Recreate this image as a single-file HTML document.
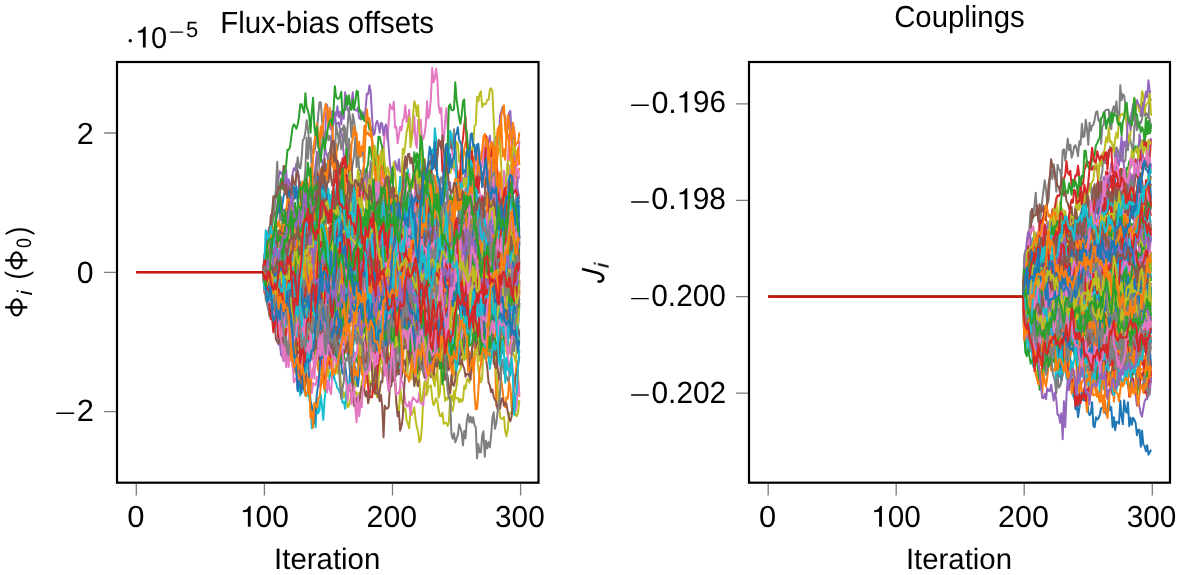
<!DOCTYPE html>
<html><head><meta charset="utf-8"><style>
html,body{margin:0;padding:0;background:#fff;}
svg{display:block;font-family:"Liberation Sans",sans-serif;}
.ln path{vector-effect:non-scaling-stroke;}
</style></head><body>
<svg width="1181" height="575" viewBox="0 0 1181 575">
<defs><clipPath id="c1"><rect x="117" y="62" width="421.5" height="420.7"/></clipPath><clipPath id="c2"><rect x="749" y="62" width="421" height="420.7"/></clipPath></defs>
<rect width="1181" height="575" fill="#fff"/>
<g class="ln" clip-path="url(#c1)"><g transform="translate(136.30 272.30) scale(1.2810 0.5000)" fill="none" stroke-width="2.00" stroke-linejoin="round" stroke-linecap="butt"><path stroke="#1f77b4" d="M99 0l1 -12 1 7 1 1 1 -1 1 -10 1 -12 1 -8 1 -1 1 -1 1 18 1 18 1 -4 1 -5 1 -29 1 31 1 -15 1 16 1 -16 1 12 1 -1 1 -37 1 -17 1 -8 1 -11 1 -26 1 17 1 32 1 37 1 6 1 -42 1 11 1 34 1 37 1 0 1 -4 1 12 1 6 1 30 1 30 1 14 1 17 1 -14 1 -12 1 42 1 2 1 -8 1 -14 1 -1 1 16 1 1 1 9 1 -19 1 -24 1 55 1 14 1 0 1 -22 1 19 1 9 1 -7 1 13 1 18 1 -9 1 -11 1 25 1 29 1 1 1 -49 1 -15 1 -28 1 23 1 6 1 -2 1 12 1 -46 1 -41 1 -12 1 -3 1 -51 1 25 1 1 1 24 1 -26 1 -12 1 17 1 2 1 -2 1 -7 1 -39 1 -17 1 10 1 -1 1 10 1 -8 1 -7 1 -3 1 53 1 -21 1 11 1 -2 1 10 1 -7 1 20 1 9 1 -16 1 -6 1 -6 1 -14 1 -4 1 -14 1 -2 1 -27 1 29 1 -1 1 -10 1 -10 1 22 1 6 1 12 1 3 1 26 1 -2 1 -17 1 -12 1 -16 1 -13 1 -11 1 -9 1 -20 1 16 1 15 1 -10 1 -23 1 -13 1 -29 1 31 1 -26 1 14 1 53 1 -26 1 -20 1 37 1 -3 1 6 1 8 1 -21 1 24 1 -27 1 10 1 -4 1 7 1 17 1 8 1 -23 1 -17 1 1 1 -11 1 -30 1 8 1 6 1 5 1 12 1 -3 1 23 1 4 1 -52 1 4 1 34 1 -36 1 -4 1 -15 1 -7 1 30 1 -23 1 -15 1 -32 1 -26 1 22 1 13 1 17 1 32 1 -8 1 15 1 31 1 -13 1 17 1 5 1 22 1 -15 1 3 1 21 1 -1 1 5 1 -41 1 14 1 21 1 -37 1 7 1 18 1 0"/>
<path stroke="#ff7f0e" d="M99 0l1 -25 1 -1 1 13 1 -13 1 27 1 -58 1 0 1 18 1 17 1 38 1 2 1 -16 1 -6 1 -30 1 -12 1 70 1 36 1 13 1 38 1 -14 1 27 1 38 1 12 1 -11 1 38 1 -14 1 23 1 -21 1 20 1 13 1 -21 1 -47 1 -15 1 -5 1 4 1 54 1 -21 1 -23 1 -8 1 24 1 -31 1 -12 1 -48 1 9 1 -19 1 22 1 -20 1 30 1 -16 1 10 1 -15 1 -5 1 -19 1 12 1 -45 1 -64 1 14 1 -71 1 -2 1 26 1 33 1 -6 1 -18 1 15 1 71 1 40 1 -7 1 -28 1 -42 1 -15 1 -22 1 -15 1 22 1 34 1 20 1 -14 1 19 1 1 1 13 1 -20 1 -23 1 -31 1 22 1 -33 1 8 1 59 1 11 1 10 1 47 1 48 1 -30 1 -40 1 -33 1 -33 1 -10 1 41 1 33 1 -9 1 -20 1 9 1 -8 1 7 1 -46 1 4 1 -4 1 126 1 -27 1 -14 1 -3 1 31 1 21 1 16 1 -28 1 17 1 42 1 -56 1 46 1 -32 1 -9 1 6 1 -60 1 49 1 -34 1 3 1 -11 1 31 1 -27 1 35 1 72 1 10 1 -16 1 8 1 -2 1 45 1 -6 1 -19 1 -30 1 -7 1 24 1 12 1 -78 1 -9 1 -8 1 13 1 14 1 -13 1 50 1 19 1 -37 1 25 1 -57 1 -4 1 -23 1 34 1 -23 1 11 1 2 1 -16 1 15 1 76 1 -26 1 6 1 16 1 19 1 -18 1 -65 1 -2 1 27 1 -11 1 -108 1 32 1 110 1 -22 1 20 1 8 1 -16 1 14 1 4 1 -29 1 -8 1 25 1 107 1 -42 1 -14 1 -8 1 16 1 18 1 24 1 9 1 -20 1 2 1 -33 1 9 1 43 1 -31 1 -10 1 -24 1 -28 1 29 1 42"/>
<path stroke="#2ca02c" d="M99 0l1 7 1 -26 1 -2 1 -5 1 -19 1 -10 1 -28 1 -3 1 11 1 10 1 14 1 -2 1 4 1 -12 1 -2 1 -9 1 -11 1 -18 1 24 1 5 1 13 1 28 1 -24 1 8 1 16 1 7 1 -2 1 19 1 -4 1 16 1 9 1 44 1 8 1 7 1 -25 1 35 1 -8 1 -6 1 -7 1 39 1 6 1 3 1 -1 1 5 1 26 1 -6 1 -9 1 -19 1 0 1 -8 1 -2 1 -13 1 13 1 16 1 26 1 18 1 -3 1 24 1 4 1 -16 1 1 1 16 1 -8 1 -36 1 -8 1 -13 1 34 1 16 1 12 1 15 1 -11 1 -7 1 1 1 -11 1 25 1 -26 1 0 1 13 1 0 1 -5 1 -20 1 11 1 7 1 -15 1 -19 1 19 1 -18 1 -40 1 -14 1 -35 1 -14 1 -14 1 12 1 -18 1 -5 1 -7 1 9 1 19 1 7 1 -40 1 6 1 -14 1 -6 1 -11 1 37 1 -1 1 -7 1 15 1 -10 1 -4 1 9 1 -1 1 8 1 -3 1 -10 1 39 1 -23 1 11 1 -20 1 17 1 -18 1 -27 1 8 1 31 1 13 1 9 1 -21 1 26 1 -29 1 16 1 2 1 16 1 -26 1 -8 1 24 1 -35 1 20 1 12 1 40 1 -20 1 -26 1 8 1 40 1 -2 1 19 1 -36 1 3 1 -5 1 -19 1 -16 1 7 1 -18 1 4 1 18 1 21 1 -22 1 -20 1 -40 1 -14 1 8 1 -1 1 12 1 0 1 -5 1 5 1 6 1 12 1 18 1 26 1 18 1 -25 1 -10 1 -10 1 21 1 1 1 -23 1 35 1 -11 1 -5 1 -8 1 4 1 30 1 40 1 25 1 -48 1 5 1 6 1 7 1 -6 1 -24 1 -6 1 -27 1 -2 1 14 1 14 1 -8 1 13 1 -12 1 8 1 11"/>
<path stroke="#d62728" d="M99 0l1 -2 1 5 1 -13 1 -5 1 -13 1 8 1 3 1 7 1 -4 1 -9 1 6 1 6 1 0 1 1 1 -3 1 -6 1 -5 1 10 1 12 1 9 1 11 1 21 1 -6 1 -3 1 -3 1 -11 1 17 1 11 1 -13 1 -3 1 -13 1 5 1 6 1 -15 1 -7 1 -10 1 -11 1 -6 1 16 1 3 1 -6 1 -11 1 -3 1 -29 1 4 1 28 1 9 1 -5 1 -18 1 -1 1 -3 1 11 1 -9 1 -10 1 -10 1 19 1 22 1 -7 1 -8 1 6 1 16 1 11 1 -11 1 6 1 -14 1 -1 1 -11 1 -11 1 1 1 -21 1 -22 1 10 1 23 1 11 1 8 1 11 1 13 1 15 1 -10 1 26 1 8 1 -2 1 -3 1 4 1 -20 1 2 1 -4 1 9 1 32 1 -9 1 5 1 -20 1 0 1 -11 1 -15 1 -26 1 12 1 18 1 -9 1 2 1 -24 1 25 1 -14 1 -13 1 15 1 -1 1 -8 1 -16 1 8 1 -5 1 3 1 -12 1 -7 1 -4 1 -4 1 -2 1 10 1 4 1 -12 1 10 1 2 1 9 1 -5 1 -5 1 -15 1 -3 1 -23 1 -9 1 3 1 -1 1 -8 1 -6 1 -8 1 4 1 1 1 -14 1 36 1 19 1 3 1 -17 1 -26 1 15 1 12 1 -9 1 -6 1 -4 1 4 1 5 1 10 1 -19 1 1 1 -3 1 20 1 4 1 0 1 14 1 15 1 4 1 -8 1 -4 1 7 1 8 1 13 1 10 1 13 1 16 1 -13 1 20 1 6 1 7 1 -11 1 -5 1 8 1 -7 1 16 1 -14 1 2 1 1 1 -33 1 -4 1 -9 1 -6 1 4 1 15 1 -2 1 7 1 -3 1 8 1 0 1 -7 1 -15 1 -6 1 15 1 0 1 20 1 -2 1 6 1 -13 1 -2 1 7"/>
<path stroke="#9467bd" d="M99 0l1 2 1 8 1 -21 1 -31 1 20 1 17 1 -10 1 -39 1 -6 1 -53 1 -9 1 -41 1 14 1 -2 1 22 1 9 1 -5 1 -2 1 27 1 44 1 -17 1 -15 1 11 1 30 1 -17 1 11 1 -44 1 21 1 -25 1 -5 1 34 1 -23 1 -17 1 10 1 2 1 -9 1 -30 1 28 1 -57 1 -23 1 -26 1 -24 1 14 1 -17 1 14 1 7 1 17 1 -31 1 -75 1 -23 1 32 1 10 1 8 1 -38 1 15 1 -9 1 22 1 -3 1 -2 1 13 1 6 1 13 1 36 1 17 1 33 1 -12 1 22 1 -7 1 43 1 -23 1 26 1 13 1 2 1 -32 1 -33 1 0 1 25 1 -42 1 43 1 14 1 14 1 -29 1 47 1 -61 1 4 1 17 1 23 1 -12 1 -32 1 27 1 -17 1 -6 1 54 1 0 1 -50 1 35 1 -3 1 7 1 -13 1 21 1 -5 1 -11 1 10 1 18 1 -7 1 54 1 -65 1 56 1 82 1 -42 1 47 1 14 1 -26 1 -6 1 -41 1 -6 1 -16 1 -4 1 27 1 -19 1 16 1 -22 1 -9 1 0 1 12 1 -65 1 19 1 4 1 -44 1 20 1 -9 1 4 1 12 1 -27 1 0 1 -24 1 -4 1 46 1 -17 1 -11 1 -3 1 -45 1 34 1 4 1 1 1 -15 1 69 1 -11 1 -8 1 -8 1 -24 1 15 1 -37 1 81 1 -13 1 3 1 40 1 31 1 -6 1 29 1 -6 1 37 1 19 1 -66 1 5 1 14 1 -2 1 20 1 -48 1 40 1 -26 1 50 1 29 1 -8 1 -17 1 13 1 1 1 -11 1 39 1 -18 1 -21 1 -10 1 -23 1 -29 1 -19 1 28 1 -12 1 -4 1 -18 1 32 1 19 1 -14 1 -9 1 -10 1 23 1 -3 1 -5 1 20 1 -19 1 15"/>
<path stroke="#8c564b" d="M99 0l1 -27 1 1 1 -16 1 -24 1 -10 1 -37 1 -6 1 -16 1 13 1 19 1 -25 1 -19 1 -12 1 -16 1 -8 1 -30 1 3 1 50 1 11 1 -24 1 11 1 32 1 27 1 22 1 9 1 39 1 46 1 18 1 -14 1 10 1 20 1 -24 1 -21 1 -30 1 14 1 -28 1 -5 1 -35 1 -35 1 -8 1 6 1 7 1 -15 1 6 1 31 1 21 1 -9 1 -11 1 -15 1 -8 1 14 1 -1 1 -11 1 8 1 -24 1 24 1 -38 1 13 1 31 1 36 1 -7 1 14 1 -23 1 14 1 -10 1 13 1 22 1 7 1 -4 1 -4 1 9 1 3 1 8 1 3 1 -8 1 -12 1 -1 1 0 1 -36 1 -6 1 -14 1 -43 1 22 1 0 1 -21 1 -5 1 -48 1 30 1 4 1 8 1 12 1 18 1 -27 1 1 1 -2 1 8 1 11 1 -14 1 44 1 36 1 3 1 26 1 -9 1 -20 1 -4 1 14 1 35 1 36 1 -13 1 -26 1 19 1 29 1 -17 1 -21 1 -51 1 46 1 -36 1 -5 1 5 1 55 1 46 1 -9 1 8 1 22 1 38 1 16 1 19 1 16 1 35 1 -8 1 19 1 -27 1 24 1 -22 1 -25 1 6 1 -11 1 1 1 -5 1 -12 1 -38 1 25 1 6 1 -23 1 -18 1 -20 1 16 1 7 1 29 1 -24 1 -1 1 24 1 -18 1 7 1 -19 1 5 1 8 1 11 1 -14 1 -32 1 41 1 15 1 -3 1 -27 1 2 1 -9 1 15 1 47 1 -45 1 11 1 -26 1 47 1 -29 1 -15 1 4 1 6 1 22 1 20 1 -21 1 58 1 -33 1 13 1 28 1 21 1 3 1 -64 1 11 1 -21 1 -30 1 16 1 20 1 8 1 -5 1 -26 1 5 1 -41 1 35 1 7 1 25 1 1"/>
<path stroke="#e377c2" d="M99 0l1 25 1 -39 1 29 1 41 1 -20 1 0 1 -3 1 39 1 5 1 -4 1 -16 1 11 1 29 1 45 1 -22 1 13 1 25 1 32 1 -31 1 30 1 -55 1 -17 1 -30 1 -23 1 23 1 -3 1 41 1 4 1 8 1 -43 1 -3 1 -50 1 -58 1 94 1 -56 1 15 1 -23 1 8 1 -47 1 -33 1 26 1 2 1 4 1 24 1 -12 1 -23 1 -33 1 46 1 -12 1 -9 1 13 1 -37 1 -6 1 0 1 -12 1 28 1 6 1 16 1 44 1 7 1 40 1 -2 1 25 1 -10 1 -29 1 -13 1 -41 1 15 1 28 1 -10 1 -3 1 -17 1 1 1 -33 1 -26 1 -10 1 -87 1 62 1 7 1 -28 1 36 1 -32 1 -10 1 13 1 1 1 -11 1 15 1 -54 1 11 1 1 1 -25 1 -10 1 -64 1 6 1 -44 1 -3 1 23 1 -34 1 -37 1 7 1 3 1 -15 1 52 1 -2 1 33 1 -16 1 -17 1 7 1 -20 1 -5 1 -25 1 33 1 -1 1 -23 1 46 1 13 1 -15 1 -31 1 52 1 11 1 -55 1 7 1 -8 1 41 1 -3 1 -9 1 -20 1 -46 1 34 1 -10 1 -31 1 -60 1 29 1 -7 1 -20 1 20 1 53 1 15 1 -10 1 55 1 12 1 -37 1 -29 1 40 1 15 1 11 1 9 1 20 1 28 1 2 1 17 1 26 1 30 1 29 1 4 1 -20 1 21 1 12 1 -16 1 3 1 -6 1 -26 1 3 1 5 1 1 1 -19 1 -19 1 -10 1 6 1 32 1 -24 1 26 1 69 1 -32 1 -13 1 7 1 -17 1 7 1 -21 1 -22 1 -14 1 -11 1 33 1 19 1 -66 1 0 1 45 1 -59 1 27 1 -12 1 -32 1 -49 1 -9 1 21 1 12 1 -45 1 94 1 -20 1 1 1 -48"/>
<path stroke="#7f7f7f" d="M99 0l1 21 1 -2 1 0 1 -1 1 1 1 6 1 -31 1 1 1 -15 1 -35 1 -12 1 21 1 -2 1 -37 1 -22 1 -7 1 13 1 -18 1 -8 1 19 1 -3 1 26 1 13 1 -44 1 -17 1 20 1 4 1 24 1 10 1 -6 1 14 1 72 1 20 1 -2 1 31 1 41 1 -35 1 -54 1 3 1 26 1 20 1 21 1 -10 1 -5 1 -11 1 -8 1 -5 1 16 1 59 1 3 1 -21 1 -5 1 -11 1 22 1 -8 1 -43 1 37 1 77 1 -2 1 -24 1 -8 1 -14 1 4 1 -11 1 -51 1 87 1 0 1 -15 1 11 1 -35 1 5 1 11 1 -2 1 -8 1 4 1 0 1 22 1 -32 1 13 1 -18 1 60 1 2 1 -10 1 -26 1 18 1 -9 1 6 1 -1 1 13 1 14 1 -68 1 -28 1 -17 1 -52 1 -17 1 4 1 15 1 -16 1 50 1 -7 1 14 1 -8 1 -6 1 -14 1 11 1 -57 1 -18 1 24 1 3 1 30 1 -3 1 48 1 9 1 8 1 -12 1 -1 1 -25 1 -36 1 53 1 -35 1 8 1 45 1 62 1 64 1 -36 1 -9 1 -9 1 -32 1 -5 1 -22 1 -8 1 25 1 5 1 26 1 -18 1 -2 1 31 1 -1 1 -17 1 -49 1 26 1 0 1 -14 1 7 1 -81 1 10 1 -29 1 3 1 21 1 -9 1 -14 1 28 1 8 1 10 1 -26 1 23 1 8 1 -9 1 -33 1 -15 1 2 1 -27 1 -6 1 57 1 -29 1 20 1 -18 1 -11 1 2 1 56 1 -43 1 22 1 -20 1 1 1 33 1 5 1 24 1 -33 1 -5 1 -36 1 28 1 -46 1 -35 1 -8 1 21 1 2 1 21 1 13 1 16 1 33 1 -23 1 -21 1 24 1 7 1 -2 1 -45 1 10 1 3 1 -4 1 -12"/>
<path stroke="#bcbd22" d="M99 0l1 19 1 -8 1 3 1 8 1 6 1 7 1 27 1 -3 1 15 1 -20 1 22 1 -6 1 8 1 7 1 16 1 -2 1 18 1 -18 1 -14 1 -32 1 -26 1 -30 1 40 1 -3 1 44 1 -3 1 30 1 -4 1 0 1 -20 1 -5 1 33 1 24 1 -25 1 15 1 13 1 6 1 -8 1 5 1 19 1 -4 1 -3 1 18 1 27 1 0 1 3 1 21 1 17 1 -32 1 -12 1 17 1 -34 1 -7 1 -17 1 52 1 1 1 -24 1 22 1 -15 1 11 1 31 1 7 1 14 1 -9 1 -5 1 33 1 -3 1 -12 1 -20 1 -1 1 0 1 9 1 -3 1 23 1 -22 1 10 1 -34 1 -3 1 2 1 5 1 -1 1 -25 1 31 1 -8 1 1 1 -37 1 3 1 19 1 44 1 -64 1 6 1 1 1 13 1 -4 1 -38 1 -20 1 32 1 -13 1 9 1 2 1 4 1 38 1 9 1 41 1 6 1 15 1 -56 1 25 1 11 1 12 1 -5 1 24 1 6 1 10 1 -33 1 6 1 -7 1 -8 1 25 1 15 1 9 1 21 1 -5 1 -28 1 -53 1 -16 1 9 1 -6 1 -32 1 -13 1 2 1 9 1 10 1 11 1 -25 1 -7 1 55 1 -10 1 -45 1 24 1 7 1 30 1 -6 1 4 1 -9 1 -6 1 -14 1 -15 1 -8 1 -11 1 -33 1 22 1 -27 1 10 1 2 1 6 1 -67 1 -6 1 -35 1 -23 1 6 1 32 1 -34 1 -11 1 -24 1 11 1 -16 1 9 1 -29 1 22 1 -29 1 -9 1 39 1 -3 1 32 1 -25 1 53 1 -14 1 25 1 1 1 -3 1 -6 1 6 1 -2 1 -9 1 25 1 -8 1 33 1 15 1 32 1 7 1 -8 1 -21 1 1 1 24 1 4 1 12 1 -25 1 -6 1 -18"/>
<path stroke="#17becf" d="M99 0l1 -12 1 -27 1 -37 1 21 1 -2 1 19 1 17 1 2 1 -8 1 14 1 -6 1 -13 1 37 1 -5 1 -53 1 22 1 -25 1 -10 1 -8 1 0 1 5 1 64 1 -24 1 -16 1 -12 1 43 1 13 1 72 1 23 1 36 1 -33 1 -12 1 -10 1 -66 1 -38 1 -34 1 -25 1 21 1 -20 1 -8 1 -10 1 16 1 -7 1 9 1 -65 1 -12 1 9 1 -10 1 -52 1 50 1 28 1 13 1 27 1 -3 1 -8 1 -12 1 -44 1 -29 1 -10 1 35 1 21 1 -40 1 38 1 31 1 37 1 20 1 -66 1 10 1 3 1 5 1 5 1 -7 1 49 1 33 1 -25 1 -46 1 65 1 -12 1 0 1 30 1 28 1 -35 1 11 1 -17 1 -57 1 -10 1 -43 1 26 1 -41 1 -53 1 -22 1 10 1 9 1 1 1 97 1 6 1 14 1 -71 1 31 1 22 1 -9 1 -36 1 54 1 -3 1 41 1 -47 1 -17 1 -19 1 26 1 -7 1 -55 1 -3 1 -17 1 24 1 24 1 14 1 27 1 50 1 -46 1 35 1 -55 1 -51 1 -31 1 -38 1 33 1 70 1 26 1 -26 1 -15 1 -12 1 -19 1 -51 1 38 1 -80 1 21 1 79 1 12 1 32 1 45 1 -7 1 -6 1 24 1 35 1 20 1 -5 1 54 1 -7 1 -14 1 4 1 -28 1 -37 1 -22 1 -1 1 10 1 69 1 -18 1 -11 1 -28 1 8 1 21 1 17 1 -31 1 -43 1 -13 1 -28 1 25 1 -24 1 -15 1 31 1 23 1 -39 1 -15 1 38 1 24 1 25 1 -9 1 11 1 60 1 -48 1 11 1 25 1 -31 1 28 1 -65 1 50 1 -7 1 2 1 3 1 -55 1 20 1 28 1 45 1 -16 1 5 1 29 1 -2 1 50 1 -8 1 -28 1 -17"/>
<path stroke="#1f77b4" d="M99 0l1 1 1 7 1 15 1 2 1 -16 1 32 1 -14 1 -14 1 -1 1 -40 1 -18 1 21 1 -1 1 24 1 -6 1 -5 1 13 1 5 1 -7 1 -10 1 -17 1 0 1 0 1 1 1 -8 1 9 1 -1 1 -7 1 -19 1 -30 1 24 1 -35 1 15 1 29 1 8 1 10 1 22 1 17 1 12 1 -2 1 -3 1 32 1 24 1 0 1 3 1 27 1 -42 1 -18 1 -15 1 32 1 7 1 -23 1 16 1 0 1 18 1 -10 1 -2 1 22 1 -27 1 26 1 -31 1 -13 1 -17 1 2 1 3 1 -23 1 47 1 20 1 -3 1 -15 1 -16 1 10 1 2 1 -8 1 15 1 -10 1 3 1 -19 1 -8 1 31 1 -13 1 -16 1 -10 1 21 1 -25 1 -25 1 14 1 12 1 11 1 -31 1 -8 1 -11 1 -14 1 -16 1 30 1 10 1 3 1 23 1 25 1 14 1 -33 1 0 1 5 1 14 1 -14 1 -22 1 22 1 23 1 13 1 -6 1 59 1 -23 1 42 1 -17 1 -23 1 -23 1 -5 1 -8 1 -1 1 -13 1 -19 1 -15 1 9 1 13 1 -2 1 -15 1 -1 1 22 1 -22 1 7 1 -8 1 -36 1 -31 1 35 1 -11 1 18 1 10 1 36 1 -1 1 -9 1 -4 1 2 1 17 1 7 1 -13 1 3 1 13 1 -32 1 -24 1 0 1 -2 1 12 1 -1 1 20 1 2 1 34 1 17 1 -15 1 -6 1 -23 1 -14 1 -11 1 -13 1 -5 1 -15 1 8 1 10 1 -13 1 2 1 26 1 26 1 -21 1 -21 1 -3 1 -2 1 30 1 21 1 -32 1 2 1 -3 1 27 1 8 1 14 1 -20 1 -11 1 -27 1 18 1 6 1 5 1 -1 1 23 1 -6 1 -3 1 14 1 -22 1 9 1 -12 1 5 1 -23 1 -1"/>
<path stroke="#ff7f0e" d="M99 0l1 -4 1 2 1 21 1 2 1 8 1 10 1 -10 1 2 1 -5 1 4 1 -13 1 12 1 11 1 4 1 -23 1 13 1 -26 1 -14 1 -11 1 -2 1 -28 1 -16 1 23 1 -10 1 2 1 -19 1 -2 1 6 1 31 1 1 1 8 1 9 1 9 1 -3 1 10 1 1 1 20 1 21 1 4 1 -7 1 -29 1 -18 1 -3 1 3 1 6 1 35 1 6 1 20 1 -12 1 -9 1 13 1 3 1 -10 1 30 1 16 1 -6 1 16 1 10 1 7 1 3 1 -17 1 0 1 0 1 -8 1 -7 1 -13 1 -3 1 -18 1 -16 1 12 1 -10 1 6 1 -7 1 1 1 -1 1 4 1 -9 1 -20 1 -9 1 5 1 25 1 28 1 -21 1 -1 1 -3 1 -15 1 8 1 10 1 -9 1 -17 1 -17 1 0 1 3 1 -10 1 -13 1 -3 1 -3 1 1 1 20 1 21 1 -15 1 -11 1 -1 1 1 1 -28 1 14 1 26 1 5 1 15 1 6 1 -10 1 16 1 -12 1 12 1 17 1 -6 1 -19 1 8 1 -16 1 -17 1 -10 1 -20 1 14 1 3 1 -8 1 8 1 -1 1 -26 1 -1 1 -4 1 -18 1 -9 1 -25 1 5 1 10 1 8 1 -18 1 8 1 12 1 9 1 4 1 -9 1 8 1 6 1 12 1 13 1 -7 1 7 1 5 1 51 1 -21 1 23 1 -10 1 14 1 -9 1 17 1 -25 1 10 1 7 1 -14 1 11 1 -1 1 -22 1 25 1 7 1 -2 1 0 1 0 1 -32 1 4 1 -3 1 19 1 -8 1 28 1 -6 1 4 1 -2 1 9 1 9 1 -9 1 26 1 20 1 -30 1 3 1 -9 1 -5 1 -29 1 1 1 4 1 4 1 -2 1 18 1 -18 1 25 1 9 1 -4 1 -2 1 -2 1 -3 1 -26"/>
<path stroke="#2ca02c" d="M99 0l1 19 1 -1 1 13 1 18 1 -9 1 -23 1 1 1 9 1 0 1 -1 1 -2 1 -13 1 5 1 6 1 -2 1 -17 1 -13 1 -13 1 1 1 8 1 9 1 18 1 17 1 36 1 1 1 6 1 -9 1 -9 1 -26 1 29 1 8 1 -9 1 18 1 -28 1 20 1 -7 1 3 1 9 1 -13 1 21 1 19 1 0 1 11 1 13 1 -10 1 57 1 -31 1 5 1 0 1 2 1 1 1 -48 1 -12 1 14 1 36 1 -29 1 8 1 4 1 -10 1 6 1 -39 1 -6 1 2 1 -5 1 -6 1 -10 1 -23 1 17 1 8 1 14 1 -8 1 -2 1 -41 1 4 1 16 1 23 1 -15 1 -20 1 -4 1 33 1 -19 1 42 1 7 1 11 1 11 1 1 1 35 1 11 1 -26 1 -54 1 12 1 29 1 1 1 11 1 -6 1 4 1 -34 1 -33 1 1 1 14 1 -1 1 17 1 25 1 16 1 -6 1 11 1 13 1 -2 1 -28 1 6 1 -15 1 1 1 -32 1 20 1 28 1 -6 1 -10 1 11 1 -15 1 -35 1 4 1 27 1 29 1 -44 1 -10 1 17 1 -7 1 -14 1 2 1 -15 1 17 1 7 1 -13 1 -48 1 7 1 -20 1 -24 1 -18 1 51 1 16 1 13 1 -2 1 13 1 -25 1 -11 1 -10 1 1 1 -1 1 -17 1 7 1 32 1 13 1 13 1 25 1 0 1 -33 1 -14 1 -2 1 21 1 -8 1 -8 1 2 1 -10 1 0 1 45 1 -3 1 3 1 -18 1 10 1 13 1 -25 1 36 1 19 1 6 1 4 1 2 1 27 1 -12 1 27 1 -15 1 -21 1 13 1 20 1 12 1 -19 1 -25 1 15 1 -25 1 4 1 -19 1 12 1 -24 1 -28 1 -13 1 -38 1 -16 1 5 1 2 1 -33 1 -36"/>
<path stroke="#d62728" d="M99 0l1 -1 1 7 1 15 1 6 1 23 1 1 1 -9 1 -20 1 -7 1 -2 1 2 1 13 1 -5 1 -1 1 -2 1 17 1 -15 1 -2 1 3 1 -2 1 4 1 2 1 6 1 -18 1 30 1 -7 1 -6 1 -25 1 -3 1 9 1 -13 1 -22 1 -6 1 2 1 -14 1 8 1 -6 1 5 1 -15 1 11 1 5 1 -10 1 2 1 7 1 -3 1 7 1 -11 1 10 1 12 1 8 1 23 1 -18 1 -12 1 -15 1 -11 1 10 1 -19 1 -35 1 15 1 -10 1 28 1 2 1 -19 1 7 1 8 1 -5 1 -3 1 -9 1 0 1 -14 1 10 1 -34 1 -4 1 -17 1 23 1 8 1 -1 1 9 1 13 1 17 1 -28 1 0 1 16 1 6 1 1 1 -20 1 -1 1 1 1 5 1 -3 1 -24 1 -38 1 -14 1 -7 1 13 1 26 1 -17 1 13 1 -19 1 13 1 -3 1 -26 1 7 1 25 1 25 1 13 1 -5 1 -3 1 23 1 -14 1 14 1 28 1 24 1 2 1 -12 1 19 1 16 1 -11 1 17 1 11 1 17 1 -22 1 23 1 -12 1 2 1 13 1 -5 1 -11 1 -5 1 -18 1 -8 1 1 1 -12 1 -7 1 1 1 -4 1 5 1 7 1 -28 1 -2 1 -7 1 -7 1 -14 1 -11 1 8 1 -8 1 -7 1 2 1 29 1 -8 1 23 1 23 1 6 1 6 1 -32 1 -15 1 -4 1 22 1 -9 1 2 1 19 1 -9 1 -23 1 6 1 -2 1 -3 1 10 1 20 1 10 1 7 1 9 1 -5 1 -24 1 -26 1 -19 1 20 1 -7 1 -5 1 7 1 -3 1 22 1 5 1 -4 1 -13 1 11 1 -1 1 -11 1 -47 1 2 1 14 1 -8 1 29 1 -6 1 -7 1 1 1 2 1 -15 1 -3 1 2 1 13"/>
<path stroke="#9467bd" d="M99 0l1 2 1 -10 1 -8 1 -9 1 -38 1 10 1 6 1 0 1 -13 1 22 1 18 1 6 1 27 1 2 1 22 1 29 1 7 1 8 1 25 1 0 1 -18 1 -20 1 25 1 34 1 -26 1 -6 1 -23 1 -1 1 4 1 4 1 0 1 -21 1 3 1 -14 1 -9 1 24 1 1 1 -2 1 -16 1 -20 1 13 1 -13 1 19 1 -15 1 7 1 5 1 -5 1 12 1 7 1 10 1 -39 1 39 1 -15 1 35 1 -33 1 -9 1 0 1 -44 1 -59 1 -15 1 4 1 -14 1 -22 1 33 1 15 1 -14 1 -21 1 -4 1 -8 1 -45 1 -13 1 9 1 -7 1 -19 1 -3 1 29 1 14 1 -6 1 -16 1 9 1 20 1 34 1 -11 1 16 1 -32 1 19 1 -2 1 2 1 -46 1 23 1 16 1 27 1 6 1 14 1 -17 1 18 1 -2 1 17 1 0 1 -7 1 -42 1 -9 1 -6 1 16 1 0 1 16 1 17 1 25 1 -12 1 19 1 -8 1 17 1 56 1 -35 1 -18 1 -13 1 -20 1 -40 1 39 1 4 1 6 1 22 1 -23 1 -24 1 -17 1 26 1 -21 1 -13 1 7 1 30 1 -15 1 -25 1 -3 1 12 1 14 1 -4 1 10 1 8 1 7 1 -37 1 10 1 -29 1 21 1 -11 1 3 1 -2 1 -5 1 4 1 -6 1 39 1 -1 1 18 1 -12 1 -27 1 -5 1 -13 1 -9 1 12 1 -22 1 -25 1 -23 1 -1 1 -17 1 30 1 -50 1 6 1 -5 1 36 1 -18 1 -3 1 28 1 -15 1 16 1 -47 1 -37 1 -9 1 -11 1 28 1 -1 1 -9 1 -16 1 11 1 -5 1 9 1 -59 1 -7 1 -9 1 12 1 11 1 30 1 -9 1 -31 1 -5 1 56 1 -2 1 65 1 25 1 1 1 17 1 10"/>
<path stroke="#8c564b" d="M99 0l1 4 1 -5 1 13 1 6 1 14 1 -1 1 -2 1 -3 1 -28 1 25 1 15 1 -12 1 0 1 5 1 9 1 -13 1 -19 1 20 1 -6 1 2 1 31 1 13 1 15 1 -16 1 22 1 4 1 -10 1 -24 1 3 1 22 1 -12 1 -46 1 -22 1 -21 1 38 1 0 1 16 1 -29 1 3 1 -8 1 30 1 -4 1 -7 1 -8 1 6 1 23 1 40 1 -33 1 -6 1 -29 1 0 1 6 1 12 1 31 1 -21 1 -9 1 2 1 20 1 -28 1 0 1 9 1 5 1 -8 1 -41 1 -5 1 16 1 -16 1 -28 1 32 1 26 1 -42 1 -3 1 -17 1 8 1 -3 1 8 1 8 1 -6 1 -10 1 -23 1 -25 1 0 1 -7 1 2 1 6 1 7 1 0 1 9 1 2 1 -19 1 14 1 2 1 -31 1 14 1 -8 1 -4 1 6 1 -21 1 39 1 12 1 -7 1 -6 1 9 1 5 1 32 1 -7 1 -10 1 1 1 7 1 22 1 19 1 -15 1 14 1 12 1 -9 1 -23 1 -10 1 -13 1 -3 1 -18 1 8 1 13 1 -7 1 5 1 5 1 17 1 2 1 4 1 2 1 3 1 -20 1 -3 1 -27 1 -30 1 18 1 -22 1 18 1 20 1 -4 1 20 1 2 1 21 1 -23 1 28 1 0 1 2 1 8 1 -16 1 8 1 -24 1 -34 1 3 1 35 1 15 1 -12 1 38 1 6 1 20 1 -26 1 26 1 4 1 -15 1 11 1 -11 1 16 1 -31 1 4 1 6 1 23 1 -9 1 13 1 2 1 16 1 20 1 -7 1 49 1 -34 1 -13 1 17 1 -27 1 -18 1 -13 1 0 1 -19 1 9 1 -27 1 45 1 27 1 23 1 9 1 1 1 -31 1 -11 1 -13 1 17 1 -14 1 -22 1 3 1 11 1 18"/>
<path stroke="#e377c2" d="M99 0l1 -28 1 -4 1 -5 1 -9 1 2 1 -7 1 -6 1 -13 1 4 1 -7 1 2 1 3 1 28 1 -6 1 11 1 28 1 18 1 27 1 -12 1 -13 1 -13 1 -36 1 21 1 7 1 0 1 3 1 -2 1 19 1 -14 1 2 1 29 1 5 1 12 1 -17 1 -24 1 46 1 30 1 -23 1 0 1 28 1 -33 1 12 1 36 1 5 1 4 1 30 1 -14 1 1 1 -29 1 7 1 -5 1 8 1 -8 1 28 1 -15 1 11 1 11 1 -16 1 -38 1 -3 1 -14 1 -28 1 1 1 -4 1 -1 1 14 1 -21 1 22 1 -4 1 23 1 9 1 -32 1 18 1 13 1 6 1 -8 1 28 1 4 1 -38 1 0 1 7 1 27 1 -11 1 -24 1 54 1 -14 1 29 1 28 1 14 1 33 1 -19 1 -52 1 -1 1 -26 1 -17 1 -3 1 21 1 10 1 11 1 30 1 7 1 16 1 10 1 -9 1 -16 1 22 1 -7 1 33 1 2 1 17 1 22 1 8 1 0 1 -9 1 26 1 -26 1 -9 1 4 1 1 1 5 1 -1 1 -19 1 22 1 1 1 4 1 -36 1 -17 1 -8 1 -8 1 -38 1 8 1 -7 1 7 1 -7 1 1 1 -32 1 -18 1 -4 1 -19 1 2 1 -31 1 -20 1 -35 1 22 1 -32 1 -1 1 14 1 18 1 -16 1 -25 1 -2 1 -26 1 39 1 0 1 -24 1 14 1 11 1 -31 1 -20 1 8 1 -15 1 6 1 0 1 -6 1 -20 1 1 1 -27 1 22 1 -5 1 -24 1 2 1 7 1 35 1 1 1 13 1 -28 1 25 1 -14 1 7 1 19 1 -2 1 19 1 5 1 16 1 -14 1 34 1 1 1 -6 1 -3 1 -12 1 -55 1 30 1 15 1 8 1 17 1 -26 1 -1 1 0 1 -35 1 -9"/>
<path stroke="#7f7f7f" d="M99 0l1 7 1 -3 1 -6 1 -5 1 15 1 25 1 0 1 9 1 10 1 5 1 -9 1 -14 1 -10 1 3 1 -39 1 32 1 -15 1 -13 1 4 1 -12 1 9 1 0 1 27 1 -32 1 -16 1 -21 1 25 1 -32 1 -59 1 -31 1 28 1 -57 1 -31 1 -63 1 42 1 -38 1 -4 1 23 1 8 1 -3 1 -13 1 -29 1 -31 1 -26 1 0 1 35 1 29 1 20 1 -26 1 2 1 16 1 -9 1 12 1 22 1 23 1 5 1 -31 1 -3 1 -17 1 -11 1 27 1 -12 1 -17 1 -14 1 30 1 36 1 -44 1 22 1 44 1 -17 1 -16 1 -34 1 -2 1 37 1 3 1 -6 1 2 1 -10 1 45 1 -7 1 0 1 33 1 17 1 -16 1 35 1 4 1 5 1 -2 1 -2 1 10 1 -12 1 24 1 -15 1 8 1 3 1 9 1 -27 1 2 1 43 1 -37 1 14 1 28 1 1 1 8 1 -12 1 -28 1 27 1 13 1 25 1 6 1 -14 1 -15 1 4 1 1 1 -37 1 -5 1 21 1 25 1 -8 1 -16 1 1 1 -21 1 -54 1 22 1 -4 1 -27 1 -8 1 0 1 12 1 -12 1 19 1 -40 1 8 1 2 1 8 1 14 1 0 1 -16 1 -8 1 15 1 -34 1 -32 1 -15 1 5 1 -22 1 25 1 -12 1 14 1 -40 1 31 1 38 1 41 1 1 1 -20 1 17 1 6 1 -6 1 -11 1 -31 1 31 1 -31 1 58 1 -5 1 -21 1 28 1 -7 1 7 1 55 1 28 1 -8 1 -43 1 -3 1 30 1 -14 1 30 1 -26 1 2 1 22 1 16 1 31 1 13 1 -24 1 21 1 -27 1 9 1 14 1 -10 1 1 1 -14 1 10 1 39 1 -15 1 -12 1 -22 1 -7 1 -57 1 10 1 25 1 -25 1 -21"/>
<path stroke="#bcbd22" d="M99 0l1 -9 1 2 1 -18 1 10 1 -18 1 11 1 -27 1 2 1 19 1 4 1 -19 1 -26 1 -18 1 -10 1 25 1 20 1 13 1 0 1 -24 1 15 1 48 1 35 1 7 1 7 1 -26 1 12 1 -34 1 20 1 59 1 14 1 3 1 -43 1 -4 1 -47 1 4 1 -17 1 -8 1 -9 1 13 1 26 1 -28 1 -17 1 -22 1 2 1 -24 1 2 1 -33 1 2 1 14 1 19 1 -7 1 -3 1 14 1 0 1 53 1 0 1 49 1 9 1 29 1 14 1 15 1 -21 1 -14 1 10 1 -17 1 12 1 39 1 14 1 55 1 18 1 14 1 19 1 -3 1 -30 1 0 1 -18 1 2 1 36 1 -19 1 -7 1 -7 1 -8 1 2 1 -3 1 22 1 29 1 19 1 -28 1 34 1 -30 1 -33 1 -31 1 26 1 -15 1 7 1 -69 1 -16 1 -42 1 -18 1 -40 1 21 1 33 1 2 1 -13 1 24 1 13 1 -1 1 13 1 -7 1 12 1 -9 1 34 1 10 1 12 1 -12 1 54 1 25 1 10 1 4 1 12 1 -28 1 17 1 42 1 1 1 -19 1 -20 1 1 1 23 1 -11 1 -4 1 -2 1 26 1 14 1 -5 1 -9 1 6 1 18 1 11 1 1 1 -7 1 22 1 -2 1 0 1 6 1 -7 1 -46 1 -7 1 11 1 -21 1 13 1 2 1 -1 1 9 1 -7 1 6 1 -4 1 -28 1 6 1 -18 1 -2 1 8 1 -26 1 -12 1 -24 1 3 1 -5 1 7 1 29 1 15 1 12 1 -8 1 -60 1 13 1 -55 1 43 1 7 1 -2 1 4 1 -10 1 14 1 5 1 33 1 24 1 35 1 27 1 3 1 0 1 -4 1 29 1 10 1 -15 1 -30 1 -2 1 3 1 -35 1 -14 1 50 1 3 1 -7 1 -26"/>
<path stroke="#17becf" d="M99 0l1 12 1 -32 1 -9 1 -1 1 11 1 -9 1 -7 1 9 1 -7 1 41 1 -10 1 6 1 -7 1 -16 1 -3 1 22 1 -1 1 -19 1 -13 1 -25 1 -15 1 -12 1 5 1 4 1 -13 1 11 1 26 1 -39 1 -22 1 11 1 12 1 19 1 16 1 -6 1 8 1 -8 1 -4 1 31 1 42 1 -14 1 7 1 -27 1 -26 1 4 1 11 1 -32 1 -35 1 26 1 28 1 3 1 -2 1 -5 1 -8 1 -16 1 13 1 -15 1 50 1 -8 1 20 1 -20 1 15 1 -12 1 -10 1 -11 1 -19 1 38 1 18 1 10 1 -7 1 42 1 -19 1 -16 1 -16 1 14 1 -28 1 12 1 -17 1 -8 1 24 1 6 1 -21 1 -25 1 -28 1 -10 1 8 1 19 1 4 1 -16 1 2 1 36 1 44 1 10 1 -37 1 4 1 11 1 22 1 -29 1 -23 1 5 1 7 1 32 1 -9 1 -60 1 -10 1 25 1 20 1 -8 1 -12 1 4 1 -33 1 2 1 15 1 -50 1 -1 1 -1 1 12 1 15 1 -29 1 31 1 -2 1 37 1 30 1 6 1 8 1 -3 1 35 1 -38 1 31 1 -11 1 -24 1 34 1 14 1 -18 1 22 1 -12 1 -4 1 0 1 -24 1 29 1 -5 1 14 1 11 1 9 1 13 1 -8 1 -3 1 -6 1 -16 1 -37 1 -7 1 28 1 11 1 -3 1 -22 1 -12 1 2 1 22 1 -33 1 -11 1 11 1 -5 1 -8 1 -2 1 9 1 -16 1 -1 1 15 1 5 1 6 1 8 1 -11 1 1 1 15 1 3 1 -28 1 -14 1 6 1 15 1 1 1 7 1 15 1 0 1 19 1 -22 1 -22 1 -8 1 -7 1 -14 1 9 1 3 1 4 1 -1 1 1 1 -6 1 4 1 28 1 2 1 47 1 -11 1 -18"/>
<path stroke="#1f77b4" d="M99 0l1 1 1 7 1 3 1 -4 1 6 1 -1 1 2 1 -2 1 13 1 7 1 2 1 -11 1 -9 1 18 1 -14 1 7 1 8 1 4 1 -5 1 0 1 1 1 -4 1 -11 1 -3 1 -10 1 -4 1 7 1 -1 1 8 1 0 1 -13 1 6 1 -4 1 24 1 -24 1 -5 1 -4 1 -8 1 -4 1 7 1 4 1 -23 1 -11 1 -1 1 34 1 6 1 15 1 17 1 -7 1 -9 1 15 1 7 1 -11 1 -16 1 -20 1 -4 1 1 1 -21 1 1 1 -23 1 1 1 -16 1 2 1 -4 1 5 1 15 1 13 1 8 1 -14 1 -7 1 -12 1 -3 1 3 1 -12 1 -32 1 23 1 28 1 -2 1 0 1 9 1 -13 1 17 1 -9 1 -2 1 12 1 -1 1 -17 1 -12 1 -22 1 -11 1 9 1 0 1 -10 1 -25 1 1 1 17 1 4 1 13 1 0 1 -2 1 19 1 22 1 2 1 17 1 5 1 12 1 -16 1 -10 1 -14 1 11 1 -9 1 -7 1 3 1 -4 1 1 1 1 1 -5 1 13 1 -12 1 8 1 12 1 -14 1 17 1 0 1 -13 1 16 1 -2 1 -4 1 30 1 20 1 -10 1 -6 1 8 1 9 1 -5 1 12 1 -13 1 4 1 13 1 -7 1 -5 1 9 1 17 1 5 1 -21 1 -6 1 -4 1 20 1 -12 1 -12 1 -13 1 5 1 9 1 -18 1 -25 1 10 1 1 1 -1 1 13 1 -3 1 0 1 -4 1 1 1 15 1 6 1 -2 1 5 1 7 1 -4 1 2 1 -27 1 10 1 -8 1 35 1 0 1 -13 1 6 1 2 1 11 1 8 1 -7 1 4 1 1 1 9 1 -17 1 14 1 -2 1 -17 1 20 1 -6 1 1 1 -19 1 28 1 5 1 -12 1 12 1 -1 1 27 1 3 1 -1"/>
<path stroke="#ff7f0e" d="M99 0l1 -23 1 9 1 6 1 7 1 -2 1 -12 1 -9 1 -1 1 0 1 8 1 29 1 11 1 0 1 4 1 -21 1 -14 1 -3 1 -1 1 13 1 -10 1 -30 1 8 1 4 1 -12 1 2 1 -18 1 22 1 -16 1 15 1 -7 1 -17 1 17 1 -1 1 -3 1 5 1 16 1 -3 1 34 1 12 1 13 1 -9 1 12 1 -8 1 21 1 -3 1 5 1 -19 1 -23 1 5 1 -7 1 16 1 -5 1 2 1 -17 1 -4 1 8 1 10 1 -11 1 -17 1 -1 1 15 1 -4 1 0 1 9 1 -10 1 -3 1 17 1 13 1 11 1 -19 1 11 1 -6 1 -4 1 37 1 5 1 12 1 -16 1 14 1 0 1 -4 1 4 1 -32 1 -6 1 10 1 -13 1 13 1 28 1 -7 1 -16 1 8 1 12 1 10 1 12 1 0 1 -11 1 -1 1 -8 1 29 1 -8 1 5 1 -10 1 -15 1 -17 1 -20 1 -3 1 0 1 -2 1 -5 1 -21 1 18 1 9 1 19 1 7 1 -10 1 -5 1 -12 1 -37 1 7 1 5 1 7 1 13 1 -32 1 35 1 5 1 3 1 17 1 -23 1 -3 1 7 1 0 1 20 1 10 1 7 1 14 1 6 1 9 1 -9 1 -25 1 -17 1 -6 1 1 1 17 1 -29 1 8 1 19 1 -6 1 6 1 -4 1 9 1 -7 1 1 1 -15 1 4 1 6 1 8 1 27 1 -8 1 -6 1 21 1 5 1 -21 1 -5 1 -17 1 -10 1 7 1 -12 1 -14 1 -2 1 -7 1 -13 1 21 1 15 1 -14 1 35 1 -3 1 14 1 17 1 18 1 20 1 -1 1 3 1 -18 1 18 1 10 1 -24 1 15 1 -18 1 -22 1 -5 1 -7 1 7 1 0 1 2 1 10 1 23 1 0 1 -6 1 2 1 7 1 -6"/>
<path stroke="#2ca02c" d="M99 0l1 16 1 16 1 -16 1 -9 1 15 1 13 1 -29 1 15 1 22 1 4 1 -16 1 -30 1 -46 1 -14 1 35 1 34 1 -17 1 -35 1 6 1 11 1 -6 1 8 1 -23 1 -13 1 16 1 -15 1 32 1 -5 1 4 1 27 1 0 1 10 1 21 1 -39 1 52 1 8 1 5 1 2 1 -32 1 12 1 -41 1 -10 1 -36 1 1 1 -4 1 9 1 -24 1 -27 1 -12 1 -54 1 -2 1 29 1 11 1 -41 1 1 1 16 1 21 1 23 1 21 1 -11 1 -22 1 -23 1 -42 1 -27 1 -43 1 44 1 0 1 42 1 28 1 -14 1 11 1 16 1 -55 1 0 1 -21 1 40 1 -1 1 -13 1 2 1 -31 1 -7 1 -11 1 -33 1 4 1 21 1 -4 1 18 1 13 1 18 1 -12 1 -20 1 7 1 -7 1 8 1 17 1 27 1 15 1 -13 1 32 1 41 1 -23 1 -27 1 21 1 22 1 31 1 14 1 1 1 -5 1 21 1 26 1 12 1 -9 1 14 1 25 1 -57 1 13 1 -6 1 -14 1 6 1 -12 1 5 1 37 1 11 1 24 1 17 1 -21 1 -11 1 3 1 -23 1 21 1 15 1 2 1 -12 1 -5 1 -34 1 2 1 -56 1 45 1 5 1 -5 1 5 1 8 1 -16 1 29 1 -49 1 -9 1 -32 1 6 1 7 1 40 1 -15 1 15 1 -6 1 -9 1 42 1 -9 1 -6 1 17 1 26 1 13 1 -54 1 16 1 8 1 -50 1 -16 1 28 1 -16 1 8 1 3 1 2 1 4 1 -6 1 18 1 1 1 18 1 -33 1 -25 1 -4 1 21 1 -21 1 39 1 -5 1 -33 1 4 1 -28 1 61 1 39 1 -2 1 12 1 -14 1 50 1 20 1 -17 1 -20 1 -14 1 -5 1 8 1 0 1 -12 1 11"/>
<path stroke="#d62728" d="M99 0l1 8 1 7 1 0 1 15 1 11 1 -26 1 -15 1 -12 1 14 1 -10 1 16 1 0 1 -14 1 -9 1 3 1 3 1 3 1 5 1 -7 1 -20 1 36 1 1 1 -21 1 -17 1 8 1 -2 1 4 1 4 1 25 1 -11 1 2 1 14 1 -6 1 -1 1 2 1 -21 1 2 1 -15 1 9 1 -33 1 3 1 -8 1 -33 1 10 1 22 1 -1 1 -13 1 9 1 -24 1 9 1 0 1 4 1 12 1 -14 1 7 1 -5 1 5 1 -21 1 -1 1 5 1 28 1 -6 1 5 1 31 1 14 1 -23 1 -22 1 -14 1 -27 1 24 1 -45 1 20 1 -16 1 14 1 -3 1 11 1 -25 1 14 1 -18 1 1 1 -16 1 -12 1 19 1 4 1 37 1 -26 1 5 1 6 1 13 1 2 1 21 1 6 1 -10 1 -22 1 9 1 19 1 -32 1 36 1 3 1 -10 1 7 1 -35 1 -2 1 -8 1 -23 1 -23 1 -14 1 37 1 7 1 7 1 7 1 -14 1 13 1 10 1 -11 1 29 1 8 1 10 1 33 1 14 1 -22 1 10 1 -10 1 20 1 -23 1 3 1 1 1 3 1 24 1 2 1 -21 1 -9 1 -27 1 -28 1 6 1 10 1 -2 1 -20 1 24 1 5 1 17 1 -24 1 3 1 13 1 14 1 1 1 18 1 4 1 1 1 9 1 -8 1 22 1 13 1 -10 1 -14 1 -7 1 13 1 -27 1 13 1 17 1 26 1 -22 1 11 1 -38 1 21 1 6 1 25 1 9 1 8 1 -9 1 -7 1 -8 1 -6 1 5 1 18 1 -16 1 -21 1 20 1 11 1 15 1 13 1 8 1 -9 1 17 1 -1 1 -1 1 -15 1 -18 1 -21 1 10 1 4 1 4 1 37 1 2 1 6 1 -16 1 -9 1 -20 1 3 1 1"/>
<path stroke="#9467bd" d="M99 0l1 -12 1 23 1 3 1 5 1 -25 1 -14 1 -27 1 -14 1 -5 1 -45 1 -14 1 -62 1 -15 1 5 1 -3 1 27 1 -5 1 -27 1 39 1 -20 1 10 1 4 1 -25 1 -11 1 4 1 -14 1 14 1 14 1 32 1 14 1 15 1 -12 1 -29 1 22 1 26 1 5 1 13 1 -28 1 7 1 -25 1 -18 1 -64 1 9 1 -5 1 -43 1 -6 1 1 1 15 1 23 1 4 1 17 1 7 1 -18 1 -53 1 -16 1 -23 1 7 1 -19 1 22 1 -11 1 25 1 -30 1 19 1 -53 1 21 1 15 1 2 1 -5 1 -14 1 -19 1 35 1 0 1 2 1 -7 1 22 1 2 1 -13 1 -1 1 17 1 -25 1 -29 1 1 1 -18 1 14 1 47 1 39 1 -3 1 -19 1 -7 1 8 1 16 1 -20 1 2 1 23 1 -16 1 -6 1 16 1 29 1 34 1 18 1 23 1 -19 1 -27 1 9 1 9 1 -22 1 25 1 -2 1 -4 1 33 1 18 1 -3 1 20 1 -17 1 3 1 14 1 -7 1 47 1 -9 1 -39 1 -11 1 -41 1 11 1 -24 1 44 1 12 1 -4 1 24 1 9 1 -32 1 -16 1 0 1 9 1 34 1 48 1 13 1 12 1 15 1 -11 1 -3 1 -32 1 4 1 -5 1 3 1 5 1 5 1 -31 1 -14 1 -5 1 0 1 0 1 -38 1 12 1 -13 1 -23 1 13 1 -9 1 -14 1 52 1 -23 1 -16 1 59 1 -3 1 -22 1 -19 1 7 1 -3 1 -20 1 -26 1 8 1 12 1 0 1 -9 1 1 1 32 1 -35 1 43 1 -44 1 -23 1 20 1 48 1 15 1 -10 1 16 1 -49 1 14 1 7 1 11 1 13 1 7 1 21 1 27 1 11 1 -27 1 -51 1 20 1 9 1 29 1 17 1 14"/>
<path stroke="#8c564b" d="M99 0l1 -4 1 9 1 -1 1 -24 1 -8 1 25 1 -6 1 9 1 -19 1 -23 1 6 1 -4 1 0 1 -11 1 14 1 -21 1 10 1 -3 1 -1 1 -3 1 25 1 -14 1 -25 1 13 1 -26 1 -17 1 8 1 -3 1 22 1 -3 1 32 1 -18 1 -23 1 -16 1 3 1 7 1 -44 1 -19 1 -28 1 -10 1 -6 1 -7 1 20 1 20 1 5 1 -31 1 -6 1 24 1 13 1 -25 1 -14 1 -8 1 -13 1 0 1 -21 1 -9 1 26 1 1 1 6 1 19 1 -23 1 11 1 15 1 -31 1 10 1 10 1 5 1 -37 1 23 1 47 1 2 1 15 1 13 1 11 1 6 1 20 1 -2 1 -27 1 9 1 12 1 8 1 -16 1 32 1 13 1 44 1 -17 1 15 1 26 1 -5 1 23 1 -49 1 -38 1 16 1 40 1 -1 1 -18 1 0 1 7 1 -8 1 -15 1 -39 1 11 1 8 1 4 1 -8 1 29 1 -3 1 9 1 19 1 4 1 1 1 -28 1 -5 1 15 1 -22 1 13 1 -7 1 4 1 20 1 8 1 21 1 21 1 0 1 -10 1 -42 1 9 1 -11 1 60 1 8 1 -2 1 -16 1 17 1 -7 1 -15 1 -8 1 -5 1 -17 1 23 1 18 1 -29 1 12 1 22 1 22 1 -2 1 -11 1 2 1 24 1 -4 1 35 1 -23 1 -22 1 -2 1 -19 1 -45 1 10 1 21 1 -11 1 -9 1 26 1 15 1 12 1 -11 1 5 1 -30 1 28 1 -23 1 -11 1 1 1 29 1 -26 1 37 1 -47 1 -10 1 20 1 -6 1 -27 1 7 1 9 1 15 1 -12 1 3 1 -23 1 16 1 16 1 -30 1 -4 1 21 1 28 1 4 1 16 1 -36 1 20 1 -7 1 6 1 16 1 12 1 -13 1 1 1 -8 1 4"/>
<path stroke="#e377c2" d="M99 0l1 10 1 -2 1 -3 1 -24 1 -9 1 38 1 12 1 11 1 21 1 -36 1 -16 1 -11 1 7 1 -23 1 -25 1 -2 1 7 1 0 1 -36 1 10 1 -19 1 23 1 21 1 19 1 -29 1 0 1 -6 1 -6 1 -11 1 20 1 31 1 -3 1 -44 1 28 1 16 1 -28 1 -19 1 7 1 -13 1 18 1 -10 1 -14 1 8 1 -29 1 19 1 -4 1 -11 1 -10 1 -21 1 -7 1 -7 1 20 1 -10 1 27 1 -24 1 3 1 -3 1 -6 1 -18 1 6 1 8 1 20 1 -6 1 -1 1 -20 1 41 1 -10 1 6 1 11 1 -17 1 -33 1 -16 1 28 1 -11 1 1 1 -32 1 37 1 6 1 -24 1 -18 1 21 1 8 1 -43 1 20 1 3 1 20 1 -13 1 31 1 -2 1 -21 1 -10 1 -12 1 -14 1 20 1 8 1 11 1 -16 1 -11 1 15 1 14 1 33 1 14 1 1 1 -42 1 32 1 -31 1 -2 1 -2 1 -19 1 -3 1 40 1 -36 1 -2 1 -22 1 29 1 15 1 13 1 -6 1 -38 1 33 1 33 1 -4 1 -6 1 -3 1 29 1 -9 1 -8 1 31 1 1 1 -22 1 19 1 -29 1 -27 1 -11 1 -10 1 -4 1 1 1 -9 1 25 1 -13 1 20 1 56 1 -7 1 12 1 24 1 -7 1 3 1 -26 1 -15 1 27 1 -7 1 29 1 2 1 16 1 -17 1 2 1 -2 1 6 1 14 1 7 1 -4 1 -2 1 -17 1 20 1 -1 1 0 1 -15 1 -15 1 33 1 8 1 -27 1 42 1 7 1 2 1 -2 1 -9 1 -11 1 20 1 -10 1 17 1 33 1 -26 1 13 1 -21 1 -44 1 2 1 -4 1 -10 1 -47 1 4 1 1 1 7 1 14 1 4 1 -15 1 13 1 0 1 -8 1 29 1 -1"/>
<path stroke="#7f7f7f" d="M99 0l1 -14 1 4 1 16 1 25 1 11 1 21 1 -1 1 21 1 20 1 -8 1 -23 1 -23 1 -43 1 -26 1 17 1 -7 1 13 1 4 1 -4 1 22 1 40 1 10 1 15 1 -46 1 -34 1 -33 1 -13 1 6 1 1 1 37 1 -16 1 24 1 -23 1 -24 1 -43 1 47 1 13 1 -30 1 41 1 -15 1 -13 1 4 1 -9 1 11 1 -30 1 13 1 -2 1 -8 1 -43 1 -15 1 -3 1 -4 1 41 1 7 1 28 1 -21 1 -27 1 3 1 4 1 -7 1 -28 1 30 1 -39 1 39 1 42 1 16 1 41 1 16 1 -10 1 -13 1 5 1 -18 1 -26 1 15 1 41 1 -16 1 13 1 10 1 23 1 -31 1 -1 1 -1 1 9 1 -16 1 1 1 22 1 22 1 -26 1 -3 1 10 1 8 1 -2 1 -20 1 -10 1 -34 1 19 1 -8 1 -8 1 34 1 -37 1 13 1 34 1 48 1 -35 1 10 1 11 1 -7 1 12 1 57 1 19 1 10 1 0 1 37 1 -8 1 -48 1 -17 1 39 1 22 1 -59 1 -38 1 0 1 -6 1 -27 1 -28 1 -27 1 -7 1 17 1 0 1 21 1 17 1 -15 1 5 1 11 1 3 1 24 1 -11 1 14 1 15 1 -22 1 -3 1 7 1 -8 1 -26 1 14 1 2 1 8 1 26 1 5 1 -17 1 -15 1 -10 1 -13 1 6 1 13 1 12 1 14 1 -6 1 -47 1 7 1 -20 1 -6 1 4 1 -4 1 -36 1 0 1 -12 1 -16 1 5 1 -43 1 15 1 0 1 6 1 40 1 -19 1 -14 1 7 1 -7 1 17 1 -17 1 43 1 -1 1 -14 1 -9 1 -22 1 5 1 18 1 -37 1 11 1 -10 1 -22 1 27 1 -23 1 -17 1 18 1 10 1 -25 1 -17 1 -6 1 3 1 6"/>
<path stroke="#bcbd22" d="M99 0l1 26 1 -29 1 -26 1 -15 1 23 1 23 1 17 1 13 1 -9 1 -13 1 -10 1 -19 1 22 1 -7 1 -4 1 14 1 20 1 -19 1 15 1 -15 1 10 1 -12 1 -8 1 -7 1 23 1 23 1 21 1 3 1 -22 1 61 1 10 1 -17 1 -19 1 -13 1 -5 1 31 1 -31 1 11 1 11 1 -12 1 -17 1 3 1 10 1 -24 1 -44 1 -21 1 9 1 5 1 15 1 2 1 51 1 16 1 17 1 -17 1 17 1 3 1 -25 1 20 1 -28 1 -12 1 10 1 13 1 6 1 15 1 6 1 -13 1 -9 1 -23 1 46 1 -22 1 -1 1 36 1 24 1 -9 1 12 1 -9 1 41 1 -12 1 21 1 -1 1 -26 1 15 1 -3 1 -44 1 5 1 -5 1 18 1 -27 1 17 1 5 1 34 1 2 1 15 1 8 1 -15 1 5 1 -10 1 -36 1 -18 1 19 1 -29 1 7 1 6 1 33 1 2 1 -44 1 -60 1 -30 1 22 1 -9 1 8 1 -5 1 -5 1 -17 1 -23 1 -17 1 -1 1 -43 1 -3 1 -6 1 -2 1 1 1 4 1 -31 1 6 1 -8 1 32 1 -7 1 -14 1 -8 1 25 1 13 1 -7 1 26 1 22 1 -3 1 -23 1 -6 1 -12 1 -49 1 -2 1 -4 1 -12 1 -2 1 19 1 10 1 -20 1 -6 1 27 1 -21 1 -16 1 -22 1 18 1 15 1 -16 1 -26 1 -11 1 20 1 -20 1 19 1 8 1 -5 1 3 1 -1 1 30 1 11 1 -28 1 44 1 24 1 7 1 20 1 -25 1 21 1 -37 1 -9 1 -6 1 -31 1 -2 1 -21 1 -19 1 8 1 35 1 22 1 29 1 -9 1 33 1 -15 1 10 1 30 1 7 1 0 1 35 1 -1 1 -4 1 -1 1 -6 1 26 1 -10 1 1 1 19"/>
<path stroke="#17becf" d="M99 0l1 -4 1 -14 1 27 1 -24 1 -4 1 10 1 38 1 14 1 -54 1 -3 1 16 1 -14 1 10 1 -14 1 14 1 13 1 -23 1 27 1 30 1 23 1 12 1 22 1 40 1 14 1 38 1 -12 1 51 1 -14 1 28 1 -19 1 -17 1 26 1 9 1 2 1 -20 1 24 1 17 1 43 1 -26 1 -3 1 27 1 -57 1 29 1 -6 1 -32 1 24 1 27 1 -41 1 -20 1 -12 1 5 1 -20 1 -8 1 16 1 -13 1 14 1 6 1 10 1 2 1 7 1 3 1 17 1 -2 1 14 1 -34 1 -19 1 13 1 -15 1 -15 1 -48 1 -18 1 -9 1 -37 1 -5 1 14 1 -14 1 -5 1 -21 1 10 1 -5 1 24 1 3 1 -11 1 13 1 -9 1 22 1 -21 1 14 1 21 1 -9 1 -24 1 3 1 -2 1 -13 1 -30 1 2 1 6 1 9 1 -10 1 34 1 25 1 25 1 -4 1 -15 1 -39 1 7 1 -49 1 44 1 -24 1 36 1 -5 1 -3 1 43 1 15 1 -54 1 -4 1 -5 1 -29 1 -10 1 25 1 -22 1 12 1 -15 1 -42 1 -21 1 4 1 47 1 -17 1 -11 1 3 1 -5 1 -7 1 20 1 -5 1 14 1 -10 1 35 1 -18 1 -17 1 -10 1 -31 1 3 1 -3 1 7 1 32 1 18 1 7 1 -48 1 -27 1 -37 1 -16 1 39 1 -19 1 -62 1 36 1 41 1 29 1 8 1 1 1 2 1 10 1 18 1 24 1 -7 1 50 1 5 1 -2 1 -4 1 -34 1 12 1 -27 1 -7 1 -8 1 -8 1 -28 1 -49 1 19 1 -53 1 -2 1 48 1 3 1 12 1 65 1 39 1 7 1 40 1 -5 1 1 1 28 1 -27 1 -2 1 -12 1 -17 1 17 1 16 1 -2 1 -31 1 53 1 -6 1 15"/>
<path stroke="#1f77b4" d="M99 0l1 -9 1 -11 1 16 1 12 1 2 1 12 1 -3 1 -24 1 5 1 30 1 1 1 -32 1 -26 1 -18 1 13 1 7 1 17 1 -13 1 -22 1 1 1 27 1 -7 1 -2 1 15 1 16 1 -5 1 33 1 -28 1 -31 1 -17 1 -11 1 5 1 19 1 3 1 3 1 -3 1 -36 1 20 1 29 1 19 1 -2 1 7 1 3 1 -13 1 30 1 -25 1 -25 1 11 1 11 1 -17 1 20 1 -8 1 29 1 10 1 -9 1 -2 1 9 1 23 1 -22 1 5 1 43 1 28 1 32 1 -6 1 11 1 14 1 11 1 27 1 6 1 20 1 -22 1 -18 1 27 1 13 1 -25 1 -18 1 -15 1 -11 1 -16 1 -13 1 -16 1 -17 1 11 1 -9 1 7 1 2 1 25 1 3 1 -6 1 25 1 -9 1 -1 1 -22 1 -16 1 9 1 20 1 29 1 26 1 6 1 -30 1 -16 1 -34 1 -16 1 14 1 -26 1 -34 1 -9 1 -1 1 -6 1 -45 1 12 1 10 1 -1 1 18 1 -30 1 -6 1 17 1 40 1 -29 1 -5 1 42 1 -4 1 12 1 -17 1 -7 1 -14 1 -9 1 -24 1 -3 1 5 1 -13 1 -2 1 13 1 14 1 -4 1 -9 1 7 1 12 1 18 1 0 1 -23 1 1 1 -3 1 -4 1 12 1 -46 1 29 1 2 1 -13 1 9 1 -27 1 13 1 0 1 24 1 13 1 3 1 -3 1 17 1 12 1 28 1 -11 1 19 1 17 1 8 1 -8 1 -7 1 -33 1 -31 1 -8 1 -12 1 -21 1 -4 1 5 1 -20 1 -15 1 11 1 24 1 4 1 -28 1 13 1 -4 1 3 1 -5 1 -29 1 2 1 -19 1 19 1 7 1 -15 1 3 1 37 1 42 1 -2 1 4 1 -15 1 56 1 -10 1 5 1 48 1 13"/>
<path stroke="#ff7f0e" d="M99 0l1 -3 1 43 1 19 1 -30 1 9 1 -17 1 0 1 11 1 -2 1 13 1 -3 1 83 1 -17 1 41 1 -37 1 0 1 -18 1 -13 1 -34 1 -10 1 -21 1 24 1 -28 1 43 1 7 1 18 1 -28 1 -72 1 -16 1 14 1 69 1 -37 1 -41 1 -16 1 -32 1 -5 1 -41 1 -38 1 -66 1 -30 1 -17 1 -19 1 17 1 30 1 -42 1 23 1 -33 1 -24 1 -11 1 15 1 31 1 -38 1 36 1 -2 1 55 1 -16 1 -1 1 73 1 7 1 -11 1 9 1 75 1 -51 1 -46 1 73 1 34 1 -14 1 3 1 20 1 8 1 54 1 -4 1 30 1 79 1 -15 1 73 1 64 1 0 1 32 1 -32 1 -68 1 12 1 -54 1 -46 1 20 1 -15 1 -31 1 33 1 -76 1 62 1 -4 1 9 1 28 1 9 1 66 1 12 1 -16 1 -16 1 -30 1 48 1 46 1 -10 1 18 1 -66 1 -2 1 -5 1 14 1 13 1 35 1 -54 1 -107 1 57 1 -74 1 41 1 -60 1 49 1 -19 1 62 1 -9 1 7 1 -51 1 -21 1 -4 1 69 1 47 1 -39 1 85 1 -28 1 9 1 -5 1 -50 1 37 1 -82 1 1 1 45 1 29 1 8 1 -14 1 1 1 -4 1 20 1 30 1 -19 1 -89 1 53 1 49 1 38 1 9 1 -84 1 30 1 -3 1 -23 1 3 1 -63 1 -59 1 22 1 8 1 -3 1 -90 1 -49 1 -56 1 40 1 4 1 -10 1 -7 1 -25 1 47 1 9 1 73 1 -72 1 94 1 -41 1 13 1 -44 1 -51 1 62 1 -56 1 -37 1 -8 1 -58 1 -34 1 65 1 -37 1 -13 1 -20 1 -32 1 67 1 -15 1 21 1 -50 1 -3 1 22 1 33 1 -34 1 65 1 -13 1 10 1 55 1 -8 1 34"/>
<path stroke="#2ca02c" d="M99 0l1 -3 1 -14 1 -1 1 -10 1 17 1 -39 1 -33 1 -38 1 -24 1 -15 1 11 1 -2 1 -18 1 -18 1 21 1 -35 1 1 1 -15 1 -30 1 0 1 -6 1 -19 1 -20 1 -6 1 4 1 5 1 -9 1 -14 1 -26 1 0 1 9 1 8 1 -39 1 28 1 7 1 11 1 33 1 -43 1 -27 1 59 1 16 1 -18 1 41 1 10 1 20 1 -31 1 -17 1 24 1 -18 1 -17 1 -14 1 -9 1 -3 1 12 1 -32 1 -46 1 21 1 4 1 0 1 -4 1 -10 1 47 1 -11 1 0 1 -28 1 17 1 -18 1 27 1 2 1 -20 1 19 1 -16 1 -21 1 2 1 40 1 -3 1 18 1 -9 1 12 1 1 1 -1 1 4 1 14 1 -6 1 26 1 23 1 12 1 18 1 -18 1 -41 1 0 1 11 1 9 1 46 1 -6 1 12 1 22 1 15 1 -12 1 43 1 -13 1 19 1 -22 1 0 1 39 1 30 1 9 1 10 1 9 1 12 1 -19 1 15 1 -16 1 -43 1 4 1 -15 1 26 1 14 1 -14 1 -13 1 -15 1 -2 1 -19 1 -9 1 16 1 -21 1 39 1 3 1 21 1 26 1 -26 1 -21 1 17 1 2 1 -46 1 -1 1 16 1 9 1 19 1 14 1 -37 1 15 1 12 1 -21 1 -16 1 -30 1 7 1 14 1 -30 1 1 1 1 1 3 1 50 1 19 1 -29 1 14 1 -2 1 11 1 -24 1 23 1 -35 1 11 1 33 1 63 1 9 1 -29 1 26 1 12 1 16 1 42 1 -25 1 18 1 4 1 -43 1 -15 1 19 1 -7 1 16 1 -17 1 -12 1 9 1 14 1 21 1 2 1 2 1 6 1 21 1 35 1 -7 1 -2 1 -13 1 -10 1 16 1 11 1 -14 1 -18 1 67 1 4 1 -12 1 -6"/>
<path stroke="#d62728" d="M99 0l1 2 1 20 1 -9 1 -22 1 -28 1 -7 1 4 1 8 1 12 1 21 1 40 1 27 1 -16 1 -15 1 6 1 21 1 -19 1 44 1 12 1 8 1 -36 1 -13 1 -38 1 -2 1 -14 1 -6 1 19 1 -46 1 49 1 -8 1 31 1 -38 1 -22 1 -4 1 -11 1 4 1 0 1 7 1 -46 1 -71 1 -4 1 -18 1 -39 1 42 1 2 1 0 1 -18 1 -3 1 -11 1 42 1 22 1 16 1 -10 1 -34 1 25 1 -8 1 -11 1 -12 1 16 1 -68 1 16 1 -37 1 12 1 -16 1 37 1 18 1 44 1 10 1 5 1 -32 1 -4 1 -6 1 -12 1 7 1 -1 1 39 1 -15 1 -12 1 -18 1 6 1 43 1 41 1 -14 1 11 1 8 1 18 1 -7 1 -28 1 -12 1 25 1 13 1 -2 1 -36 1 17 1 -4 1 -42 1 -24 1 48 1 -45 1 36 1 33 1 -2 1 0 1 -8 1 17 1 6 1 -4 1 -16 1 42 1 -16 1 14 1 22 1 -48 1 -26 1 9 1 11 1 -12 1 -3 1 -25 1 -18 1 8 1 -17 1 10 1 -2 1 -13 1 25 1 14 1 -24 1 17 1 -33 1 -7 1 24 1 56 1 -17 1 -4 1 -28 1 -2 1 -28 1 44 1 -40 1 37 1 13 1 47 1 15 1 19 1 6 1 14 1 -5 1 17 1 -4 1 -27 1 2 1 32 1 -27 1 -35 1 29 1 10 1 15 1 -42 1 -11 1 -17 1 59 1 -21 1 -10 1 1 1 23 1 19 1 -48 1 -31 1 -7 1 -27 1 -14 1 -13 1 -6 1 20 1 19 1 16 1 11 1 47 1 36 1 -54 1 -39 1 44 1 1 1 10 1 0 1 -8 1 -13 1 -6 1 7 1 29 1 1 1 19 1 12 1 -1 1 37 1 0 1 15 1 38 1 -77"/>
<path stroke="#9467bd" d="M99 0l1 -15 1 -13 1 -13 1 -6 1 9 1 1 1 0 1 12 1 1 1 3 1 3 1 11 1 -3 1 -16 1 4 1 0 1 5 1 -1 1 -21 1 13 1 10 1 -9 1 21 1 0 1 -4 1 -19 1 -21 1 0 1 -4 1 -15 1 31 1 16 1 -5 1 -13 1 -5 1 12 1 -11 1 5 1 8 1 12 1 -10 1 -15 1 15 1 -18 1 26 1 10 1 -13 1 -6 1 7 1 -12 1 -14 1 8 1 10 1 -11 1 -22 1 -2 1 -2 1 10 1 -8 1 -26 1 12 1 0 1 -16 1 -3 1 -21 1 -5 1 0 1 6 1 -9 1 23 1 -5 1 -5 1 -7 1 -23 1 12 1 10 1 8 1 -5 1 18 1 9 1 4 1 5 1 -19 1 -2 1 3 1 -7 1 -35 1 7 1 11 1 -2 1 -9 1 -13 1 24 1 -15 1 21 1 11 1 -3 1 -1 1 -5 1 -1 1 -14 1 16 1 10 1 -17 1 -10 1 -12 1 -18 1 29 1 7 1 10 1 -3 1 -18 1 3 1 39 1 22 1 12 1 -8 1 -16 1 2 1 19 1 -17 1 -11 1 -1 1 5 1 0 1 9 1 29 1 -11 1 -5 1 10 1 23 1 -25 1 -19 1 28 1 12 1 -7 1 4 1 16 1 4 1 -4 1 -15 1 14 1 10 1 13 1 -18 1 9 1 -20 1 -18 1 -2 1 14 1 -3 1 -3 1 0 1 2 1 -17 1 3 1 2 1 14 1 -25 1 7 1 12 1 -9 1 -14 1 -21 1 11 1 -22 1 8 1 6 1 0 1 -24 1 5 1 5 1 2 1 15 1 0 1 9 1 3 1 -15 1 9 1 12 1 10 1 2 1 -26 1 4 1 16 1 -16 1 17 1 -8 1 2 1 -7 1 6 1 3 1 2 1 20 1 5 1 17 1 2 1 10 1 -24 1 13"/>
<path stroke="#8c564b" d="M99 0l1 4 1 -1 1 -14 1 15 1 -5 1 18 1 -10 1 5 1 7 1 -2 1 11 1 0 1 -1 1 9 1 -1 1 -3 1 -5 1 6 1 8 1 14 1 18 1 16 1 5 1 -24 1 -18 1 7 1 -23 1 23 1 -19 1 -14 1 4 1 -14 1 2 1 -10 1 -1 1 24 1 -5 1 7 1 -8 1 4 1 18 1 0 1 -26 1 13 1 -30 1 1 1 -6 1 -28 1 14 1 -2 1 -19 1 -3 1 -14 1 -17 1 32 1 24 1 -14 1 21 1 -11 1 19 1 10 1 -3 1 2 1 -2 1 -15 1 23 1 -8 1 16 1 18 1 2 1 -25 1 0 1 10 1 -17 1 -25 1 3 1 2 1 -33 1 -4 1 3 1 -2 1 2 1 -6 1 17 1 -7 1 2 1 -39 1 25 1 3 1 -5 1 -17 1 -27 1 12 1 -4 1 -10 1 21 1 1 1 20 1 -4 1 7 1 -32 1 -5 1 0 1 -18 1 4 1 -3 1 -5 1 2 1 23 1 -19 1 6 1 2 1 -14 1 7 1 -2 1 7 1 -24 1 21 1 2 1 -22 1 -9 1 12 1 -13 1 8 1 14 1 15 1 0 1 12 1 9 1 -16 1 13 1 -3 1 0 1 -25 1 12 1 -14 1 10 1 -7 1 -7 1 -2 1 20 1 22 1 -7 1 6 1 -18 1 1 1 8 1 -19 1 16 1 -15 1 3 1 6 1 -16 1 6 1 -8 1 2 1 9 1 -4 1 -4 1 20 1 14 1 18 1 0 1 2 1 10 1 -9 1 11 1 -2 1 -4 1 14 1 6 1 17 1 3 1 -14 1 35 1 18 1 -33 1 -10 1 3 1 22 1 2 1 -9 1 -1 1 9 1 5 1 1 1 -9 1 2 1 -10 1 13 1 -4 1 4 1 -11 1 9 1 10 1 -14 1 -1 1 -7 1 33 1 19"/>
<path stroke="#e377c2" d="M99 0l1 -10 1 -8 1 35 1 -20 1 -15 1 4 1 -11 1 24 1 6 1 -7 1 11 1 -10 1 -14 1 8 1 -9 1 -20 1 -4 1 26 1 8 1 21 1 -7 1 1 1 -17 1 3 1 -8 1 3 1 -3 1 -31 1 2 1 6 1 10 1 6 1 3 1 -7 1 -19 1 -22 1 17 1 -1 1 8 1 -8 1 -45 1 19 1 7 1 12 1 -31 1 18 1 2 1 6 1 12 1 14 1 -49 1 30 1 8 1 0 1 17 1 -8 1 3 1 -41 1 -5 1 26 1 1 1 -4 1 -25 1 25 1 16 1 -17 1 -31 1 -13 1 26 1 -12 1 -5 1 8 1 1 1 -6 1 16 1 -27 1 -29 1 17 1 -7 1 3 1 -26 1 -17 1 -24 1 -9 1 17 1 42 1 -21 1 -10 1 -5 1 29 1 26 1 22 1 14 1 24 1 -7 1 33 1 21 1 20 1 2 1 7 1 11 1 6 1 -28 1 -23 1 2 1 -36 1 14 1 10 1 -34 1 -2 1 6 1 -11 1 25 1 4 1 -9 1 6 1 4 1 19 1 -5 1 -12 1 -26 1 -14 1 20 1 4 1 -12 1 21 1 -29 1 18 1 47 1 4 1 12 1 -12 1 -11 1 22 1 -21 1 -17 1 -6 1 6 1 -5 1 3 1 -24 1 5 1 -4 1 -1 1 7 1 16 1 13 1 1 1 -13 1 -25 1 4 1 -16 1 23 1 13 1 -4 1 -8 1 36 1 25 1 -11 1 20 1 -3 1 23 1 7 1 26 1 -9 1 3 1 -29 1 21 1 -16 1 -22 1 -27 1 21 1 21 1 -9 1 -11 1 25 1 5 1 24 1 23 1 0 1 -16 1 20 1 -20 1 -27 1 -1 1 4 1 -13 1 -2 1 -26 1 -23 1 36 1 -2 1 4 1 -2 1 16 1 -9 1 -11 1 -1 1 -16 1 10"/>
<path stroke="#7f7f7f" d="M99 0l1 -22 1 -11 1 -7 1 -5 1 -15 1 -15 1 -33 1 -11 1 -7 1 -44 1 -51 1 55 1 63 1 -17 1 22 1 1 1 -23 1 7 1 3 1 -18 1 -22 1 2 1 -21 1 24 1 -6 1 -56 1 -23 1 19 1 3 1 -19 1 -38 1 -2 1 -13 1 -24 1 16 1 31 1 9 1 37 1 33 1 -1 1 5 1 -42 1 -22 1 32 1 57 1 -21 1 31 1 25 1 -93 1 3 1 -34 1 -1 1 -18 1 -3 1 13 1 10 1 -58 1 15 1 16 1 -18 1 -5 1 3 1 -10 1 33 1 9 1 -43 1 -33 1 24 1 34 1 -46 1 13 1 19 1 74 1 -37 1 43 1 0 1 12 1 4 1 3 1 -11 1 0 1 25 1 -6 1 -45 1 32 1 17 1 0 1 -20 1 -8 1 -5 1 11 1 28 1 43 1 28 1 -12 1 14 1 53 1 -23 1 -27 1 2 1 24 1 -12 1 -16 1 16 1 -8 1 25 1 46 1 -16 1 22 1 46 1 19 1 58 1 -46 1 -28 1 7 1 17 1 2 1 9 1 34 1 7 1 -9 1 37 1 -58 1 -11 1 29 1 -38 1 68 1 -36 1 32 1 -15 1 -12 1 17 1 -10 1 -12 1 16 1 59 1 -7 1 -19 1 -15 1 -71 1 -33 1 -4 1 -57 1 -15 1 48 1 8 1 59 1 15 1 -34 1 39 1 38 1 -40 1 49 1 1 1 -34 1 -48 1 -8 1 -23 1 -24 1 -22 1 1 1 3 1 19 1 7 1 7 1 51 1 -23 1 6 1 -14 1 63 1 23 1 1 1 -39 1 16 1 30 1 15 1 16 1 -66 1 5 1 -24 1 -7 1 -4 1 40 1 16 1 16 1 -45 1 36 1 -31 1 -6 1 -53 1 12 1 56 1 19 1 -40 1 34 1 -61 1 4 1 -19 1 -40 1 -75"/>
<path stroke="#bcbd22" d="M99 0l1 -16 1 18 1 10 1 -7 1 11 1 8 1 -31 1 3 1 -13 1 -18 1 -13 1 25 1 19 1 -7 1 13 1 -27 1 -24 1 -17 1 0 1 0 1 -10 1 14 1 16 1 -8 1 9 1 -37 1 -35 1 -21 1 7 1 4 1 43 1 20 1 -5 1 24 1 2 1 22 1 8 1 21 1 -37 1 -11 1 -22 1 16 1 1 1 38 1 -10 1 20 1 12 1 -15 1 -15 1 -31 1 12 1 -7 1 -6 1 12 1 -15 1 -29 1 11 1 0 1 -35 1 -12 1 -19 1 -24 1 21 1 -9 1 -3 1 1 1 -29 1 -25 1 31 1 -8 1 36 1 -17 1 1 1 -46 1 16 1 5 1 9 1 0 1 -4 1 26 1 0 1 -19 1 -14 1 25 1 -3 1 17 1 10 1 7 1 58 1 -10 1 -16 1 -10 1 38 1 0 1 2 1 5 1 -24 1 -4 1 5 1 5 1 -11 1 -10 1 30 1 5 1 -10 1 6 1 -28 1 20 1 -14 1 24 1 23 1 24 1 -27 1 16 1 -6 1 -41 1 -13 1 -10 1 -24 1 7 1 5 1 -25 1 27 1 -8 1 18 1 -12 1 18 1 -12 1 -3 1 28 1 26 1 12 1 10 1 33 1 -19 1 13 1 34 1 -4 1 -32 1 14 1 -2 1 -20 1 -20 1 28 1 1 1 -31 1 33 1 19 1 2 1 -37 1 -25 1 8 1 -3 1 4 1 10 1 -4 1 15 1 5 1 20 1 11 1 -7 1 17 1 -3 1 13 1 -16 1 -9 1 -8 1 -12 1 -1 1 9 1 -21 1 -19 1 22 1 -16 1 -35 1 2 1 39 1 22 1 -28 1 15 1 4 1 -7 1 19 1 -4 1 30 1 -19 1 -10 1 -3 1 32 1 32 1 -5 1 -23 1 4 1 -8 1 -10 1 -17 1 14 1 5 1 7 1 -23"/>
<path stroke="#17becf" d="M99 0l1 2 1 -4 1 18 1 12 1 -3 1 -25 1 -4 1 1 1 -15 1 11 1 -6 1 0 1 22 1 -15 1 3 1 6 1 -3 1 -26 1 37 1 9 1 25 1 2 1 -19 1 -4 1 -48 1 64 1 3 1 -11 1 25 1 6 1 -11 1 38 1 -21 1 10 1 -37 1 31 1 -45 1 -32 1 7 1 37 1 35 1 -22 1 13 1 1 1 -18 1 -2 1 -5 1 8 1 17 1 24 1 15 1 -5 1 3 1 -20 1 4 1 2 1 -20 1 -20 1 -21 1 18 1 -4 1 -41 1 -4 1 4 1 31 1 18 1 -3 1 28 1 -21 1 -12 1 36 1 21 1 -38 1 3 1 -12 1 24 1 -24 1 43 1 2 1 -6 1 -18 1 -14 1 7 1 -8 1 -13 1 17 1 -25 1 9 1 11 1 2 1 -12 1 -11 1 80 1 31 1 -27 1 -16 1 -37 1 -27 1 -2 1 -16 1 -13 1 -4 1 -31 1 -8 1 1 1 28 1 5 1 2 1 -22 1 -20 1 -30 1 43 1 14 1 -8 1 -25 1 29 1 -27 1 31 1 -2 1 25 1 10 1 -22 1 -12 1 -33 1 9 1 -1 1 -1 1 -10 1 7 1 42 1 3 1 -15 1 -20 1 23 1 10 1 -34 1 22 1 6 1 55 1 -63 1 -18 1 -19 1 23 1 29 1 5 1 -23 1 -7 1 21 1 17 1 -10 1 34 1 -10 1 4 1 -44 1 -31 1 -11 1 -4 1 -11 1 17 1 12 1 -13 1 -4 1 -13 1 -24 1 21 1 -9 1 23 1 2 1 -39 1 26 1 -14 1 34 1 -16 1 16 1 -7 1 25 1 -10 1 47 1 -6 1 -14 1 30 1 31 1 -20 1 12 1 -30 1 15 1 3 1 -1 1 -3 1 -10 1 -3 1 18 1 19 1 20 1 -19 1 71 1 3 1 20 1 -16 1 -11"/>
<path stroke="#1f77b4" d="M99 0l1 3 1 -9 1 -5 1 -27 1 14 1 -18 1 -24 1 -3 1 -20 1 -12 1 -19 1 1 1 -21 1 20 1 -16 1 -16 1 -8 1 2 1 3 1 -7 1 18 1 -23 1 -7 1 4 1 22 1 -24 1 34 1 -28 1 -14 1 26 1 -16 1 -1 1 2 1 -10 1 4 1 -1 1 19 1 20 1 -15 1 11 1 -6 1 -21 1 -24 1 11 1 13 1 18 1 -26 1 -6 1 4 1 18 1 44 1 6 1 5 1 3 1 3 1 4 1 4 1 10 1 -3 1 2 1 8 1 -18 1 -5 1 3 1 12 1 -6 1 -22 1 6 1 0 1 20 1 0 1 19 1 11 1 23 1 -11 1 -10 1 24 1 17 1 -20 1 13 1 13 1 -14 1 -3 1 30 1 34 1 3 1 -5 1 11 1 -19 1 16 1 1 1 7 1 14 1 1 1 -18 1 -50 1 -21 1 -21 1 16 1 -15 1 -41 1 -35 1 -2 1 3 1 19 1 9 1 -17 1 -8 1 4 1 -6 1 -8 1 3 1 -6 1 -22 1 25 1 -27 1 9 1 -4 1 -3 1 -10 1 10 1 -5 1 3 1 -6 1 -22 1 6 1 24 1 -5 1 -29 1 -25 1 8 1 21 1 -4 1 21 1 -14 1 29 1 -14 1 16 1 4 1 -20 1 24 1 12 1 16 1 1 1 41 1 18 1 -10 1 -4 1 4 1 -11 1 3 1 32 1 20 1 9 1 27 1 12 1 -36 1 -30 1 -14 1 -3 1 -3 1 -31 1 -9 1 15 1 -18 1 19 1 -5 1 -23 1 -24 1 14 1 -3 1 2 1 -13 1 13 1 17 1 7 1 2 1 -1 1 -18 1 15 1 18 1 -6 1 -15 1 14 1 13 1 7 1 16 1 -20 1 32 1 15 1 -1 1 -2 1 -3 1 25 1 -19 1 -8 1 6 1 30 1 42 1 10"/>
<path stroke="#ff7f0e" d="M99 0l1 -7 1 24 1 -5 1 4 1 -4 1 -18 1 -24 1 -2 1 -13 1 17 1 -12 1 1 1 5 1 11 1 24 1 41 1 -25 1 -16 1 -25 1 -14 1 5 1 -4 1 -29 1 -39 1 -11 1 27 1 -23 1 45 1 -11 1 3 1 30 1 34 1 31 1 -4 1 12 1 -22 1 37 1 35 1 22 1 -16 1 5 1 -12 1 -38 1 -8 1 58 1 15 1 -13 1 -25 1 -21 1 -8 1 -19 1 35 1 26 1 -42 1 22 1 3 1 -3 1 5 1 -8 1 -10 1 0 1 27 1 -1 1 10 1 -15 1 -18 1 7 1 -2 1 -12 1 7 1 -54 1 -23 1 1 1 12 1 -9 1 -2 1 10 1 -18 1 14 1 -25 1 -15 1 -19 1 16 1 2 1 12 1 29 1 -24 1 17 1 2 1 29 1 13 1 23 1 11 1 -10 1 -10 1 -9 1 32 1 -3 1 12 1 13 1 -31 1 16 1 -26 1 2 1 8 1 -16 1 -13 1 -30 1 -20 1 19 1 23 1 -5 1 16 1 39 1 2 1 3 1 -7 1 15 1 37 1 -20 1 -24 1 -11 1 3 1 -1 1 -34 1 -24 1 -2 1 -42 1 -25 1 14 1 -21 1 29 1 10 1 -24 1 -8 1 8 1 3 1 9 1 6 1 25 1 9 1 38 1 -8 1 -5 1 47 1 0 1 -47 1 -3 1 -20 1 -6 1 11 1 18 1 -33 1 -51 1 -16 1 -2 1 -5 1 1 1 -5 1 10 1 10 1 -14 1 38 1 38 1 9 1 -30 1 23 1 -17 1 -9 1 -37 1 1 1 48 1 -16 1 -31 1 7 1 -22 1 12 1 36 1 5 1 -1 1 -23 1 -40 1 -16 1 20 1 -8 1 -22 1 -13 1 30 1 -22 1 9 1 -20 1 -5 1 -16 1 -32 1 -33 1 41 1 4 1 -17 1 3 1 -11"/>
<path stroke="#2ca02c" d="M99 0l1 -12 1 14 1 -13 1 -9 1 4 1 1 1 -3 1 12 1 -6 1 4 1 12 1 -24 1 -22 1 -1 1 7 1 -9 1 25 1 0 1 5 1 37 1 3 1 -1 1 -4 1 -28 1 -2 1 15 1 17 1 -13 1 17 1 -35 1 -11 1 36 1 -7 1 13 1 6 1 19 1 1 1 1 1 12 1 -23 1 -4 1 12 1 -18 1 26 1 -10 1 -29 1 -30 1 10 1 -16 1 15 1 -12 1 3 1 2 1 14 1 6 1 26 1 -11 1 -36 1 -30 1 24 1 4 1 -20 1 -9 1 -3 1 -12 1 -9 1 40 1 42 1 11 1 -36 1 -13 1 19 1 -18 1 0 1 0 1 20 1 27 1 14 1 43 1 32 1 -7 1 20 1 12 1 -4 1 -6 1 7 1 -12 1 -4 1 -16 1 9 1 -25 1 -16 1 14 1 0 1 -1 1 -38 1 6 1 -12 1 31 1 6 1 -13 1 -24 1 19 1 19 1 23 1 -19 1 -4 1 24 1 -17 1 -9 1 -18 1 0 1 -2 1 -30 1 2 1 18 1 32 1 -16 1 5 1 -3 1 21 1 -38 1 24 1 -23 1 -18 1 4 1 4 1 -35 1 10 1 -28 1 -8 1 16 1 -18 1 -14 1 -15 1 14 1 4 1 8 1 11 1 -4 1 -9 1 -17 1 34 1 0 1 -1 1 20 1 19 1 8 1 -15 1 -21 1 -23 1 2 1 -5 1 -12 1 22 1 5 1 15 1 -34 1 49 1 1 1 -5 1 21 1 -2 1 41 1 17 1 -12 1 -15 1 -5 1 -18 1 -13 1 -14 1 -8 1 -12 1 -9 1 -16 1 -16 1 9 1 1 1 33 1 -18 1 5 1 -32 1 9 1 -16 1 5 1 0 1 -18 1 24 1 -30 1 -9 1 6 1 10 1 12 1 -25 1 7 1 -24 1 -12 1 -5 1 -18 1 3"/>
<path stroke="#d62728" d="M99 0l1 21 1 -1 1 -23 1 16 1 22 1 -14 1 0 1 -6 1 -3 1 -13 1 6 1 -26 1 69 1 11 1 8 1 19 1 6 1 -9 1 -37 1 8 1 -12 1 29 1 16 1 2 1 10 1 27 1 36 1 -22 1 37 1 -21 1 -14 1 -15 1 -26 1 12 1 -13 1 -6 1 15 1 -26 1 38 1 -18 1 3 1 -27 1 -6 1 -71 1 29 1 -21 1 -21 1 -11 1 -37 1 11 1 2 1 -16 1 14 1 43 1 -32 1 42 1 1 1 -16 1 -25 1 1 1 43 1 33 1 -2 1 -25 1 52 1 29 1 -6 1 9 1 -2 1 -37 1 -30 1 -5 1 -2 1 -9 1 -26 1 52 1 -6 1 42 1 -5 1 37 1 41 1 26 1 -63 1 48 1 -26 1 27 1 -15 1 42 1 -18 1 -44 1 21 1 20 1 -14 1 -29 1 -5 1 5 1 42 1 5 1 6 1 -12 1 -56 1 2 1 -14 1 -21 1 21 1 25 1 -7 1 12 1 14 1 -49 1 4 1 -19 1 -35 1 -25 1 -17 1 -17 1 -54 1 -3 1 26 1 61 1 -82 1 2 1 6 1 10 1 45 1 9 1 48 1 -52 1 33 1 1 1 -35 1 -16 1 33 1 49 1 -37 1 -23 1 -27 1 25 1 0 1 69 1 -49 1 -20 1 -6 1 13 1 1 1 14 1 -10 1 47 1 -15 1 24 1 -29 1 16 1 17 1 -47 1 -13 1 -13 1 -4 1 -18 1 -23 1 6 1 38 1 0 1 -31 1 10 1 -23 1 36 1 -7 1 -36 1 -34 1 -16 1 -50 1 18 1 -5 1 -4 1 -18 1 44 1 -20 1 -19 1 12 1 37 1 -18 1 9 1 21 1 28 1 -5 1 -43 1 45 1 29 1 12 1 -16 1 -23 1 -5 1 14 1 1 1 5 1 -15 1 40 1 1 1 3 1 -33"/>
<path stroke="#9467bd" d="M99 0l1 -36 1 22 1 27 1 23 1 11 1 9 1 10 1 24 1 -26 1 19 1 24 1 38 1 -4 1 24 1 3 1 10 1 -23 1 15 1 -31 1 29 1 -29 1 -16 1 65 1 -2 1 -5 1 22 1 31 1 -32 1 -13 1 -42 1 1 1 -21 1 19 1 18 1 -35 1 -8 1 -34 1 -43 1 -15 1 20 1 23 1 55 1 15 1 31 1 -42 1 30 1 1 1 2 1 -1 1 -40 1 17 1 52 1 -28 1 -65 1 -28 1 -33 1 -5 1 -13 1 -28 1 -34 1 9 1 12 1 -14 1 -36 1 -13 1 49 1 -6 1 -20 1 4 1 12 1 60 1 4 1 -45 1 34 1 -32 1 42 1 26 1 -9 1 -2 1 -61 1 24 1 -19 1 19 1 -55 1 -51 1 -9 1 5 1 23 1 -13 1 -40 1 14 1 23 1 25 1 -3 1 -16 1 -18 1 6 1 22 1 21 1 22 1 36 1 -29 1 -56 1 43 1 28 1 -26 1 -4 1 18 1 8 1 -3 1 6 1 18 1 -15 1 45 1 -31 1 34 1 -40 1 -30 1 -28 1 -34 1 8 1 -19 1 18 1 2 1 4 1 -46 1 31 1 -22 1 -20 1 -48 1 49 1 33 1 -43 1 20 1 5 1 33 1 11 1 -54 1 -16 1 34 1 -6 1 -44 1 22 1 27 1 -17 1 55 1 -3 1 -9 1 29 1 0 1 -5 1 19 1 15 1 -3 1 -50 1 -41 1 -5 1 -23 1 5 1 23 1 20 1 -15 1 -40 1 -3 1 -3 1 7 1 71 1 29 1 16 1 -23 1 14 1 17 1 -25 1 9 1 4 1 -20 1 -48 1 -30 1 -20 1 44 1 -37 1 -17 1 33 1 -13 1 47 1 -8 1 -27 1 7 1 41 1 12 1 -17 1 -36 1 -64 1 3 1 25 1 11 1 12 1 0 1 -29 1 3"/>
<path stroke="#8c564b" d="M99 0l1 1 1 -4 1 -6 1 -15 1 -13 1 8 1 -11 1 -6 1 -9 1 -6 1 -7 1 6 1 -6 1 -16 1 -8 1 -1 1 14 1 -13 1 -2 1 -45 1 15 1 69 1 2 1 -10 1 36 1 4 1 -52 1 28 1 -2 1 19 1 -32 1 -14 1 -21 1 17 1 -23 1 1 1 -30 1 19 1 7 1 6 1 -4 1 -23 1 -9 1 -45 1 10 1 -39 1 34 1 -50 1 35 1 -4 1 3 1 -30 1 33 1 16 1 -16 1 -50 1 15 1 47 1 20 1 -23 1 28 1 -29 1 29 1 -2 1 16 1 -24 1 -20 1 36 1 11 1 -31 1 20 1 18 1 0 1 78 1 -28 1 45 1 -14 1 26 1 -30 1 20 1 6 1 33 1 -3 1 -14 1 -2 1 32 1 -13 1 48 1 23 1 -17 1 41 1 21 1 4 1 31 1 -24 1 -26 1 57 1 38 1 -3 1 -1 1 17 1 0 1 -10 1 54 1 27 1 -9 1 38 1 -10 1 -16 1 -54 1 -38 1 -28 1 -30 1 -2 1 40 1 -28 1 42 1 35 1 -16 1 -5 1 21 1 -33 1 -30 1 -6 1 21 1 14 1 -2 1 -17 1 -41 1 -34 1 -5 1 -37 1 13 1 29 1 -9 1 35 1 45 1 6 1 -44 1 25 1 36 1 -57 1 40 1 -36 1 16 1 -19 1 -8 1 -34 1 51 1 9 1 -8 1 10 1 -33 1 41 1 -13 1 -20 1 -10 1 22 1 -45 1 -24 1 -6 1 -9 1 1 1 -52 1 44 1 48 1 4 1 40 1 -13 1 1 1 0 1 22 1 2 1 -6 1 -58 1 -3 1 30 1 -4 1 -7 1 57 1 22 1 3 1 -41 1 15 1 -64 1 -69 1 -22 1 19 1 -9 1 10 1 37 1 7 1 -17 1 41 1 10 1 45 1 -29 1 -27 1 -12 1 -12"/>
<path stroke="#e377c2" d="M99 0l1 -6 1 17 1 -13 1 9 1 -27 1 -2 1 7 1 -6 1 -35 1 20 1 31 1 11 1 19 1 1 1 -1 1 -46 1 31 1 -12 1 -12 1 -26 1 55 1 -10 1 46 1 -12 1 36 1 -23 1 6 1 -2 1 12 1 7 1 -10 1 39 1 -5 1 -7 1 -44 1 -49 1 41 1 -15 1 -23 1 17 1 -12 1 -58 1 13 1 33 1 -17 1 -63 1 59 1 18 1 8 1 -16 1 -57 1 23 1 -32 1 19 1 27 1 4 1 43 1 63 1 4 1 26 1 57 1 -26 1 -13 1 37 1 -26 1 -12 1 -4 1 10 1 26 1 20 1 15 1 -27 1 4 1 -26 1 -29 1 -37 1 -48 1 33 1 26 1 -18 1 36 1 54 1 -35 1 -5 1 24 1 10 1 44 1 -28 1 -5 1 -44 1 -39 1 -27 1 -11 1 -25 1 18 1 -48 1 -29 1 1 1 -34 1 -26 1 68 1 5 1 -6 1 23 1 0 1 0 1 -9 1 -37 1 -7 1 17 1 -6 1 18 1 -29 1 30 1 -32 1 7 1 61 1 5 1 20 1 -2 1 2 1 -57 1 -12 1 48 1 5 1 12 1 -16 1 4 1 23 1 12 1 22 1 2 1 -34 1 -4 1 -4 1 -3 1 -26 1 -4 1 -16 1 -12 1 -22 1 -11 1 49 1 0 1 11 1 0 1 -10 1 16 1 -25 1 -38 1 8 1 -37 1 13 1 19 1 -11 1 6 1 -17 1 -18 1 23 1 18 1 -67 1 -29 1 13 1 -39 1 -15 1 -20 1 -21 1 16 1 -19 1 37 1 -9 1 -41 1 44 1 32 1 -2 1 19 1 24 1 26 1 -31 1 -44 1 -24 1 46 1 52 1 43 1 26 1 -40 1 51 1 7 1 1 1 -8 1 -22 1 25 1 18 1 8 1 -7 1 -59 1 25 1 -52 1 48 1 51"/>
<path stroke="#7f7f7f" d="M99 0l1 -6 1 -13 1 27 1 -2 1 -2 1 2 1 7 1 8 1 8 1 -20 1 11 1 -11 1 1 1 -16 1 7 1 -6 1 25 1 4 1 12 1 -45 1 -18 1 -8 1 -3 1 -20 1 8 1 27 1 -19 1 -1 1 3 1 -19 1 3 1 12 1 -19 1 -24 1 -22 1 15 1 6 1 31 1 -18 1 11 1 -7 1 -23 1 -22 1 10 1 4 1 58 1 -23 1 -2 1 14 1 7 1 -9 1 20 1 -19 1 -5 1 -6 1 -3 1 -2 1 14 1 -10 1 27 1 -6 1 -5 1 -13 1 11 1 -19 1 -45 1 0 1 -28 1 10 1 -4 1 19 1 6 1 16 1 17 1 -35 1 0 1 34 1 1 1 7 1 21 1 0 1 8 1 0 1 11 1 -10 1 19 1 -4 1 15 1 -27 1 -13 1 -16 1 1 1 -7 1 8 1 20 1 -19 1 15 1 15 1 -13 1 -23 1 -32 1 -16 1 3 1 6 1 21 1 2 1 3 1 -13 1 -12 1 -12 1 -2 1 -6 1 -18 1 18 1 -23 1 -22 1 -12 1 -4 1 -12 1 16 1 9 1 34 1 65 1 9 1 -7 1 16 1 -16 1 -3 1 9 1 -29 1 10 1 -2 1 -6 1 -21 1 -19 1 -5 1 -15 1 -13 1 7 1 4 1 -3 1 -18 1 27 1 -10 1 57 1 -7 1 -5 1 25 1 8 1 -1 1 -10 1 -13 1 -8 1 9 1 12 1 -6 1 5 1 -1 1 26 1 -25 1 13 1 -23 1 5 1 15 1 18 1 -8 1 -4 1 -1 1 -14 1 -7 1 -20 1 -10 1 5 1 -8 1 -18 1 -22 1 7 1 -20 1 0 1 -6 1 -10 1 45 1 44 1 -8 1 -21 1 2 1 9 1 26 1 30 1 -11 1 4 1 -27 1 -6 1 3 1 -6 1 27 1 -12 1 -20 1 2 1 19"/>
<path stroke="#bcbd22" d="M99 0l1 -4 1 1 1 30 1 -29 1 28 1 -20 1 -24 1 25 1 3 1 5 1 32 1 7 1 -7 1 38 1 -30 1 12 1 -13 1 -14 1 14 1 5 1 -13 1 -8 1 -14 1 14 1 -14 1 -15 1 57 1 41 1 3 1 -70 1 20 1 -21 1 5 1 10 1 -13 1 -1 1 -27 1 -5 1 -4 1 -22 1 17 1 -12 1 -18 1 27 1 25 1 7 1 7 1 -51 1 -33 1 -1 1 -12 1 -34 1 -5 1 -17 1 -5 1 60 1 27 1 19 1 -56 1 -7 1 -1 1 20 1 38 1 -9 1 58 1 22 1 -38 1 -78 1 9 1 34 1 -19 1 25 1 -13 1 3 1 8 1 24 1 21 1 8 1 30 1 -31 1 11 1 39 1 12 1 -49 1 52 1 -31 1 42 1 -16 1 -18 1 21 1 16 1 10 1 9 1 -13 1 -6 1 -2 1 -23 1 0 1 -2 1 -3 1 13 1 2 1 -27 1 0 1 27 1 -9 1 -3 1 -19 1 -22 1 10 1 -33 1 -4 1 4 1 4 1 -21 1 10 1 20 1 -49 1 6 1 11 1 -49 1 68 1 16 1 39 1 -7 1 46 1 -11 1 1 1 28 1 30 1 -21 1 9 1 -21 1 26 1 36 1 -23 1 -29 1 -24 1 -6 1 48 1 1 1 43 1 14 1 15 1 16 1 2 1 28 1 2 1 -15 1 -21 1 -13 1 -24 1 -5 1 -5 1 -13 1 -16 1 -34 1 -17 1 16 1 -28 1 6 1 -6 1 0 1 7 1 17 1 15 1 17 1 -13 1 32 1 -1 1 -37 1 -27 1 -42 1 1 1 -4 1 -16 1 -5 1 0 1 60 1 -7 1 -50 1 -19 1 22 1 5 1 -29 1 -27 1 2 1 -1 1 6 1 4 1 -15 1 16 1 -68 1 2 1 6 1 -24 1 3 1 47 1 -19 1 -1"/>
<path stroke="#17becf" d="M99 0l1 9 1 5 1 20 1 0 1 27 1 7 1 19 1 -33 1 -21 1 -4 1 4 1 0 1 -6 1 12 1 -21 1 35 1 15 1 -32 1 11 1 1 1 57 1 -12 1 -57 1 -15 1 -9 1 -10 1 0 1 -42 1 -3 1 -3 1 -8 1 20 1 -22 1 -5 1 -26 1 20 1 -2 1 0 1 2 1 -22 1 2 1 -4 1 -11 1 -34 1 1 1 -30 1 4 1 14 1 -38 1 25 1 -7 1 56 1 -44 1 13 1 23 1 25 1 33 1 -2 1 17 1 2 1 38 1 -27 1 13 1 28 1 -7 1 -40 1 16 1 30 1 11 1 -18 1 -43 1 12 1 -10 1 4 1 61 1 30 1 4 1 -29 1 -16 1 11 1 15 1 -19 1 51 1 -15 1 -20 1 38 1 -36 1 75 1 14 1 40 1 -24 1 -88 1 -18 1 1 1 10 1 25 1 11 1 -39 1 55 1 1 1 64 1 -7 1 13 1 32 1 -24 1 25 1 -48 1 -12 1 -56 1 -23 1 -9 1 -44 1 8 1 -18 1 -6 1 -30 1 -17 1 -25 1 3 1 28 1 20 1 47 1 5 1 -39 1 8 1 -20 1 15 1 -7 1 52 1 17 1 -19 1 13 1 34 1 16 1 27 1 -12 1 -7 1 7 1 -14 1 -30 1 -6 1 16 1 41 1 3 1 32 1 12 1 -57 1 33 1 0 1 28 1 -19 1 9 1 2 1 -10 1 -6 1 14 1 8 1 -41 1 13 1 -71 1 -23 1 -8 1 18 1 56 1 -2 1 7 1 -40 1 7 1 9 1 30 1 -6 1 18 1 35 1 0 1 -2 1 0 1 25 1 -18 1 -21 1 -15 1 17 1 -9 1 0 1 -16 1 -23 1 -44 1 5 1 -19 1 -12 1 31 1 0 1 -24 1 17 1 25 1 4 1 35 1 -27 1 10 1 5 1 -48"/>
<path stroke="#1f77b4" d="M99 0l1 2 1 22 1 3 1 1 1 1 1 -8 1 -24 1 2 1 -15 1 18 1 -7 1 14 1 8 1 7 1 -14 1 17 1 5 1 -21 1 -7 1 -19 1 15 1 23 1 -9 1 -1 1 -14 1 14 1 13 1 12 1 -4 1 -9 1 -13 1 3 1 13 1 -8 1 -25 1 -3 1 -10 1 -7 1 1 1 14 1 19 1 -12 1 16 1 -4 1 -7 1 2 1 18 1 -18 1 21 1 10 1 -29 1 3 1 -2 1 -7 1 8 1 18 1 9 1 -27 1 -7 1 -13 1 -7 1 -22 1 38 1 -4 1 3 1 14 1 -11 1 10 1 11 1 5 1 32 1 -1 1 22 1 0 1 -24 1 -16 1 -27 1 -41 1 22 1 26 1 -5 1 8 1 -7 1 1 1 21 1 -23 1 -19 1 -11 1 3 1 0 1 -15 1 23 1 38 1 15 1 35 1 17 1 12 1 -6 1 -21 1 14 1 8 1 -20 1 -21 1 9 1 -33 1 13 1 -16 1 1 1 -10 1 12 1 23 1 23 1 -16 1 -11 1 24 1 10 1 41 1 -11 1 4 1 -24 1 -7 1 -32 1 -23 1 -40 1 0 1 -18 1 -1 1 -33 1 0 1 -18 1 -4 1 -2 1 14 1 -4 1 16 1 -13 1 4 1 -19 1 45 1 -37 1 -23 1 10 1 -9 1 -19 1 -6 1 31 1 4 1 4 1 -4 1 12 1 11 1 24 1 13 1 22 1 -8 1 25 1 13 1 10 1 7 1 18 1 10 1 -16 1 6 1 12 1 2 1 -9 1 -21 1 -2 1 2 1 -15 1 -8 1 21 1 -9 1 -44 1 14 1 -17 1 13 1 2 1 -6 1 -5 1 8 1 -11 1 34 1 -20 1 39 1 -6 1 22 1 -5 1 18 1 -13 1 8 1 -14 1 -29 1 -7 1 23 1 -33 1 -25 1 -19 1 1 1 -29"/>
<path stroke="#ff7f0e" d="M99 0l1 -11 1 7 1 9 1 12 1 -6 1 19 1 -34 1 18 1 -2 1 13 1 -28 1 -7 1 12 1 -28 1 7 1 -1 1 33 1 51 1 -13 1 -3 1 -22 1 -22 1 -36 1 -19 1 -16 1 -25 1 10 1 -34 1 -2 1 -59 1 -5 1 15 1 14 1 -21 1 3 1 -4 1 -27 1 -14 1 76 1 37 1 -29 1 -33 1 -15 1 -7 1 -19 1 4 1 8 1 -2 1 -4 1 16 1 -39 1 2 1 -17 1 20 1 11 1 -12 1 27 1 9 1 -10 1 6 1 -7 1 -4 1 7 1 -15 1 7 1 -6 1 -8 1 7 1 -50 1 -12 1 -23 1 18 1 -6 1 45 1 -27 1 30 1 -21 1 9 1 -50 1 11 1 6 1 -4 1 7 1 -4 1 16 1 30 1 24 1 -4 1 5 1 -8 1 -5 1 39 1 3 1 76 1 30 1 -25 1 5 1 -3 1 -38 1 -14 1 3 1 1 1 -16 1 11 1 13 1 1 1 13 1 -10 1 -6 1 16 1 -18 1 1 1 29 1 6 1 7 1 -9 1 -18 1 6 1 -17 1 16 1 0 1 -8 1 -55 1 49 1 54 1 -41 1 16 1 12 1 38 1 -5 1 -29 1 35 1 5 1 13 1 -4 1 9 1 16 1 23 1 22 1 10 1 -46 1 23 1 40 1 7 1 19 1 2 1 -28 1 -30 1 -14 1 -5 1 -2 1 7 1 -37 1 -9 1 14 1 -40 1 -21 1 11 1 -2 1 -6 1 0 1 34 1 -32 1 13 1 33 1 -5 1 16 1 40 1 -25 1 20 1 -17 1 10 1 36 1 7 1 30 1 -12 1 3 1 -44 1 16 1 -66 1 22 1 -1 1 15 1 -3 1 -29 1 42 1 26 1 -20 1 34 1 20 1 -41 1 -10 1 38 1 1 1 -6 1 23 1 24 1 -35 1 -15 1 -33"/>
<path stroke="#2ca02c" d="M99 0l1 3 1 3 1 7 1 -6 1 -17 1 -6 1 -4 1 -3 1 4 1 0 1 -10 1 -18 1 9 1 6 1 7 1 -1 1 5 1 6 1 -8 1 6 1 -18 1 -9 1 -15 1 -5 1 2 1 -22 1 0 1 18 1 8 1 13 1 -8 1 3 1 12 1 18 1 6 1 6 1 -25 1 19 1 -4 1 -16 1 -20 1 -9 1 -14 1 -9 1 1 1 -2 1 10 1 -4 1 -1 1 7 1 9 1 -2 1 25 1 7 1 23 1 -8 1 4 1 -7 1 -3 1 0 1 4 1 -23 1 -5 1 14 1 19 1 13 1 -3 1 5 1 35 1 -20 1 20 1 -7 1 -26 1 7 1 -21 1 2 1 -15 1 -24 1 -8 1 -5 1 -6 1 1 1 -24 1 27 1 -2 1 8 1 -15 1 -3 1 30 1 2 1 5 1 15 1 0 1 -3 1 -1 1 21 1 5 1 7 1 -12 1 -6 1 -7 1 2 1 38 1 19 1 -16 1 -18 1 2 1 -10 1 16 1 -2 1 8 1 19 1 -15 1 -2 1 3 1 14 1 14 1 30 1 -10 1 -13 1 -4 1 2 1 -16 1 0 1 -3 1 -8 1 12 1 29 1 -9 1 10 1 -4 1 2 1 -17 1 -24 1 -18 1 3 1 7 1 -6 1 -1 1 24 1 8 1 3 1 15 1 -27 1 -4 1 14 1 12 1 -12 1 7 1 -2 1 -9 1 4 1 -12 1 -4 1 -14 1 -3 1 3 1 14 1 -2 1 -34 1 9 1 -16 1 14 1 -9 1 -19 1 -3 1 22 1 13 1 -15 1 -14 1 20 1 17 1 -13 1 -19 1 -2 1 -1 1 -4 1 0 1 15 1 11 1 46 1 4 1 -11 1 6 1 12 1 10 1 7 1 9 1 -11 1 6 1 8 1 12 1 -13 1 4 1 -16 1 5 1 -14 1 6 1 -7 1 2"/>
<path stroke="#d62728" d="M99 0l1 0 1 -11 1 -16 1 14 1 28 1 18 1 -2 1 23 1 0 1 -5 1 39 1 43 1 -19 1 -13 1 12 1 11 1 39 1 -48 1 4 1 -21 1 10 1 -11 1 -15 1 11 1 0 1 21 1 -18 1 -14 1 -15 1 34 1 25 1 -17 1 24 1 -33 1 38 1 -7 1 16 1 18 1 -3 1 -21 1 12 1 18 1 -1 1 9 1 -24 1 43 1 22 1 9 1 -49 1 8 1 -16 1 14 1 -36 1 -6 1 -24 1 -8 1 22 1 -4 1 -15 1 19 1 -20 1 -27 1 -9 1 -25 1 -20 1 22 1 -45 1 25 1 39 1 -12 1 -3 1 29 1 3 1 29 1 17 1 27 1 2 1 18 1 -6 1 1 1 21 1 33 1 20 1 -2 1 1 1 -29 1 19 1 -13 1 -21 1 -28 1 -7 1 -20 1 11 1 12 1 -28 1 20 1 18 1 40 1 -10 1 3 1 -50 1 20 1 -36 1 7 1 -43 1 -26 1 4 1 -22 1 1 1 4 1 1 1 -52 1 17 1 0 1 31 1 -10 1 49 1 17 1 -30 1 12 1 22 1 -5 1 -11 1 -4 1 -8 1 21 1 23 1 -30 1 18 1 18 1 -38 1 -15 1 -25 1 -16 1 -26 1 4 1 -53 1 12 1 -19 1 17 1 -14 1 -10 1 19 1 -3 1 17 1 -11 1 -50 1 24 1 -20 1 11 1 42 1 -1 1 23 1 -67 1 19 1 17 1 15 1 29 1 49 1 13 1 0 1 -34 1 2 1 -40 1 -20 1 21 1 33 1 1 1 51 1 7 1 -44 1 -30 1 -4 1 10 1 10 1 6 1 -21 1 15 1 -22 1 3 1 -18 1 -25 1 20 1 38 1 -16 1 5 1 -30 1 18 1 -25 1 26 1 14 1 -33 1 16 1 27 1 -20 1 -16 1 11 1 -6 1 0 1 19"/>
<path stroke="#9467bd" d="M99 0l1 15 1 -6 1 -17 1 -2 1 17 1 -13 1 18 1 -1 1 -1 1 -6 1 -9 1 4 1 -4 1 3 1 40 1 -12 1 14 1 11 1 22 1 2 1 25 1 16 1 -15 1 8 1 -13 1 2 1 -9 1 13 1 13 1 -8 1 -21 1 -1 1 7 1 -5 1 6 1 -19 1 -40 1 21 1 -9 1 25 1 -15 1 8 1 -31 1 3 1 -43 1 -26 1 -17 1 23 1 -10 1 -11 1 -21 1 -11 1 -2 1 -13 1 27 1 -2 1 8 1 10 1 -43 1 -42 1 -15 1 -6 1 18 1 36 1 24 1 -31 1 -15 1 13 1 12 1 -8 1 3 1 -11 1 -3 1 12 1 0 1 22 1 -9 1 12 1 -13 1 -22 1 18 1 22 1 -20 1 19 1 15 1 23 1 -8 1 12 1 17 1 46 1 19 1 -2 1 -7 1 -35 1 28 1 -36 1 -3 1 30 1 -29 1 13 1 -20 1 5 1 -2 1 11 1 -25 1 -8 1 9 1 -12 1 -1 1 -14 1 -1 1 -15 1 17 1 -17 1 3 1 -11 1 -39 1 23 1 -6 1 -8 1 56 1 10 1 22 1 22 1 5 1 -19 1 -3 1 4 1 14 1 -11 1 -15 1 19 1 13 1 -30 1 -9 1 9 1 -38 1 -17 1 -13 1 -21 1 7 1 19 1 -2 1 -7 1 5 1 1 1 34 1 3 1 -25 1 -2 1 -11 1 5 1 6 1 -19 1 13 1 0 1 49 1 11 1 0 1 3 1 -7 1 11 1 11 1 44 1 3 1 1 1 -10 1 -5 1 11 1 -26 1 9 1 -15 1 14 1 8 1 4 1 19 1 12 1 0 1 -42 1 39 1 4 1 -17 1 -2 1 -1 1 14 1 -9 1 -15 1 2 1 4 1 14 1 -3 1 -51 1 31 1 -18 1 -22 1 -16 1 -24 1 -2 1 -7 1 1"/>
<path stroke="#8c564b" d="M99 0l1 -25 1 -23 1 -18 1 -13 1 -12 1 -3 1 -25 1 -33 1 1 1 0 1 -10 1 -11 1 5 1 -5 1 -11 1 9 1 18 1 -20 1 28 1 9 1 11 1 -34 1 -31 1 16 1 2 1 -21 1 -5 1 23 1 25 1 14 1 6 1 7 1 -1 1 -61 1 51 1 -29 1 11 1 9 1 -6 1 21 1 -8 1 -42 1 3 1 -11 1 -6 1 -16 1 24 1 -2 1 29 1 -18 1 -2 1 -22 1 -45 1 -14 1 -2 1 24 1 19 1 -3 1 42 1 51 1 -20 1 40 1 2 1 9 1 -16 1 44 1 -23 1 -16 1 27 1 -11 1 -32 1 39 1 22 1 22 1 7 1 2 1 26 1 19 1 20 1 38 1 31 1 -29 1 -9 1 27 1 -10 1 -3 1 -19 1 -12 1 0 1 19 1 6 1 7 1 55 1 16 1 48 1 3 1 0 1 35 1 -37 1 9 1 8 1 -5 1 -22 1 20 1 -20 1 17 1 -10 1 17 1 -14 1 -21 1 8 1 -10 1 -8 1 -15 1 13 1 16 1 -12 1 -4 1 33 1 -4 1 -48 1 -7 1 -15 1 21 1 -24 1 -48 1 -6 1 36 1 -12 1 -55 1 14 1 -16 1 16 1 38 1 -11 1 17 1 59 1 -17 1 6 1 -21 1 58 1 -12 1 -11 1 -3 1 38 1 -33 1 23 1 -21 1 -12 1 33 1 3 1 -4 1 5 1 -22 1 -48 1 -16 1 -33 1 28 1 20 1 4 1 -41 1 20 1 -14 1 33 1 2 1 33 1 -30 1 10 1 35 1 -16 1 -26 1 -1 1 50 1 -42 1 -27 1 -11 1 -39 1 17 1 8 1 -10 1 23 1 -13 1 -19 1 2 1 25 1 -49 1 8 1 5 1 -3 1 -2 1 72 1 -17 1 31 1 -24 1 -22 1 6 1 49 1 -7 1 -21 1 16"/>
<path stroke="#e377c2" d="M99 0l1 -16 1 23 1 15 1 6 1 -1 1 30 1 -4 1 -23 1 -1 1 30 1 -10 1 11 1 10 1 18 1 40 1 34 1 -8 1 -18 1 5 1 40 1 -9 1 -23 1 35 1 36 1 -7 1 2 1 13 1 -17 1 16 1 -13 1 -14 1 31 1 -22 1 10 1 -9 1 -10 1 42 1 -1 1 -20 1 3 1 2 1 -17 1 5 1 15 1 -2 1 -33 1 -18 1 -11 1 13 1 -20 1 -13 1 3 1 8 1 14 1 0 1 -29 1 4 1 -22 1 -22 1 27 1 -3 1 -3 1 -3 1 14 1 -18 1 -13 1 -43 1 -8 1 14 1 24 1 19 1 -2 1 -3 1 33 1 28 1 -5 1 -36 1 5 1 18 1 17 1 9 1 -32 1 4 1 -6 1 -17 1 13 1 -19 1 31 1 -26 1 -6 1 -31 1 -5 1 39 1 16 1 7 1 21 1 -15 1 -6 1 -2 1 -3 1 -10 1 -24 1 7 1 7 1 -25 1 -9 1 7 1 -32 1 -34 1 21 1 34 1 -30 1 -16 1 -6 1 6 1 -21 1 8 1 -8 1 34 1 -21 1 21 1 36 1 -30 1 -28 1 25 1 20 1 7 1 34 1 20 1 -16 1 -6 1 25 1 9 1 29 1 -7 1 -2 1 -14 1 -14 1 -22 1 -10 1 41 1 -14 1 -15 1 -21 1 10 1 12 1 16 1 -33 1 44 1 -2 1 -26 1 -2 1 48 1 1 1 -37 1 -31 1 -24 1 -18 1 8 1 17 1 -4 1 -12 1 40 1 -38 1 -28 1 2 1 -7 1 29 1 23 1 -2 1 11 1 -21 1 -25 1 0 1 34 1 -19 1 -37 1 -10 1 -11 1 18 1 -20 1 27 1 28 1 30 1 -18 1 2 1 16 1 7 1 9 1 42 1 -4 1 23 1 4 1 -28 1 -32 1 28 1 -25 1 -10 1 4 1 -6"/>
<path stroke="#7f7f7f" d="M99 0l1 -11 1 -1 1 2 1 -1 1 4 1 -15 1 -3 1 17 1 17 1 -2 1 19 1 -11 1 -2 1 -5 1 -24 1 -24 1 18 1 -6 1 22 1 4 1 7 1 21 1 6 1 -20 1 -8 1 5 1 8 1 4 1 -19 1 0 1 -34 1 -6 1 0 1 -15 1 8 1 -2 1 1 1 8 1 10 1 -2 1 19 1 2 1 -8 1 -14 1 10 1 12 1 -1 1 16 1 -8 1 8 1 -4 1 -4 1 -1 1 5 1 5 1 -6 1 -12 1 -12 1 19 1 6 1 0 1 4 1 -2 1 -27 1 -9 1 0 1 20 1 3 1 6 1 -29 1 4 1 14 1 -10 1 22 1 -3 1 -11 1 -7 1 -9 1 4 1 9 1 17 1 7 1 -27 1 18 1 0 1 -13 1 11 1 1 1 -5 1 -1 1 -10 1 10 1 -19 1 -12 1 -10 1 -2 1 2 1 -23 1 -5 1 -6 1 -5 1 -6 1 16 1 14 1 -9 1 -8 1 8 1 -4 1 -17 1 4 1 11 1 6 1 20 1 17 1 8 1 12 1 -13 1 13 1 12 1 -2 1 -26 1 -5 1 -1 1 16 1 -5 1 8 1 -7 1 -15 1 -9 1 -23 1 -6 1 -2 1 -5 1 7 1 -6 1 5 1 13 1 -11 1 8 1 -28 1 -3 1 -11 1 -1 1 8 1 5 1 10 1 0 1 12 1 -1 1 10 1 7 1 9 1 0 1 15 1 -13 1 17 1 -21 1 7 1 -10 1 13 1 16 1 -7 1 4 1 -13 1 12 1 12 1 28 1 21 1 -7 1 -14 1 -14 1 -4 1 -2 1 -2 1 15 1 -17 1 -9 1 7 1 6 1 -7 1 -9 1 0 1 -6 1 -7 1 -30 1 -13 1 -20 1 1 1 -23 1 0 1 -23 1 12 1 -8 1 -2 1 32 1 -8 1 -12 1 -18 1 9 1 10"/>
<path stroke="#bcbd22" d="M99 0l1 -6 1 11 1 14 1 -11 1 -21 1 31 1 1 1 5 1 -5 1 -11 1 -13 1 -3 1 7 1 31 1 -44 1 8 1 27 1 55 1 -9 1 11 1 -25 1 53 1 5 1 -36 1 -9 1 12 1 -40 1 7 1 11 1 15 1 0 1 -18 1 -8 1 30 1 47 1 -28 1 0 1 64 1 10 1 3 1 -24 1 -26 1 -40 1 -11 1 -36 1 -4 1 24 1 35 1 -5 1 -35 1 -11 1 -23 1 21 1 -23 1 -46 1 -40 1 -17 1 -18 1 -9 1 4 1 44 1 -2 1 -36 1 71 1 25 1 -45 1 -16 1 -20 1 2 1 -9 1 18 1 18 1 43 1 -29 1 9 1 16 1 -21 1 -2 1 20 1 0 1 0 1 -3 1 74 1 15 1 21 1 8 1 -36 1 0 1 -13 1 2 1 3 1 -2 1 -17 1 -34 1 31 1 -49 1 17 1 1 1 -79 1 -22 1 5 1 15 1 7 1 -23 1 -14 1 1 1 -63 1 7 1 -72 1 10 1 -19 1 -24 1 -13 1 -17 1 60 1 -14 1 -50 1 -28 1 6 1 23 1 -21 1 51 1 24 1 40 1 32 1 0 1 23 1 -12 1 15 1 12 1 1 1 14 1 31 1 -38 1 50 1 19 1 -30 1 -10 1 -20 1 -6 1 -37 1 -10 1 -5 1 -10 1 -11 1 13 1 -8 1 -9 1 5 1 -21 1 -30 1 3 1 37 1 -11 1 -11 1 9 1 -2 1 -4 1 20 1 26 1 -52 1 -5 1 18 1 -20 1 -40 1 -2 1 -56 1 9 1 -15 1 -5 1 31 1 -6 1 1 1 -1 1 -8 1 0 1 -21 1 -2 1 6 1 58 1 48 1 17 1 -39 1 1 1 31 1 40 1 54 1 1 1 7 1 -52 1 -26 1 29 1 -6 1 -26 1 -17 1 -23 1 31 1 -9 1 9 1 17"/>
<path stroke="#17becf" d="M99 0l1 1 1 18 1 10 1 27 1 3 1 -16 1 9 1 -6 1 -16 1 17 1 15 1 -12 1 -6 1 14 1 -16 1 13 1 4 1 15 1 9 1 5 1 3 1 7 1 12 1 14 1 1 1 3 1 -39 1 -9 1 8 1 4 1 -15 1 -23 1 -13 1 11 1 -9 1 30 1 3 1 16 1 -8 1 0 1 12 1 -7 1 6 1 16 1 -2 1 -13 1 3 1 7 1 9 1 -11 1 -23 1 17 1 19 1 2 1 7 1 11 1 9 1 7 1 -8 1 -20 1 1 1 -26 1 -37 1 -5 1 -17 1 5 1 -14 1 7 1 12 1 -24 1 -2 1 -32 1 -1 1 1 1 -18 1 -2 1 15 1 -14 1 -17 1 -23 1 -17 1 -15 1 17 1 -5 1 14 1 -33 1 13 1 -23 1 -2 1 19 1 -13 1 13 1 -19 1 4 1 -6 1 2 1 19 1 16 1 -13 1 27 1 -9 1 8 1 23 1 -6 1 29 1 1 1 -2 1 2 1 12 1 20 1 16 1 -26 1 -3 1 9 1 -10 1 19 1 -46 1 -27 1 -8 1 2 1 -26 1 22 1 10 1 15 1 -29 1 35 1 28 1 7 1 4 1 21 1 -1 1 -1 1 -25 1 -18 1 -19 1 -8 1 -23 1 -15 1 12 1 10 1 15 1 -2 1 30 1 -6 1 -13 1 -12 1 -3 1 21 1 -11 1 40 1 -17 1 2 1 -4 1 -19 1 -10 1 -2 1 7 1 -13 1 37 1 10 1 12 1 44 1 11 1 21 1 -18 1 3 1 -30 1 3 1 -1 1 -42 1 -21 1 -13 1 -8 1 -15 1 19 1 10 1 -20 1 -7 1 0 1 -16 1 -21 1 9 1 17 1 -3 1 2 1 1 1 -12 1 -19 1 21 1 -6 1 -21 1 -25 1 -12 1 37 1 -5 1 16 1 -22 1 3 1 -30 1 6"/>
<path stroke="#1f77b4" d="M99 0l1 18 1 -4 1 10 1 -20 1 12 1 17 1 -7 1 10 1 24 1 22 1 -11 1 5 1 -17 1 -1 1 28 1 0 1 -35 1 3 1 6 1 1 1 5 1 -2 1 3 1 4 1 7 1 -4 1 5 1 0 1 3 1 -46 1 -18 1 -22 1 7 1 64 1 23 1 -40 1 -29 1 -13 1 20 1 -21 1 10 1 25 1 -10 1 9 1 9 1 5 1 28 1 21 1 -6 1 8 1 -2 1 27 1 15 1 -4 1 -30 1 4 1 7 1 -7 1 12 1 -1 1 -9 1 -8 1 7 1 -39 1 9 1 -14 1 -9 1 16 1 -10 1 5 1 -35 1 -9 1 -1 1 -8 1 -37 1 15 1 -12 1 4 1 -11 1 -8 1 -12 1 3 1 4 1 7 1 33 1 21 1 -14 1 -8 1 -7 1 -16 1 -35 1 -17 1 2 1 32 1 -7 1 -23 1 20 1 -44 1 -32 1 -14 1 14 1 16 1 -19 1 -16 1 20 1 7 1 -27 1 -4 1 10 1 5 1 -5 1 25 1 16 1 13 1 19 1 -8 1 23 1 -35 1 31 1 -31 1 -27 1 -12 1 -14 1 -8 1 15 1 -7 1 16 1 32 1 -18 1 -36 1 -19 1 11 1 -7 1 4 1 -3 1 5 1 14 1 18 1 21 1 15 1 17 1 -16 1 20 1 26 1 -40 1 -3 1 6 1 14 1 -23 1 11 1 8 1 6 1 11 1 -37 1 16 1 24 1 -2 1 -11 1 -16 1 -6 1 -18 1 29 1 -12 1 26 1 -6 1 -8 1 21 1 -12 1 24 1 11 1 -10 1 -11 1 8 1 1 1 -20 1 -8 1 2 1 -1 1 6 1 2 1 1 1 -10 1 -16 1 8 1 0 1 -21 1 -18 1 20 1 -5 1 12 1 1 1 7 1 -13 1 -19 1 -8 1 15 1 0 1 25 1 -17 1 7"/>
<path stroke="#ff7f0e" d="M99 0l1 -6 1 -15 1 -3 1 -7 1 22 1 14 1 8 1 17 1 -5 1 10 1 13 1 -33 1 0 1 -4 1 17 1 24 1 5 1 23 1 15 1 29 1 43 1 10 1 -20 1 4 1 -19 1 35 1 28 1 1 1 14 1 6 1 -43 1 -1 1 -7 1 34 1 22 1 13 1 -9 1 -33 1 -10 1 1 1 -21 1 7 1 16 1 11 1 -2 1 2 1 -13 1 -38 1 -10 1 -36 1 -20 1 -26 1 -20 1 11 1 -31 1 -29 1 -12 1 10 1 20 1 24 1 15 1 4 1 62 1 9 1 34 1 -7 1 5 1 16 1 31 1 16 1 -41 1 26 1 -7 1 9 1 -55 1 -28 1 -31 1 1 1 -8 1 -38 1 25 1 -3 1 1 1 -4 1 15 1 -35 1 20 1 33 1 3 1 -16 1 -29 1 -8 1 -9 1 15 1 -27 1 -44 1 13 1 0 1 -36 1 11 1 -24 1 -20 1 -40 1 4 1 -23 1 -33 1 15 1 14 1 7 1 1 1 6 1 -3 1 24 1 -12 1 8 1 -2 1 37 1 31 1 -10 1 -21 1 -5 1 -8 1 -9 1 7 1 65 1 -3 1 4 1 12 1 -11 1 27 1 0 1 -51 1 6 1 -10 1 -25 1 40 1 10 1 7 1 -18 1 20 1 -35 1 -32 1 4 1 -48 1 -19 1 -4 1 0 1 27 1 -14 1 -16 1 15 1 7 1 -19 1 -3 1 3 1 -12 1 18 1 3 1 47 1 2 1 2 1 -14 1 2 1 -19 1 -9 1 15 1 49 1 4 1 -6 1 -13 1 16 1 -23 1 12 1 -29 1 -45 1 -37 1 -18 1 -59 1 21 1 7 1 -3 1 18 1 11 1 16 1 15 1 12 1 12 1 17 1 20 1 13 1 17 1 -16 1 -18 1 -6 1 -5 1 62 1 -8 1 -18 1 -4 1 -9"/>
<path stroke="#2ca02c" d="M99 0l1 11 1 -6 1 -11 1 -14 1 -11 1 3 1 4 1 1 1 4 1 5 1 6 1 -35 1 11 1 -5 1 12 1 -1 1 3 1 -14 1 3 1 -18 1 23 1 2 1 -16 1 -11 1 -6 1 25 1 10 1 7 1 1 1 -4 1 11 1 21 1 24 1 23 1 12 1 -30 1 14 1 6 1 -1 1 15 1 -5 1 -23 1 24 1 28 1 13 1 -2 1 -23 1 1 1 13 1 0 1 -13 1 13 1 -9 1 -19 1 -22 1 43 1 -13 1 -12 1 -43 1 -16 1 -11 1 13 1 9 1 27 1 -22 1 6 1 -8 1 30 1 -24 1 -49 1 -8 1 21 1 -22 1 12 1 1 1 -37 1 15 1 -3 1 -19 1 -4 1 -24 1 5 1 27 1 3 1 25 1 -12 1 23 1 13 1 -15 1 -31 1 19 1 -22 1 -10 1 0 1 27 1 -10 1 -9 1 3 1 63 1 -4 1 -10 1 -31 1 -1 1 -22 1 38 1 16 1 6 1 -17 1 0 1 0 1 -9 1 -27 1 4 1 45 1 5 1 23 1 -20 1 17 1 15 1 -27 1 38 1 -7 1 5 1 -11 1 -45 1 6 1 3 1 -21 1 46 1 14 1 4 1 25 1 -15 1 4 1 16 1 29 1 -7 1 23 1 -16 1 44 1 18 1 -9 1 25 1 -27 1 26 1 -9 1 -22 1 -6 1 17 1 19 1 -36 1 -5 1 -14 1 23 1 -11 1 25 1 6 1 6 1 -12 1 -45 1 -16 1 -13 1 -14 1 -23 1 -41 1 -5 1 -5 1 17 1 -15 1 17 1 -29 1 -5 1 13 1 -19 1 -18 1 8 1 8 1 6 1 3 1 22 1 2 1 11 1 -7 1 31 1 -17 1 -31 1 -16 1 -9 1 -5 1 4 1 -14 1 22 1 20 1 12 1 -1 1 27 1 1 1 -56 1 -1 1 -7"/>
<path stroke="#d62728" d="M99 0l1 17 1 3 1 4 1 28 1 3 1 15 1 -10 1 -5 1 0 1 -30 1 0 1 -10 1 -7 1 -5 1 -16 1 2 1 -18 1 -2 1 40 1 4 1 -24 1 -8 1 11 1 -2 1 11 1 32 1 34 1 3 1 0 1 2 1 -25 1 9 1 -13 1 -13 1 -11 1 -3 1 -16 1 -17 1 -4 1 20 1 1 1 -29 1 -17 1 35 1 25 1 -22 1 -24 1 -18 1 4 1 -18 1 14 1 -1 1 13 1 -32 1 0 1 -6 1 -10 1 5 1 40 1 -22 1 -21 1 -2 1 -28 1 -1 1 2 1 -15 1 37 1 25 1 27 1 -2 1 -4 1 26 1 -16 1 30 1 32 1 -31 1 13 1 -12 1 -5 1 12 1 15 1 -6 1 15 1 46 1 -2 1 -28 1 -6 1 1 1 5 1 8 1 -1 1 9 1 -13 1 9 1 -15 1 9 1 14 1 7 1 -5 1 44 1 -12 1 -38 1 -27 1 19 1 12 1 -29 1 32 1 28 1 -37 1 -9 1 -27 1 -9 1 -21 1 31 1 3 1 12 1 14 1 -17 1 -4 1 45 1 13 1 -2 1 -20 1 -6 1 -12 1 -6 1 -17 1 -2 1 2 1 -3 1 41 1 25 1 -9 1 6 1 3 1 -3 1 -18 1 -25 1 8 1 10 1 -24 1 23 1 -17 1 -14 1 -18 1 -1 1 -6 1 -9 1 -2 1 -16 1 -8 1 8 1 -1 1 30 1 18 1 -31 1 0 1 0 1 16 1 6 1 -2 1 21 1 -34 1 -13 1 -3 1 0 1 -9 1 33 1 7 1 4 1 -10 1 16 1 -5 1 -24 1 9 1 -14 1 18 1 16 1 -19 1 -7 1 7 1 -38 1 -1 1 -7 1 -20 1 17 1 14 1 -7 1 -6 1 12 1 3 1 -31 1 12 1 -12 1 -8 1 -26 1 13 1 6 1 33 1 18"/>
<path stroke="#9467bd" d="M99 0l1 -7 1 9 1 0 1 -19 1 -21 1 -10 1 8 1 12 1 8 1 -12 1 18 1 -32 1 16 1 9 1 13 1 22 1 2 1 -11 1 -21 1 6 1 -38 1 -11 1 23 1 -20 1 -13 1 2 1 25 1 11 1 -7 1 -15 1 -3 1 -19 1 -48 1 7 1 -8 1 1 1 6 1 -29 1 4 1 13 1 8 1 -9 1 5 1 -1 1 13 1 -11 1 23 1 29 1 -6 1 7 1 15 1 -16 1 -7 1 24 1 37 1 50 1 11 1 -6 1 -43 1 0 1 17 1 3 1 5 1 9 1 -4 1 40 1 6 1 -5 1 -4 1 -20 1 22 1 -14 1 -17 1 5 1 -25 1 -4 1 33 1 -36 1 30 1 28 1 25 1 26 1 9 1 14 1 -12 1 -25 1 -18 1 29 1 27 1 -8 1 4 1 -6 1 18 1 1 1 -19 1 2 1 -28 1 34 1 7 1 -44 1 31 1 44 1 -25 1 -31 1 5 1 5 1 20 1 -22 1 -37 1 41 1 -9 1 -12 1 -3 1 5 1 -6 1 18 1 19 1 15 1 -3 1 -26 1 7 1 -35 1 -1 1 -10 1 35 1 7 1 -4 1 -22 1 10 1 -3 1 -34 1 4 1 -22 1 7 1 6 1 9 1 -8 1 -31 1 -11 1 -49 1 -18 1 7 1 -5 1 15 1 -3 1 -13 1 -21 1 11 1 3 1 -31 1 -31 1 12 1 15 1 34 1 -5 1 8 1 39 1 -23 1 -4 1 30 1 28 1 -2 1 -18 1 29 1 -5 1 -25 1 49 1 12 1 9 1 34 1 21 1 -20 1 28 1 -14 1 -4 1 -13 1 -1 1 -3 1 -27 1 -25 1 -3 1 -4 1 -15 1 9 1 11 1 -12 1 12 1 -30 1 4 1 -12 1 12 1 62 1 7 1 -33 1 -1 1 20 1 23 1 -20 1 -36 1 -24"/>
<path stroke="#8c564b" d="M99 0l1 11 1 -7 1 -9 1 11 1 19 1 3 1 -4 1 35 1 -14 1 -8 1 -22 1 2 1 9 1 0 1 35 1 -13 1 34 1 -7 1 20 1 10 1 26 1 -35 1 -3 1 23 1 -19 1 -24 1 -15 1 23 1 -38 1 -40 1 26 1 -45 1 3 1 -18 1 -3 1 55 1 11 1 5 1 49 1 8 1 24 1 -14 1 15 1 -2 1 36 1 7 1 -16 1 -24 1 14 1 -57 1 9 1 9 1 11 1 13 1 1 1 -13 1 2 1 17 1 7 1 -35 1 3 1 -33 1 -9 1 -19 1 -23 1 0 1 15 1 48 1 -20 1 17 1 3 1 0 1 22 1 23 1 -4 1 48 1 -25 1 -3 1 46 1 12 1 -39 1 25 1 0 1 -24 1 33 1 39 1 4 1 6 1 -2 1 3 1 14 1 -13 1 23 1 62 1 -63 1 5 1 1 1 -4 1 -39 1 -2 1 -18 1 -39 1 -1 1 24 1 -13 1 5 1 -20 1 -16 1 -26 1 28 1 -67 1 -23 1 44 1 -36 1 31 1 -14 1 -20 1 15 1 -4 1 -86 1 22 1 -49 1 10 1 9 1 31 1 10 1 37 1 18 1 -20 1 31 1 5 1 -7 1 7 1 -14 1 -6 1 9 1 19 1 4 1 22 1 35 1 11 1 -38 1 17 1 42 1 -2 1 -9 1 -2 1 -7 1 -30 1 23 1 -22 1 4 1 -23 1 10 1 25 1 -5 1 -17 1 -49 1 24 1 35 1 29 1 34 1 -63 1 -17 1 -21 1 -7 1 17 1 -17 1 0 1 5 1 26 1 -17 1 -31 1 -36 1 22 1 -35 1 2 1 26 1 16 1 -14 1 25 1 -22 1 -7 1 -7 1 -40 1 -16 1 35 1 -39 1 -21 1 2 1 -3 1 -12 1 -24 1 -8 1 -1 1 -16 1 3 1 40 1 10 1 4"/>
<path stroke="#e377c2" d="M99 0l1 -21 1 11 1 -12 1 -3 1 3 1 -9 1 12 1 -17 1 12 1 -12 1 15 1 -26 1 1 1 0 1 -21 1 -14 1 12 1 12 1 12 1 9 1 3 1 -3 1 2 1 24 1 -2 1 -7 1 -30 1 -20 1 -39 1 -22 1 6 1 34 1 -27 1 -15 1 3 1 6 1 30 1 -1 1 -2 1 11 1 -7 1 44 1 -8 1 -9 1 -20 1 -18 1 4 1 3 1 40 1 -13 1 -8 1 -1 1 -30 1 -29 1 64 1 15 1 17 1 12 1 -14 1 -23 1 16 1 -27 1 3 1 -13 1 23 1 7 1 2 1 -11 1 15 1 20 1 3 1 17 1 -34 1 3 1 -20 1 -8 1 -17 1 -28 1 -6 1 9 1 -18 1 10 1 12 1 -4 1 -8 1 -18 1 -10 1 -26 1 -16 1 50 1 -19 1 -13 1 34 1 22 1 -4 1 4 1 15 1 -13 1 5 1 22 1 14 1 34 1 10 1 -3 1 7 1 -28 1 2 1 -5 1 -8 1 15 1 -30 1 -1 1 -7 1 12 1 -14 1 -9 1 -27 1 -9 1 5 1 20 1 11 1 16 1 -9 1 0 1 25 1 -21 1 -13 1 11 1 19 1 5 1 -3 1 2 1 14 1 -28 1 -12 1 -16 1 25 1 -5 1 -19 1 -31 1 33 1 -3 1 22 1 8 1 9 1 1 1 45 1 21 1 29 1 -5 1 10 1 -11 1 -3 1 13 1 -21 1 -40 1 10 1 -41 1 11 1 -35 1 -26 1 -2 1 4 1 -2 1 3 1 26 1 -10 1 16 1 -9 1 8 1 12 1 2 1 -9 1 -25 1 -21 1 33 1 20 1 -7 1 -27 1 -26 1 -9 1 -29 1 10 1 -13 1 4 1 -8 1 14 1 -9 1 3 1 -5 1 -16 1 13 1 -34 1 33 1 4 1 9 1 -35 1 -9 1 -4 1 19"/>
<path stroke="#7f7f7f" d="M99 0l1 10 1 -4 1 -2 1 -4 1 17 1 9 1 -7 1 -9 1 -4 1 -8 1 -17 1 -5 1 -5 1 16 1 -21 1 -8 1 -12 1 29 1 11 1 22 1 8 1 27 1 24 1 8 1 4 1 11 1 -8 1 -4 1 10 1 -11 1 23 1 -22 1 -14 1 -7 1 -24 1 -24 1 -11 1 -8 1 21 1 -10 1 34 1 17 1 -15 1 -14 1 -13 1 0 1 9 1 -6 1 -35 1 -22 1 -8 1 10 1 2 1 -6 1 -4 1 -8 1 -16 1 14 1 23 1 18 1 -11 1 14 1 -15 1 -10 1 -5 1 -4 1 2 1 3 1 -13 1 -22 1 19 1 -3 1 -9 1 3 1 7 1 -32 1 -11 1 12 1 25 1 31 1 9 1 -31 1 -12 1 13 1 2 1 5 1 -35 1 24 1 -9 1 11 1 -4 1 -20 1 -13 1 20 1 0 1 -8 1 -17 1 25 1 -12 1 26 1 16 1 -14 1 28 1 22 1 13 1 -15 1 25 1 -18 1 -4 1 12 1 -21 1 6 1 -4 1 -13 1 -27 1 15 1 6 1 -1 1 10 1 -18 1 -10 1 0 1 14 1 -26 1 -42 1 0 1 6 1 9 1 44 1 -28 1 -17 1 0 1 13 1 -3 1 8 1 17 1 16 1 -51 1 21 1 27 1 12 1 -33 1 5 1 5 1 -35 1 8 1 30 1 -11 1 15 1 -14 1 -12 1 28 1 45 1 -15 1 -9 1 -5 1 -27 1 -5 1 -3 1 15 1 11 1 9 1 36 1 10 1 -29 1 18 1 -10 1 3 1 -20 1 12 1 -17 1 27 1 -27 1 -22 1 10 1 -8 1 38 1 -16 1 8 1 -18 1 -35 1 14 1 18 1 17 1 2 1 -5 1 -30 1 10 1 6 1 54 1 -35 1 -9 1 2 1 4 1 -9 1 -14 1 13 1 15 1 -20 1 19"/>
<path stroke="#bcbd22" d="M99 0l1 19 1 -4 1 -9 1 -6 1 -1 1 -40 1 12 1 40 1 -11 1 15 1 5 1 5 1 21 1 1 1 26 1 9 1 -15 1 -29 1 -1 1 38 1 39 1 16 1 3 1 -12 1 15 1 15 1 1 1 4 1 -35 1 3 1 -16 1 -34 1 -13 1 3 1 29 1 14 1 13 1 -31 1 -29 1 -9 1 1 1 5 1 38 1 -21 1 -12 1 9 1 -14 1 -25 1 -46 1 -34 1 61 1 33 1 25 1 15 1 11 1 -34 1 11 1 -13 1 5 1 -10 1 -4 1 -40 1 11 1 0 1 -42 1 37 1 -40 1 -2 1 -20 1 -18 1 12 1 19 1 30 1 -10 1 -10 1 10 1 -53 1 -24 1 -1 1 -17 1 -36 1 10 1 -21 1 25 1 7 1 39 1 6 1 -41 1 51 1 -29 1 97 1 37 1 -43 1 -1 1 -5 1 -26 1 -7 1 -49 1 50 1 23 1 -11 1 -9 1 58 1 0 1 29 1 37 1 36 1 13 1 -6 1 16 1 -3 1 -9 1 76 1 5 1 -7 1 8 1 -71 1 6 1 41 1 13 1 11 1 -8 1 -30 1 -33 1 -20 1 21 1 -1 1 -16 1 16 1 -44 1 -3 1 -53 1 33 1 -5 1 -74 1 -11 1 90 1 -32 1 -13 1 16 1 29 1 -2 1 -62 1 38 1 31 1 24 1 -4 1 14 1 -27 1 -29 1 62 1 23 1 7 1 -37 1 -46 1 -7 1 40 1 19 1 11 1 1 1 -19 1 -2 1 -24 1 -26 1 -17 1 -7 1 3 1 15 1 -4 1 -46 1 -30 1 -40 1 3 1 2 1 -15 1 -16 1 -29 1 -21 1 15 1 -5 1 36 1 29 1 -55 1 33 1 -3 1 45 1 -19 1 80 1 -37 1 24 1 0 1 66 1 15 1 29 1 -52 1 5 1 25 1 33 1 -28 1 -32"/>
<path stroke="#17becf" d="M99 0l1 6 1 -6 1 8 1 5 1 4 1 -1 1 7 1 -5 1 -10 1 -2 1 29 1 -6 1 18 1 3 1 19 1 4 1 -12 1 -8 1 2 1 -9 1 7 1 -3 1 -13 1 -9 1 2 1 -17 1 1 1 -15 1 32 1 -8 1 -16 1 -14 1 -14 1 -20 1 6 1 12 1 -12 1 2 1 3 1 19 1 -2 1 11 1 -37 1 0 1 13 1 13 1 6 1 -32 1 4 1 -12 1 -2 1 6 1 -5 1 6 1 -9 1 0 1 -1 1 4 1 4 1 10 1 13 1 3 1 6 1 -16 1 5 1 -9 1 -16 1 7 1 1 1 6 1 16 1 -11 1 -12 1 21 1 -9 1 28 1 6 1 12 1 -13 1 -24 1 15 1 13 1 -2 1 9 1 -1 1 23 1 5 1 -7 1 -8 1 0 1 -11 1 4 1 5 1 -5 1 17 1 -1 1 7 1 -30 1 8 1 1 1 -5 1 5 1 -52 1 0 1 -8 1 -1 1 -2 1 10 1 1 1 -2 1 15 1 31 1 2 1 19 1 9 1 -6 1 10 1 -6 1 -6 1 3 1 -24 1 -27 1 -3 1 23 1 -11 1 -9 1 1 1 -26 1 14 1 -14 1 -15 1 20 1 -1 1 -14 1 -33 1 3 1 8 1 17 1 10 1 6 1 -8 1 10 1 8 1 6 1 -18 1 9 1 3 1 9 1 -10 1 10 1 -1 1 31 1 10 1 -5 1 29 1 -30 1 12 1 0 1 -36 1 9 1 11 1 -5 1 0 1 -17 1 33 1 3 1 1 1 -32 1 13 1 21 1 -4 1 24 1 -3 1 1 1 -33 1 16 1 3 1 -11 1 16 1 -3 1 19 1 -27 1 -7 1 6 1 -5 1 1 1 -3 1 7 1 -14 1 -1 1 -28 1 -25 1 -13 1 -21 1 7 1 -6 1 3 1 8 1 17 1 -8"/>
<path stroke="#1f77b4" d="M99 0l1 9 1 4 1 3 1 15 1 2 1 -1 1 29 1 14 1 -4 1 -11 1 30 1 11 1 -19 1 -10 1 6 1 -20 1 -4 1 18 1 18 1 -15 1 28 1 27 1 -28 1 -29 1 2 1 -13 1 6 1 28 1 19 1 -38 1 -23 1 -3 1 7 1 2 1 -5 1 19 1 -15 1 9 1 10 1 -1 1 -6 1 7 1 19 1 18 1 -19 1 24 1 -20 1 8 1 -32 1 31 1 2 1 7 1 21 1 -18 1 3 1 -29 1 -12 1 -5 1 28 1 6 1 -22 1 8 1 -36 1 16 1 5 1 -2 1 4 1 -25 1 -20 1 1 1 -14 1 7 1 16 1 -11 1 -5 1 9 1 19 1 -15 1 -5 1 -19 1 -35 1 -1 1 -27 1 1 1 -20 1 0 1 -10 1 -27 1 -1 1 -4 1 -18 1 13 1 15 1 -20 1 -11 1 8 1 -16 1 11 1 25 1 5 1 -2 1 7 1 -15 1 -9 1 -8 1 -28 1 41 1 -27 1 7 1 11 1 -22 1 -14 1 7 1 22 1 7 1 1 1 -17 1 -17 1 -4 1 7 1 3 1 -1 1 -23 1 21 1 50 1 30 1 20 1 23 1 -17 1 -11 1 -40 1 -9 1 7 1 -13 1 -11 1 25 1 32 1 31 1 8 1 30 1 19 1 -6 1 3 1 20 1 4 1 3 1 -11 1 11 1 1 1 0 1 -18 1 6 1 8 1 -6 1 -9 1 5 1 25 1 -14 1 -26 1 38 1 -19 1 31 1 -3 1 10 1 -11 1 -20 1 -19 1 11 1 9 1 0 1 5 1 -1 1 19 1 6 1 -16 1 -24 1 -2 1 22 1 -26 1 -20 1 9 1 30 1 -8 1 -24 1 -19 1 -22 1 -1 1 20 1 -9 1 40 1 10 1 -28 1 2 1 9 1 -47 1 18 1 21 1 -10 1 20 1 1"/>
<path stroke="#ff7f0e" d="M99 0l1 -13 1 -9 1 -6 1 -27 1 -20 1 6 1 -19 1 4 1 -7 1 1 1 -1 1 -12 1 13 1 17 1 2 1 -27 1 -23 1 -4 1 -20 1 -1 1 4 1 25 1 16 1 9 1 10 1 33 1 26 1 16 1 -22 1 -17 1 -55 1 16 1 8 1 -17 1 23 1 -16 1 12 1 16 1 -10 1 -22 1 28 1 1 1 -18 1 21 1 -1 1 44 1 12 1 -6 1 -11 1 18 1 -3 1 -57 1 -40 1 3 1 -1 1 -16 1 -2 1 4 1 22 1 11 1 -25 1 3 1 23 1 -6 1 1 1 16 1 -38 1 26 1 0 1 -14 1 2 1 -35 1 -13 1 -28 1 -4 1 -5 1 -6 1 -20 1 -13 1 -60 1 -48 1 22 1 -4 1 25 1 12 1 49 1 21 1 18 1 -33 1 -18 1 21 1 -4 1 3 1 25 1 -7 1 20 1 32 1 8 1 22 1 11 1 -15 1 45 1 12 1 -12 1 8 1 2 1 20 1 -7 1 14 1 -16 1 -18 1 44 1 1 1 -16 1 37 1 -58 1 3 1 -1 1 19 1 5 1 -13 1 -8 1 -43 1 -17 1 -29 1 5 1 -10 1 -17 1 26 1 -20 1 -3 1 -2 1 4 1 -30 1 17 1 25 1 41 1 -26 1 11 1 39 1 19 1 -2 1 -12 1 -4 1 4 1 18 1 -27 1 -33 1 35 1 -33 1 -17 1 -35 1 -30 1 19 1 -9 1 -31 1 -24 1 -11 1 -8 1 21 1 10 1 32 1 -29 1 4 1 44 1 -2 1 1 1 -46 1 23 1 23 1 -12 1 11 1 13 1 -6 1 -22 1 -43 1 0 1 2 1 -6 1 46 1 -40 1 12 1 -54 1 -7 1 25 1 -48 1 -9 1 -10 1 49 1 15 1 -44 1 13 1 27 1 13 1 -38 1 16 1 30 1 -5 1 -1 1 -21"/>
<path stroke="#2ca02c" d="M99 0l1 -4 1 11 1 -27 1 0 1 11 1 -10 1 4 1 5 1 4 1 8 1 -6 1 7 1 1 1 -9 1 -8 1 6 1 11 1 -30 1 -8 1 34 1 -9 1 -13 1 -16 1 -5 1 8 1 6 1 -12 1 13 1 -3 1 2 1 -14 1 -1 1 -7 1 28 1 -10 1 20 1 -13 1 -17 1 8 1 25 1 1 1 28 1 -9 1 -5 1 -7 1 -8 1 -15 1 27 1 -2 1 1 1 0 1 17 1 -17 1 -9 1 -9 1 17 1 -18 1 10 1 -15 1 10 1 15 1 19 1 15 1 15 1 11 1 5 1 -30 1 -22 1 -10 1 -14 1 -19 1 4 1 -10 1 -14 1 -18 1 25 1 -18 1 13 1 8 1 -7 1 4 1 8 1 -15 1 16 1 3 1 -4 1 -29 1 9 1 -26 1 -29 1 26 1 9 1 -21 1 29 1 32 1 14 1 16 1 1 1 -7 1 -4 1 45 1 8 1 -3 1 -8 1 11 1 -15 1 36 1 1 1 -22 1 2 1 -7 1 -16 1 28 1 8 1 -12 1 -8 1 0 1 -21 1 -26 1 16 1 37 1 3 1 21 1 3 1 -22 1 -5 1 -11 1 -1 1 -11 1 -25 1 8 1 -21 1 7 1 -12 1 0 1 -1 1 11 1 -9 1 18 1 23 1 -9 1 -8 1 13 1 31 1 14 1 -26 1 -15 1 2 1 -14 1 -2 1 -18 1 18 1 -3 1 -4 1 -37 1 -25 1 33 1 -21 1 11 1 23 1 -21 1 18 1 -13 1 28 1 -7 1 26 1 11 1 9 1 3 1 -6 1 -16 1 20 1 -16 1 -12 1 -8 1 -5 1 5 1 35 1 22 1 -12 1 -9 1 -22 1 -25 1 -17 1 9 1 12 1 26 1 16 1 -2 1 20 1 -10 1 -7 1 20 1 2 1 1 1 -1 1 25 1 -27 1 19 1 -7"/>
<path stroke="#d62728" d="M99 0l1 40 1 5 1 13 1 5 1 19 1 12 1 -3 1 29 1 -25 1 -34 1 -28 1 -18 1 43 1 -11 1 -16 1 -16 1 -19 1 1 1 38 1 -3 1 -15 1 50 1 -17 1 21 1 -14 1 -27 1 2 1 9 1 8 1 51 1 7 1 -14 1 -2 1 -7 1 1 1 -30 1 -3 1 -3 1 -6 1 -37 1 -13 1 -16 1 -42 1 30 1 20 1 20 1 -20 1 10 1 -20 1 26 1 -25 1 -1 1 24 1 5 1 18 1 -17 1 -9 1 9 1 19 1 -31 1 2 1 -57 1 -61 1 31 1 20 1 18 1 17 1 2 1 -31 1 18 1 2 1 17 1 26 1 -44 1 35 1 -31 1 10 1 -29 1 10 1 -51 1 -22 1 4 1 3 1 37 1 3 1 -42 1 2 1 26 1 -31 1 -22 1 45 1 46 1 -20 1 60 1 -6 1 66 1 18 1 -19 1 -11 1 -34 1 3 1 38 1 31 1 63 1 -10 1 1 1 -10 1 -54 1 -27 1 -19 1 -16 1 34 1 -7 1 -38 1 -38 1 9 1 -16 1 40 1 -51 1 12 1 -29 1 -3 1 29 1 -13 1 -25 1 14 1 -30 1 -29 1 21 1 -57 1 3 1 -59 1 24 1 -15 1 14 1 -28 1 -23 1 4 1 -5 1 61 1 -6 1 18 1 -17 1 -1 1 -51 1 -12 1 20 1 -13 1 5 1 18 1 36 1 17 1 14 1 -34 1 -45 1 -15 1 -27 1 -18 1 62 1 9 1 18 1 12 1 -31 1 23 1 26 1 23 1 -22 1 33 1 -31 1 2 1 3 1 -14 1 -11 1 -63 1 7 1 20 1 0 1 14 1 -18 1 -2 1 28 1 9 1 29 1 36 1 14 1 -6 1 29 1 -15 1 30 1 83 1 6 1 22 1 35 1 6 1 -16 1 19 1 -16 1 -6 1 31 1 -28"/>
<path stroke="#9467bd" d="M99 0l1 -4 1 -16 1 -12 1 18 1 -1 1 0 1 14 1 -1 1 -6 1 -12 1 -2 1 -8 1 -4 1 10 1 1 1 -34 1 14 1 -4 1 14 1 -19 1 5 1 -27 1 -12 1 -15 1 10 1 -3 1 13 1 23 1 -21 1 6 1 14 1 18 1 13 1 11 1 40 1 31 1 13 1 -27 1 18 1 -26 1 26 1 19 1 2 1 4 1 2 1 15 1 7 1 23 1 18 1 -23 1 12 1 -9 1 -22 1 -15 1 -8 1 -29 1 -2 1 0 1 -17 1 -33 1 3 1 -4 1 25 1 -11 1 26 1 11 1 3 1 11 1 -16 1 -31 1 2 1 -8 1 -1 1 -1 1 -18 1 8 1 -12 1 21 1 -7 1 -35 1 1 1 -21 1 18 1 -9 1 -5 1 -9 1 19 1 -39 1 -29 1 -30 1 22 1 -27 1 8 1 21 1 43 1 18 1 -4 1 33 1 32 1 15 1 11 1 20 1 13 1 -15 1 5 1 -5 1 13 1 6 1 -3 1 -47 1 19 1 -1 1 37 1 6 1 9 1 -7 1 32 1 2 1 0 1 9 1 9 1 -39 1 1 1 -25 1 25 1 12 1 18 1 35 1 9 1 -14 1 38 1 -27 1 2 1 -8 1 -23 1 9 1 -6 1 0 1 -7 1 -42 1 -9 1 -30 1 -32 1 -8 1 -20 1 25 1 -32 1 13 1 -5 1 -7 1 -31 1 -12 1 -4 1 8 1 -1 1 16 1 -30 1 -23 1 -2 1 8 1 40 1 -23 1 13 1 -10 1 4 1 10 1 9 1 -51 1 0 1 18 1 -20 1 13 1 -13 1 -7 1 31 1 -16 1 -21 1 21 1 -11 1 31 1 20 1 15 1 24 1 -14 1 -18 1 12 1 -15 1 17 1 -25 1 -4 1 -12 1 18 1 -32 1 10 1 23 1 3 1 -12 1 -30 1 -13 1 -3"/>
<path stroke="#8c564b" d="M99 0l1 24 1 13 1 3 1 24 1 24 1 0 1 -10 1 14 1 9 1 33 1 5 1 3 1 -9 1 11 1 -13 1 10 1 -6 1 11 1 13 1 5 1 -28 1 -4 1 5 1 -5 1 0 1 20 1 20 1 0 1 29 1 15 1 2 1 16 1 -9 1 -43 1 9 1 -25 1 -9 1 15 1 2 1 -24 1 -19 1 32 1 -6 1 -6 1 -30 1 0 1 -9 1 -24 1 -38 1 11 1 34 1 24 1 32 1 1 1 13 1 -23 1 -27 1 23 1 9 1 22 1 -11 1 10 1 -12 1 4 1 -12 1 -8 1 27 1 16 1 7 1 38 1 40 1 -15 1 -1 1 18 1 -5 1 -24 1 -13 1 1 1 6 1 13 1 -10 1 24 1 -13 1 -26 1 0 1 6 1 -24 1 -18 1 44 1 19 1 -12 1 -20 1 2 1 -32 1 2 1 -27 1 -15 1 -21 1 3 1 -6 1 15 1 -31 1 18 1 12 1 -16 1 -5 1 34 1 -11 1 -29 1 18 1 13 1 6 1 9 1 18 1 -16 1 4 1 -5 1 -2 1 -8 1 3 1 30 1 15 1 -11 1 -6 1 20 1 12 1 -22 1 -32 1 -31 1 10 1 14 1 25 1 -22 1 4 1 31 1 0 1 -17 1 -26 1 12 1 24 1 16 1 18 1 -13 1 5 1 24 1 11 1 -37 1 20 1 2 1 -12 1 -30 1 0 1 -2 1 1 1 -9 1 12 1 5 1 17 1 -6 1 0 1 6 1 -21 1 -27 1 -21 1 -28 1 26 1 1 1 -16 1 -1 1 5 1 7 1 -14 1 35 1 18 1 18 1 30 1 5 1 14 1 -6 1 15 1 6 1 4 1 15 1 -8 1 6 1 -19 1 -1 1 15 1 -6 1 2 1 17 1 11 1 7 1 -10 1 -26 1 -24 1 -33 1 1 1 -20 1 -18"/>
<path stroke="#e377c2" d="M99 0l1 3 1 8 1 1 1 5 1 1 1 4 1 5 1 -12 1 3 1 -8 1 -5 1 -5 1 -8 1 15 1 -4 1 12 1 -18 1 -8 1 -4 1 -4 1 -13 1 6 1 8 1 -20 1 -18 1 -6 1 1 1 -11 1 -1 1 20 1 11 1 5 1 -19 1 6 1 -2 1 18 1 -13 1 12 1 10 1 -4 1 -7 1 15 1 -12 1 -7 1 30 1 4 1 15 1 -1 1 6 1 6 1 -18 1 -17 1 2 1 -2 1 7 1 9 1 -6 1 -18 1 11 1 -6 1 -5 1 -4 1 3 1 -7 1 -1 1 9 1 2 1 -19 1 -1 1 -10 1 -3 1 -12 1 6 1 -6 1 -13 1 2 1 4 1 6 1 -16 1 18 1 -4 1 -10 1 -10 1 13 1 22 1 -6 1 -1 1 25 1 11 1 8 1 -6 1 -4 1 3 1 13 1 -6 1 -2 1 19 1 -7 1 2 1 13 1 2 1 6 1 -3 1 14 1 2 1 5 1 -16 1 6 1 -19 1 14 1 12 1 -3 1 -2 1 -7 1 -5 1 2 1 23 1 -3 1 -14 1 8 1 4 1 15 1 -10 1 0 1 -2 1 21 1 11 1 -20 1 -12 1 7 1 7 1 -12 1 4 1 11 1 -14 1 -13 1 9 1 6 1 -13 1 -9 1 -1 1 -11 1 5 1 7 1 2 1 -8 1 -6 1 -3 1 6 1 -9 1 18 1 -23 1 -3 1 -2 1 23 1 -15 1 18 1 11 1 1 1 3 1 -1 1 4 1 -8 1 2 1 -5 1 -7 1 -11 1 -7 1 10 1 -4 1 -9 1 5 1 22 1 -5 1 10 1 1 1 27 1 -15 1 -19 1 36 1 4 1 0 1 10 1 17 1 -3 1 -21 1 -4 1 -23 1 21 1 -7 1 12 1 11 1 10 1 -5 1 0 1 -11 1 -3 1 -9 1 3 1 -20"/>
<path stroke="#7f7f7f" d="M99 0l1 6 1 29 1 -37 1 -4 1 -4 1 -26 1 20 1 9 1 4 1 -14 1 16 1 -11 1 -5 1 22 1 17 1 -14 1 -3 1 -17 1 -21 1 -4 1 -28 1 22 1 -10 1 3 1 23 1 12 1 14 1 -7 1 3 1 -29 1 14 1 -16 1 -13 1 14 1 5 1 -3 1 -12 1 -19 1 24 1 34 1 -42 1 -14 1 -16 1 21 1 16 1 -5 1 34 1 -19 1 -13 1 -22 1 -23 1 24 1 -27 1 1 1 -36 1 14 1 18 1 33 1 30 1 -34 1 -6 1 -2 1 14 1 -21 1 -8 1 -43 1 -8 1 -4 1 -15 1 5 1 26 1 39 1 10 1 2 1 -14 1 -25 1 8 1 15 1 3 1 -7 1 -35 1 18 1 -10 1 2 1 18 1 5 1 0 1 -25 1 2 1 0 1 5 1 -4 1 0 1 19 1 -14 1 5 1 -9 1 -9 1 13 1 28 1 -22 1 -3 1 -18 1 11 1 -6 1 -7 1 -17 1 26 1 -29 1 -4 1 13 1 16 1 -5 1 3 1 36 1 -12 1 2 1 6 1 -12 1 -12 1 -4 1 7 1 -24 1 -6 1 9 1 -8 1 -22 1 19 1 18 1 -7 1 -43 1 -14 1 16 1 12 1 2 1 18 1 9 1 9 1 4 1 3 1 22 1 25 1 -5 1 29 1 3 1 4 1 24 1 -7 1 0 1 -3 1 -28 1 30 1 -13 1 44 1 -5 1 -22 1 -12 1 -1 1 27 1 -19 1 7 1 22 1 15 1 12 1 -16 1 -16 1 -9 1 10 1 -5 1 -19 1 7 1 5 1 -52 1 33 1 1 1 5 1 12 1 3 1 -12 1 -44 1 25 1 19 1 -10 1 -25 1 14 1 11 1 22 1 -5 1 8 1 29 1 22 1 -6 1 9 1 33 1 -12 1 28 1 37 1 11 1 -9 1 -2"/>
<path stroke="#bcbd22" d="M99 0l1 -22 1 16 1 18 1 2 1 6 1 -3 1 -18 1 3 1 25 1 2 1 -1 1 -9 1 -9 1 7 1 24 1 -17 1 -20 1 -29 1 21 1 5 1 8 1 -28 1 -19 1 1 1 -37 1 -16 1 19 1 -6 1 52 1 25 1 2 1 -15 1 -9 1 28 1 -31 1 1 1 -9 1 46 1 16 1 -7 1 7 1 -19 1 9 1 16 1 -23 1 17 1 -16 1 28 1 -14 1 37 1 -5 1 -8 1 10 1 -62 1 26 1 -5 1 13 1 -6 1 17 1 -23 1 -4 1 -13 1 -27 1 9 1 31 1 3 1 19 1 29 1 28 1 -15 1 -16 1 47 1 -28 1 33 1 3 1 47 1 -25 1 -8 1 -37 1 13 1 17 1 18 1 4 1 24 1 -3 1 -18 1 -61 1 4 1 -6 1 -1 1 -17 1 -9 1 -46 1 19 1 75 1 -29 1 -20 1 -13 1 7 1 9 1 47 1 39 1 -1 1 -21 1 31 1 -7 1 -13 1 -3 1 -31 1 12 1 6 1 -15 1 13 1 -1 1 -14 1 1 1 11 1 -10 1 -51 1 -13 1 -34 1 38 1 -34 1 28 1 -17 1 64 1 68 1 -23 1 -25 1 -4 1 -42 1 21 1 -3 1 -6 1 17 1 10 1 30 1 21 1 24 1 -24 1 -12 1 -1 1 -24 1 16 1 3 1 -32 1 -17 1 -17 1 8 1 25 1 45 1 -15 1 4 1 -4 1 17 1 11 1 16 1 -8 1 -26 1 -8 1 -3 1 -20 1 16 1 -50 1 8 1 31 1 -8 1 11 1 30 1 9 1 -6 1 -19 1 1 1 -27 1 -18 1 10 1 9 1 8 1 4 1 -48 1 11 1 -36 1 -15 1 12 1 -16 1 -1 1 -35 1 -4 1 37 1 -13 1 14 1 -4 1 -30 1 -21 1 -8 1 14 1 1 1 16 1 18 1 -3"/>
<path stroke="#17becf" d="M99 0l1 -6 1 -20 1 2 1 24 1 18 1 -30 1 -26 1 16 1 34 1 0 1 -34 1 22 1 -12 1 47 1 11 1 30 1 33 1 -18 1 1 1 -32 1 22 1 -40 1 10 1 -31 1 20 1 -15 1 61 1 -25 1 26 1 14 1 23 1 -6 1 -24 1 1 1 -31 1 -2 1 13 1 -36 1 19 1 27 1 -22 1 2 1 -25 1 -13 1 12 1 -12 1 10 1 -20 1 -18 1 -4 1 -31 1 28 1 20 1 46 1 -20 1 2 1 -17 1 -16 1 -11 1 -13 1 11 1 11 1 7 1 9 1 9 1 36 1 -27 1 -44 1 -8 1 -4 1 47 1 25 1 2 1 -33 1 7 1 -16 1 17 1 -43 1 2 1 -32 1 -18 1 -13 1 2 1 -1 1 -12 1 11 1 -49 1 -7 1 -7 1 -8 1 -9 1 6 1 -3 1 17 1 26 1 19 1 35 1 3 1 -20 1 10 1 -30 1 -46 1 44 1 -22 1 4 1 -51 1 -32 1 29 1 8 1 21 1 28 1 18 1 52 1 7 1 27 1 1 1 26 1 -5 1 -4 1 63 1 11 1 -34 1 -18 1 -6 1 4 1 -10 1 -15 1 46 1 14 1 -42 1 11 1 2 1 12 1 5 1 11 1 31 1 5 1 22 1 -8 1 -19 1 4 1 -7 1 28 1 22 1 27 1 0 1 -57 1 22 1 -2 1 43 1 15 1 -18 1 -44 1 -15 1 -43 1 -8 1 -4 1 46 1 6 1 11 1 18 1 -32 1 -12 1 -6 1 0 1 -19 1 10 1 -50 1 4 1 63 1 14 1 4 1 50 1 -53 1 20 1 0 1 9 1 -38 1 -11 1 -13 1 -32 1 11 1 -24 1 28 1 26 1 4 1 12 1 13 1 -9 1 -15 1 46 1 -37 1 -31 1 -11 1 8 1 3 1 29 1 0 1 41 1 -9"/>
<path stroke="#1f77b4" d="M99 0l1 27 1 2 1 13 1 -26 1 -3 1 0 1 12 1 18 1 1 1 -11 1 36 1 9 1 -1 1 1 1 28 1 -32 1 -6 1 31 1 -7 1 -21 1 21 1 23 1 13 1 -39 1 -19 1 -39 1 -24 1 -12 1 37 1 1 1 15 1 32 1 59 1 17 1 16 1 43 1 42 1 10 1 19 1 16 1 -26 1 -35 1 -15 1 -26 1 -47 1 19 1 -28 1 -30 1 -43 1 -28 1 19 1 -17 1 1 1 31 1 4 1 -19 1 0 1 1 1 -4 1 13 1 -9 1 20 1 2 1 -12 1 -28 1 4 1 -18 1 -16 1 -37 1 -19 1 8 1 24 1 -9 1 32 1 -20 1 5 1 32 1 -48 1 19 1 50 1 -52 1 -16 1 37 1 -25 1 17 1 39 1 -9 1 39 1 17 1 12 1 2 1 41 1 -18 1 -3 1 10 1 4 1 -34 1 16 1 -28 1 24 1 -46 1 0 1 -35 1 4 1 27 1 -17 1 36 1 -16 1 37 1 -23 1 19 1 1 1 14 1 -28 1 36 1 2 1 -28 1 25 1 17 1 -2 1 14 1 4 1 -6 1 -17 1 -11 1 -26 1 -5 1 2 1 0 1 10 1 -9 1 11 1 -4 1 1 1 -9 1 -8 1 30 1 -45 1 31 1 -23 1 26 1 -28 1 -2 1 4 1 -33 1 -5 1 -13 1 31 1 -17 1 5 1 -12 1 -24 1 14 1 -7 1 -3 1 -16 1 -52 1 -12 1 61 1 50 1 16 1 -8 1 -6 1 -13 1 -10 1 14 1 -47 1 13 1 -1 1 18 1 23 1 25 1 35 1 19 1 -4 1 -11 1 -9 1 -3 1 -5 1 -20 1 -13 1 42 1 -23 1 5 1 -10 1 2 1 11 1 -11 1 -9 1 -5 1 -10 1 5 1 37 1 23 1 -41 1 -17 1 14 1 -13 1 -8 1 -4"/>
<path stroke="#ff7f0e" d="M99 0l1 -7 1 -4 1 -2 1 1 1 -1 1 9 1 -3 1 -6 1 -22 1 4 1 -11 1 25 1 3 1 3 1 -30 1 17 1 12 1 11 1 2 1 -16 1 9 1 25 1 -9 1 -9 1 -28 1 22 1 -2 1 -8 1 -8 1 4 1 8 1 -20 1 17 1 9 1 -38 1 27 1 9 1 -23 1 22 1 -3 1 -5 1 -2 1 -26 1 -5 1 10 1 40 1 0 1 3 1 14 1 0 1 1 1 -12 1 15 1 -23 1 -10 1 8 1 13 1 33 1 22 1 21 1 6 1 -17 1 -1 1 21 1 0 1 22 1 -12 1 3 1 -22 1 5 1 -4 1 14 1 -34 1 -6 1 3 1 -3 1 10 1 13 1 0 1 -33 1 -30 1 -30 1 1 1 29 1 17 1 17 1 18 1 31 1 -18 1 -10 1 -47 1 1 1 47 1 -14 1 -28 1 6 1 -28 1 16 1 -8 1 18 1 -9 1 7 1 11 1 -6 1 -8 1 -15 1 -8 1 15 1 -24 1 -8 1 35 1 -2 1 -7 1 5 1 17 1 -17 1 -6 1 -6 1 -4 1 -23 1 8 1 -20 1 14 1 -6 1 -20 1 13 1 -7 1 9 1 19 1 21 1 0 1 20 1 -10 1 6 1 4 1 -10 1 -5 1 0 1 4 1 3 1 -14 1 22 1 -16 1 7 1 -25 1 -1 1 -8 1 17 1 -24 1 8 1 -5 1 7 1 12 1 -1 1 -9 1 -11 1 -50 1 -9 1 5 1 2 1 40 1 24 1 5 1 8 1 -15 1 10 1 0 1 -20 1 21 1 13 1 -26 1 -11 1 -5 1 -8 1 -5 1 22 1 -18 1 -13 1 -22 1 -10 1 4 1 -13 1 14 1 7 1 -7 1 12 1 -21 1 26 1 10 1 -4 1 10 1 -25 1 3 1 4 1 14 1 -21 1 -12 1 -6 1 -11 1 -1"/>
<path stroke="#2ca02c" d="M99 0l1 -7 1 -8 1 -36 1 15 1 28 1 16 1 -34 1 28 1 8 1 0 1 -23 1 -8 1 -1 1 24 1 14 1 7 1 -9 1 -1 1 34 1 18 1 10 1 2 1 -21 1 -50 1 -4 1 -38 1 -20 1 -15 1 -60 1 5 1 -39 1 -10 1 -13 1 1 1 -32 1 26 1 -15 1 54 1 -3 1 -14 1 -1 1 6 1 -12 1 11 1 26 1 3 1 34 1 28 1 19 1 8 1 12 1 -18 1 22 1 1 1 58 1 52 1 -26 1 7 1 -15 1 28 1 40 1 -1 1 -19 1 -8 1 -22 1 0 1 -43 1 8 1 -8 1 13 1 -27 1 8 1 7 1 -5 1 2 1 10 1 32 1 16 1 46 1 -22 1 2 1 -24 1 11 1 16 1 41 1 -15 1 -34 1 -16 1 -16 1 12 1 -35 1 22 1 21 1 33 1 19 1 -12 1 -11 1 21 1 -43 1 15 1 67 1 -39 1 -46 1 -41 1 5 1 47 1 77 1 24 1 -79 1 -9 1 16 1 -18 1 12 1 -2 1 38 1 -5 1 -16 1 34 1 22 1 10 1 -39 1 -36 1 9 1 -35 1 -25 1 28 1 17 1 20 1 -9 1 47 1 -36 1 19 1 2 1 -21 1 -40 1 26 1 4 1 59 1 -12 1 43 1 -21 1 -22 1 -18 1 -17 1 -12 1 2 1 32 1 -11 1 -8 1 -25 1 -48 1 -48 1 -11 1 32 1 32 1 26 1 7 1 -2 1 -8 1 5 1 38 1 -2 1 -2 1 -20 1 2 1 14 1 -37 1 7 1 17 1 37 1 -18 1 -25 1 23 1 -2 1 18 1 -29 1 21 1 -49 1 -34 1 -2 1 -1 1 2 1 -20 1 -6 1 -26 1 4 1 -21 1 31 1 -18 1 27 1 -3 1 23 1 -5 1 13 1 -46 1 -13 1 14 1 -12 1 -38 1 -18"/>
<path stroke="#d62728" d="M99 0l1 -18 1 0 1 9 1 8 1 2 1 9 1 -2 1 -14 1 -1 1 4 1 -3 1 5 1 -7 1 16 1 14 1 -4 1 -4 1 6 1 10 1 17 1 46 1 -3 1 -12 1 24 1 -8 1 -18 1 7 1 -12 1 -28 1 3 1 3 1 -17 1 -3 1 -20 1 12 1 -10 1 -7 1 -3 1 -7 1 7 1 23 1 -52 1 -15 1 3 1 -20 1 9 1 -11 1 -1 1 -8 1 23 1 -3 1 -28 1 -15 1 16 1 22 1 -10 1 -14 1 10 1 21 1 -10 1 20 1 26 1 30 1 -4 1 9 1 -24 1 -11 1 7 1 -5 1 2 1 -16 1 -18 1 15 1 -48 1 4 1 20 1 39 1 10 1 -51 1 11 1 13 1 6 1 -13 1 2 1 32 1 28 1 15 1 9 1 1 1 -26 1 -30 1 -20 1 6 1 10 1 22 1 15 1 18 1 -14 1 9 1 -44 1 -13 1 -6 1 5 1 0 1 1 1 27 1 -16 1 3 1 -31 1 -8 1 13 1 11 1 -7 1 22 1 3 1 -5 1 4 1 4 1 -16 1 8 1 -17 1 -17 1 20 1 4 1 1 1 -12 1 8 1 -6 1 5 1 -12 1 42 1 8 1 -15 1 -18 1 20 1 -4 1 9 1 9 1 -24 1 -6 1 29 1 11 1 -26 1 12 1 -34 1 -3 1 -12 1 11 1 31 1 -25 1 7 1 5 1 -10 1 21 1 43 1 32 1 -14 1 5 1 -16 1 9 1 7 1 -14 1 28 1 -20 1 1 1 28 1 15 1 17 1 -43 1 -3 1 -15 1 -16 1 2 1 -26 1 -21 1 33 1 -11 1 27 1 -40 1 -19 1 4 1 22 1 3 1 -16 1 8 1 11 1 -3 1 -10 1 12 1 3 1 -14 1 -2 1 -4 1 1 1 7 1 -6 1 24 1 -37 1 -36 1 32"/>
<path stroke="#9467bd" d="M99 0l1 0 1 -6 1 8 1 -2 1 -17 1 7 1 -5 1 7 1 6 1 3 1 4 1 5 1 10 1 -5 1 -24 1 -5 1 -12 1 15 1 13 1 14 1 -12 1 -13 1 -29 1 -13 1 -6 1 -19 1 -12 1 2 1 17 1 8 1 22 1 17 1 6 1 -16 1 3 1 13 1 5 1 -1 1 -22 1 -16 1 -9 1 27 1 -10 1 5 1 1 1 18 1 -15 1 8 1 5 1 -14 1 19 1 -6 1 -1 1 27 1 17 1 -51 1 -3 1 -4 1 -5 1 14 1 16 1 18 1 -25 1 8 1 -21 1 6 1 -6 1 3 1 5 1 13 1 -22 1 11 1 24 1 9 1 -1 1 -21 1 -7 1 -13 1 4 1 19 1 -20 1 -11 1 -18 1 10 1 1 1 -11 1 -9 1 9 1 -2 1 8 1 -1 1 -8 1 -19 1 18 1 -3 1 16 1 0 1 13 1 23 1 -15 1 8 1 27 1 -8 1 14 1 -3 1 -8 1 -27 1 21 1 -17 1 -19 1 20 1 -18 1 -23 1 -6 1 12 1 10 1 0 1 2 1 28 1 -7 1 -20 1 6 1 -3 1 7 1 16 1 1 1 -7 1 -12 1 -20 1 -36 1 2 1 -14 1 13 1 20 1 -5 1 -12 1 3 1 -19 1 -28 1 25 1 4 1 -15 1 -2 1 5 1 0 1 10 1 12 1 22 1 5 1 11 1 20 1 5 1 0 1 2 1 -9 1 -29 1 0 1 -8 1 1 1 21 1 -14 1 -20 1 16 1 11 1 34 1 -4 1 -21 1 -19 1 -4 1 2 1 -11 1 11 1 -8 1 -6 1 -5 1 3 1 5 1 19 1 -8 1 8 1 13 1 14 1 2 1 -9 1 -7 1 21 1 -23 1 2 1 2 1 -2 1 21 1 5 1 -9 1 17 1 23 1 10 1 5 1 -3 1 -19 1 -22"/>
<path stroke="#8c564b" d="M99 0l1 -7 1 1 1 -1 1 3 1 -12 1 -30 1 9 1 -1 1 -1 1 6 1 -22 1 -28 1 0 1 6 1 -1 1 1 1 21 1 17 1 4 1 -29 1 4 1 -15 1 6 1 20 1 4 1 -7 1 -1 1 4 1 14 1 -26 1 11 1 4 1 -19 1 -21 1 -18 1 26 1 6 1 -19 1 -20 1 33 1 0 1 -21 1 -3 1 -2 1 5 1 -17 1 5 1 -17 1 -19 1 13 1 5 1 10 1 4 1 -5 1 -2 1 -23 1 44 1 21 1 0 1 33 1 -1 1 -3 1 -38 1 -25 1 2 1 -6 1 -12 1 12 1 -4 1 19 1 -2 1 13 1 9 1 7 1 -12 1 13 1 4 1 8 1 11 1 16 1 15 1 -2 1 -8 1 -24 1 20 1 23 1 9 1 -11 1 2 1 -12 1 9 1 17 1 23 1 9 1 20 1 -7 1 6 1 0 1 -15 1 -6 1 13 1 -9 1 2 1 -3 1 15 1 4 1 13 1 -10 1 -7 1 17 1 -16 1 20 1 -18 1 -7 1 5 1 -11 1 -22 1 4 1 13 1 9 1 14 1 -16 1 -20 1 -32 1 -10 1 -27 1 -18 1 -12 1 -5 1 14 1 1 1 6 1 -46 1 4 1 -10 1 30 1 8 1 -3 1 9 1 4 1 2 1 7 1 28 1 -4 1 -30 1 18 1 16 1 -2 1 -14 1 -12 1 2 1 13 1 -13 1 -2 1 -21 1 -6 1 28 1 12 1 -16 1 25 1 30 1 20 1 -4 1 8 1 4 1 -11 1 13 1 2 1 -16 1 11 1 -1 1 38 1 -16 1 -9 1 1 1 -9 1 3 1 6 1 -14 1 2 1 -18 1 -2 1 -11 1 0 1 10 1 -7 1 -27 1 -5 1 2 1 -2 1 1 1 0 1 -8 1 -19 1 9 1 -1 1 1 1 -23 1 -9 1 -6"/>
<path stroke="#e377c2" d="M99 0l1 10 1 6 1 6 1 -15 1 -28 1 -17 1 31 1 12 1 4 1 10 1 47 1 -4 1 8 1 10 1 19 1 12 1 -23 1 -7 1 11 1 39 1 15 1 4 1 -31 1 -6 1 -6 1 -24 1 -10 1 -4 1 -1 1 19 1 6 1 29 1 -28 1 60 1 24 1 -21 1 37 1 18 1 -15 1 -15 1 1 1 -26 1 -3 1 5 1 8 1 -43 1 10 1 -11 1 -77 1 4 1 -36 1 37 1 -39 1 1 1 -59 1 1 1 8 1 -31 1 7 1 36 1 22 1 -5 1 -2 1 5 1 11 1 -60 1 8 1 -3 1 8 1 -25 1 8 1 19 1 15 1 -6 1 30 1 16 1 45 1 -17 1 -4 1 -27 1 13 1 23 1 -2 1 0 1 9 1 -4 1 20 1 -5 1 -9 1 -31 1 34 1 5 1 19 1 8 1 13 1 -44 1 28 1 3 1 -28 1 -66 1 -27 1 -13 1 -28 1 30 1 -37 1 -14 1 6 1 -62 1 28 1 24 1 -14 1 62 1 0 1 -22 1 10 1 25 1 19 1 -20 1 -7 1 6 1 -14 1 -23 1 25 1 -19 1 22 1 -6 1 3 1 27 1 2 1 -7 1 -27 1 -3 1 -2 1 16 1 -11 1 2 1 16 1 4 1 30 1 -24 1 12 1 -13 1 0 1 -18 1 32 1 13 1 6 1 -9 1 4 1 -49 1 -15 1 8 1 20 1 -38 1 52 1 23 1 36 1 -28 1 3 1 15 1 49 1 0 1 -34 1 12 1 -15 1 29 1 -51 1 11 1 -21 1 56 1 62 1 12 1 -2 1 8 1 -33 1 12 1 -1 1 -14 1 -13 1 24 1 -19 1 10 1 15 1 -31 1 4 1 6 1 -1 1 -2 1 -4 1 42 1 26 1 36 1 -20 1 -10 1 21 1 67 1 17 1 -12 1 -49 1 28"/>
<path stroke="#7f7f7f" d="M99 0l1 12 1 42 1 8 1 13 1 -12 1 -7 1 -12 1 -19 1 4 1 10 1 25 1 -23 1 -21 1 -13 1 7 1 25 1 36 1 9 1 20 1 -68 1 -20 1 10 1 19 1 -23 1 8 1 2 1 -28 1 -19 1 12 1 50 1 4 1 -34 1 11 1 -17 1 -30 1 24 1 39 1 -29 1 21 1 34 1 -11 1 -25 1 31 1 -11 1 13 1 -5 1 30 1 72 1 -2 1 -54 1 -18 1 -46 1 -11 1 -11 1 -15 1 -13 1 22 1 23 1 -25 1 -24 1 0 1 -1 1 -46 1 14 1 7 1 -20 1 -2 1 33 1 -63 1 -17 1 -15 1 15 1 42 1 62 1 11 1 4 1 42 1 -45 1 0 1 9 1 16 1 25 1 -19 1 61 1 -8 1 9 1 9 1 8 1 36 1 -61 1 27 1 30 1 -22 1 8 1 50 1 -2 1 16 1 -24 1 -2 1 -6 1 2 1 34 1 -15 1 -23 1 -20 1 15 1 17 1 -34 1 -47 1 -20 1 -24 1 35 1 -34 1 2 1 -45 1 49 1 16 1 -7 1 44 1 6 1 -4 1 64 1 5 1 6 1 7 1 -40 1 31 1 -20 1 -59 1 6 1 -49 1 -42 1 -62 1 37 1 50 1 -26 1 4 1 53 1 38 1 2 1 32 1 9 1 29 1 42 1 16 1 1 1 72 1 9 1 -11 1 18 1 -7 1 -8 1 -21 1 7 1 10 1 25 1 -29 1 15 1 -35 1 -13 1 16 1 -11 1 12 1 -11 1 16 1 4 1 62 1 -28 1 16 1 0 1 -33 1 -9 1 51 1 -32 1 15 1 -12 1 10 1 -25 1 -33 1 -12 1 33 1 -11 1 -22 1 -12 1 -30 1 -50 1 -13 1 27 1 5 1 1 1 9 1 -1 1 -35 1 -15 1 -23 1 15 1 -62 1 -17 1 -32 1 8"/>
<path stroke="#bcbd22" d="M99 0l1 30 1 -5 1 -25 1 4 1 15 1 -31 1 18 1 3 1 -11 1 44 1 -32 1 3 1 -21 1 -1 1 4 1 -20 1 23 1 -6 1 23 1 -12 1 19 1 26 1 49 1 7 1 -7 1 3 1 -45 1 -2 1 -20 1 -25 1 -9 1 14 1 -38 1 -5 1 1 1 33 1 -21 1 13 1 -12 1 25 1 -21 1 -5 1 -29 1 -40 1 -14 1 35 1 2 1 14 1 -44 1 16 1 48 1 6 1 -22 1 -16 1 21 1 -14 1 1 1 38 1 -28 1 14 1 -11 1 6 1 -63 1 15 1 -16 1 21 1 -11 1 -26 1 -24 1 44 1 -15 1 -4 1 -21 1 3 1 -18 1 32 1 -35 1 42 1 -9 1 16 1 -57 1 39 1 -17 1 -46 1 -3 1 -41 1 -25 1 14 1 26 1 30 1 -36 1 -23 1 27 1 -32 1 31 1 25 1 -19 1 7 1 21 1 -6 1 -13 1 -19 1 21 1 38 1 22 1 4 1 -23 1 7 1 -32 1 -37 1 30 1 -5 1 2 1 27 1 -19 1 5 1 12 1 -22 1 2 1 -16 1 26 1 -28 1 29 1 6 1 -44 1 -12 1 67 1 -6 1 -13 1 11 1 9 1 9 1 -29 1 29 1 7 1 26 1 2 1 48 1 5 1 -65 1 19 1 10 1 25 1 -13 1 12 1 -20 1 -3 1 7 1 17 1 -13 1 -6 1 34 1 38 1 -22 1 39 1 23 1 6 1 -34 1 -20 1 50 1 5 1 55 1 -43 1 -39 1 17 1 -3 1 -38 1 13 1 14 1 1 1 6 1 53 1 -14 1 -5 1 -17 1 -8 1 9 1 3 1 19 1 29 1 -1 1 22 1 -15 1 -20 1 -45 1 -15 1 14 1 48 1 2 1 4 1 -52 1 -27 1 -20 1 30 1 22 1 0 1 24 1 12 1 -13 1 -27"/>
<path stroke="#17becf" d="M99 0l1 -21 1 -63 1 4 1 20 1 -15 1 -17 1 15 1 -5 1 43 1 5 1 -12 1 48 1 -11 1 4 1 -51 1 18 1 66 1 9 1 -22 1 -41 1 -19 1 10 1 29 1 29 1 20 1 27 1 3 1 -29 1 19 1 20 1 36 1 31 1 51 1 -11 1 -52 1 39 1 -11 1 -21 1 -52 1 -6 1 -60 1 -31 1 2 1 -16 1 -29 1 1 1 -8 1 27 1 -4 1 -32 1 71 1 -39 1 2 1 27 1 -1 1 -74 1 -26 1 0 1 -7 1 49 1 61 1 -32 1 2 1 -22 1 44 1 -2 1 4 1 -17 1 -35 1 -47 1 -13 1 1 1 21 1 34 1 -39 1 -25 1 47 1 -27 1 11 1 -16 1 16 1 1 1 19 1 -25 1 53 1 18 1 -26 1 -15 1 10 1 -11 1 -46 1 -24 1 65 1 61 1 59 1 9 1 -26 1 15 1 -2 1 35 1 -62 1 9 1 -14 1 51 1 -31 1 -17 1 -5 1 -40 1 9 1 27 1 14 1 -19 1 -6 1 -41 1 51 1 38 1 -58 1 26 1 -33 1 -23 1 -18 1 -50 1 4 1 -47 1 1 1 74 1 -9 1 -37 1 -34 1 20 1 -10 1 4 1 6 1 50 1 -48 1 -17 1 17 1 20 1 -30 1 -6 1 21 1 -34 1 7 1 -12 1 -54 1 -52 1 6 1 23 1 5 1 4 1 70 1 -6 1 2 1 20 1 -19 1 65 1 -35 1 -14 1 21 1 -32 1 -21 1 -30 1 9 1 20 1 38 1 -11 1 7 1 64 1 -12 1 34 1 12 1 -10 1 -35 1 44 1 43 1 15 1 -12 1 -3 1 -18 1 32 1 32 1 -29 1 -51 1 -21 1 5 1 -29 1 60 1 32 1 16 1 -13 1 -59 1 21 1 22 1 -16 1 -35 1 31 1 -33 1 -36 1 8 1 -32"/>
<path stroke="#1f77b4" d="M99 0l1 0 1 -13 1 -11 1 5 1 3 1 4 1 3 1 7 1 10 1 -6 1 -2 1 0 1 -8 1 -4 1 23 1 14 1 -4 1 11 1 -11 1 -1 1 17 1 11 1 -32 1 -2 1 5 1 10 1 5 1 8 1 -13 1 5 1 26 1 11 1 -1 1 -6 1 -16 1 24 1 -4 1 -37 1 24 1 -18 1 0 1 -25 1 9 1 22 1 13 1 9 1 10 1 20 1 0 1 12 1 2 1 24 1 0 1 -2 1 2 1 -12 1 2 1 0 1 -20 1 -9 1 8 1 21 1 1 1 -14 1 -17 1 0 1 7 1 -3 1 -33 1 2 1 9 1 4 1 -26 1 9 1 9 1 -8 1 32 1 -9 1 0 1 -14 1 3 1 14 1 13 1 -12 1 -19 1 -5 1 -7 1 -3 1 -5 1 8 1 15 1 -11 1 -15 1 4 1 -3 1 -2 1 -16 1 -3 1 3 1 1 1 -2 1 12 1 20 1 14 1 -12 1 -18 1 1 1 3 1 8 1 -11 1 -13 1 3 1 23 1 6 1 14 1 -4 1 8 1 -2 1 14 1 -5 1 -18 1 4 1 -44 1 -38 1 -1 1 -22 1 36 1 -32 1 -3 1 32 1 0 1 -11 1 5 1 -31 1 -23 1 -5 1 5 1 26 1 -11 1 36 1 3 1 17 1 15 1 -3 1 11 1 8 1 -12 1 16 1 -25 1 2 1 -5 1 11 1 15 1 37 1 -16 1 -7 1 23 1 -32 1 12 1 9 1 1 1 23 1 -29 1 -18 1 -7 1 -14 1 3 1 6 1 -2 1 33 1 -6 1 -10 1 9 1 -8 1 -14 1 11 1 -18 1 4 1 -6 1 -5 1 47 1 -17 1 -25 1 9 1 9 1 8 1 -10 1 36 1 15 1 5 1 -7 1 1 1 13 1 5 1 -1 1 10 1 -10 1 20 1 25 1 -26"/>
<path stroke="#ff7f0e" d="M99 0l1 -5 1 47 1 -6 1 12 1 10 1 -13 1 -12 1 14 1 -11 1 46 1 -8 1 -17 1 -9 1 14 1 -18 1 -17 1 37 1 -20 1 -25 1 -22 1 -32 1 -15 1 -12 1 17 1 -1 1 -2 1 -16 1 -19 1 -2 1 20 1 38 1 14 1 10 1 19 1 11 1 14 1 -49 1 23 1 -10 1 -9 1 15 1 -45 1 -21 1 -38 1 -9 1 6 1 19 1 -6 1 -6 1 20 1 44 1 -16 1 57 1 0 1 -38 1 -8 1 -5 1 -21 1 26 1 9 1 9 1 44 1 18 1 46 1 31 1 -55 1 -23 1 -33 1 22 1 -2 1 17 1 -28 1 1 1 40 1 -21 1 -15 1 4 1 42 1 -24 1 -10 1 11 1 -5 1 -21 1 12 1 23 1 23 1 -4 1 -7 1 -18 1 -6 1 -27 1 -19 1 -3 1 28 1 -17 1 -15 1 10 1 -30 1 -3 1 -8 1 -14 1 33 1 10 1 53 1 -11 1 14 1 -43 1 22 1 -17 1 -9 1 -39 1 47 1 -28 1 -31 1 27 1 -41 1 -6 1 -1 1 19 1 5 1 -22 1 -37 1 -8 1 38 1 -24 1 0 1 9 1 -53 1 -8 1 2 1 -28 1 29 1 13 1 25 1 -43 1 -17 1 35 1 -1 1 -2 1 37 1 8 1 0 1 8 1 22 1 0 1 -44 1 -5 1 18 1 -34 1 -61 1 3 1 -3 1 22 1 40 1 -41 1 34 1 -23 1 -5 1 5 1 18 1 -23 1 -11 1 13 1 -12 1 -53 1 -15 1 -9 1 -4 1 26 1 0 1 -18 1 -28 1 -6 1 25 1 -15 1 48 1 -25 1 -16 1 1 1 34 1 -26 1 52 1 40 1 -33 1 -8 1 31 1 10 1 16 1 6 1 -37 1 -3 1 9 1 -21 1 -3 1 -37 1 13 1 3 1 -19 1 -17 1 34"/>
<path stroke="#2ca02c" d="M99 0l1 18 1 -16 1 -51 1 -13 1 -4 1 2 1 -4 1 -2 1 -16 1 -14 1 36 1 2 1 -10 1 1 1 49 1 -21 1 -46 1 31 1 -8 1 -20 1 -24 1 18 1 3 1 -29 1 -21 1 25 1 44 1 5 1 -45 1 28 1 -15 1 0 1 -28 1 20 1 -34 1 -19 1 -13 1 11 1 27 1 -5 1 -6 1 49 1 -59 1 19 1 29 1 15 1 43 1 -37 1 23 1 24 1 11 1 -23 1 -8 1 -8 1 -64 1 23 1 -2 1 -1 1 -51 1 -3 1 -12 1 -31 1 57 1 35 1 5 1 57 1 -1 1 53 1 28 1 -38 1 -25 1 -14 1 -14 1 76 1 -21 1 -36 1 20 1 -85 1 17 1 -33 1 53 1 -10 1 -73 1 9 1 -1 1 -37 1 39 1 45 1 24 1 -43 1 25 1 -11 1 17 1 -22 1 20 1 28 1 -65 1 1 1 -48 1 -8 1 -27 1 75 1 47 1 10 1 -6 1 -33 1 -23 1 3 1 12 1 -18 1 -24 1 -32 1 9 1 15 1 1 1 2 1 -12 1 -56 1 20 1 -18 1 4 1 44 1 -12 1 11 1 58 1 -42 1 15 1 1 1 2 1 10 1 27 1 28 1 -40 1 -14 1 -10 1 25 1 12 1 -38 1 35 1 -12 1 -12 1 -21 1 -64 1 -21 1 -80 1 -4 1 11 1 1 1 -2 1 -54 1 34 1 18 1 19 1 12 1 -18 1 -26 1 -5 1 56 1 9 1 38 1 33 1 36 1 -35 1 17 1 26 1 69 1 8 1 57 1 2 1 16 1 39 1 12 1 -29 1 -32 1 -29 1 26 1 -26 1 27 1 18 1 17 1 -6 1 -35 1 10 1 -29 1 28 1 10 1 -3 1 -48 1 -37 1 -9 1 19 1 57 1 -50 1 3 1 22 1 -1 1 40 1 17 1 -4 1 -1"/>
<path stroke="#d62728" d="M99 0l1 -24 1 2 1 62 1 -6 1 36 1 16 1 -8 1 10 1 22 1 -28 1 -7 1 -42 1 3 1 -12 1 22 1 31 1 -1 1 -6 1 -30 1 -23 1 12 1 -22 1 -9 1 5 1 10 1 30 1 13 1 52 1 75 1 -27 1 -9 1 50 1 -34 1 -61 1 -11 1 22 1 -13 1 -64 1 -12 1 5 1 51 1 -62 1 -60 1 -5 1 67 1 39 1 9 1 -11 1 -46 1 -23 1 23 1 26 1 42 1 11 1 -26 1 -48 1 -24 1 -30 1 2 1 -24 1 30 1 -47 1 4 1 29 1 36 1 -59 1 3 1 12 1 49 1 -7 1 5 1 -22 1 -11 1 -26 1 59 1 47 1 -46 1 -5 1 -37 1 27 1 5 1 -3 1 43 1 -19 1 -3 1 12 1 15 1 15 1 -42 1 -63 1 -24 1 4 1 -12 1 -7 1 43 1 -23 1 50 1 -43 1 -31 1 7 1 1 1 -16 1 40 1 13 1 -15 1 13 1 30 1 27 1 -8 1 -12 1 -33 1 23 1 4 1 5 1 25 1 15 1 -21 1 -13 1 16 1 -11 1 28 1 -2 1 19 1 -28 1 48 1 0 1 -55 1 45 1 21 1 43 1 20 1 -51 1 -21 1 31 1 20 1 19 1 24 1 -32 1 -9 1 -13 1 -28 1 16 1 -9 1 -2 1 -1 1 -94 1 -10 1 -16 1 -21 1 -29 1 -9 1 80 1 51 1 -25 1 18 1 20 1 15 1 -11 1 -31 1 68 1 29 1 -11 1 -18 1 34 1 -42 1 -14 1 2 1 -55 1 -5 1 -5 1 40 1 7 1 -7 1 33 1 -36 1 20 1 -27 1 -15 1 21 1 -25 1 14 1 -83 1 37 1 16 1 -45 1 -38 1 -45 1 -18 1 -11 1 53 1 5 1 -25 1 -42 1 10 1 13 1 -6 1 -3 1 6 1 9 1 3"/>
<path stroke="#9467bd" d="M99 0l1 0 1 1 1 -17 1 -8 1 12 1 3 1 3 1 -15 1 -27 1 -1 1 25 1 -5 1 -14 1 -6 1 -17 1 -6 1 3 1 -10 1 -13 1 -22 1 -14 1 -25 1 7 1 33 1 0 1 29 1 -29 1 -12 1 35 1 -19 1 -11 1 -41 1 -14 1 59 1 25 1 36 1 -29 1 22 1 37 1 43 1 -2 1 5 1 -7 1 24 1 -10 1 5 1 -8 1 8 1 -16 1 37 1 0 1 -16 1 -1 1 0 1 15 1 -32 1 30 1 20 1 -8 1 6 1 -43 1 17 1 17 1 -51 1 -1 1 6 1 32 1 11 1 23 1 22 1 17 1 -12 1 2 1 -3 1 -23 1 44 1 0 1 -22 1 4 1 -15 1 -3 1 -22 1 -9 1 30 1 -37 1 -15 1 32 1 21 1 -19 1 -42 1 17 1 -2 1 1 1 -33 1 2 1 1 1 12 1 9 1 46 1 -13 1 7 1 -20 1 0 1 -1 1 12 1 -12 1 -41 1 55 1 -28 1 9 1 -19 1 -48 1 41 1 17 1 -23 1 14 1 12 1 17 1 -1 1 -12 1 22 1 -58 1 3 1 -6 1 -14 1 17 1 -28 1 -2 1 -29 1 8 1 -10 1 33 1 -6 1 -24 1 4 1 13 1 -3 1 17 1 6 1 1 1 15 1 -15 1 8 1 12 1 -18 1 -1 1 44 1 -32 1 -6 1 -16 1 12 1 -9 1 12 1 -19 1 3 1 -33 1 22 1 -31 1 -4 1 26 1 -1 1 -2 1 -24 1 24 1 16 1 2 1 8 1 0 1 8 1 -7 1 32 1 5 1 -29 1 12 1 25 1 -3 1 -27 1 -20 1 -14 1 11 1 25 1 16 1 25 1 21 1 -17 1 -29 1 -49 1 40 1 -26 1 -7 1 -22 1 37 1 -8 1 7 1 34 1 -21 1 -18 1 -8 1 -29 1 -20"/>
<path stroke="#8c564b" d="M99 0l1 0 1 -6 1 0 1 14 1 8 1 -30 1 4 1 13 1 -13 1 4 1 -20 1 12 1 3 1 -10 1 10 1 -13 1 29 1 8 1 -3 1 -17 1 -2 1 -32 1 1 1 -36 1 10 1 -10 1 -15 1 23 1 -4 1 11 1 12 1 -13 1 30 1 -6 1 -38 1 2 1 -29 1 -14 1 2 1 -13 1 -1 1 -19 1 -12 1 -29 1 59 1 26 1 -43 1 21 1 8 1 -10 1 19 1 8 1 -2 1 -14 1 -52 1 27 1 4 1 -45 1 40 1 30 1 9 1 8 1 10 1 -4 1 -13 1 -10 1 -32 1 -7 1 -24 1 9 1 -6 1 -12 1 5 1 7 1 -4 1 14 1 -25 1 9 1 16 1 6 1 5 1 6 1 -28 1 10 1 20 1 12 1 14 1 -14 1 -9 1 6 1 -13 1 11 1 -20 1 -2 1 -13 1 -16 1 -4 1 2 1 38 1 -7 1 -13 1 24 1 -5 1 -1 1 4 1 34 1 -3 1 -30 1 -17 1 -40 1 -26 1 24 1 -28 1 -1 1 19 1 -11 1 17 1 16 1 20 1 25 1 5 1 -9 1 25 1 -46 1 -37 1 -11 1 41 1 -21 1 -5 1 -13 1 5 1 -17 1 9 1 -8 1 29 1 -26 1 -35 1 9 1 10 1 -28 1 32 1 20 1 17 1 -5 1 35 1 7 1 10 1 -4 1 -17 1 1 1 9 1 25 1 -1 1 0 1 -3 1 -14 1 47 1 -9 1 -7 1 -9 1 -4 1 1 1 12 1 0 1 14 1 -22 1 14 1 -22 1 -1 1 20 1 -13 1 32 1 -46 1 -33 1 2 1 29 1 27 1 -2 1 -3 1 -12 1 13 1 18 1 8 1 -14 1 -17 1 -6 1 23 1 3 1 0 1 -6 1 23 1 3 1 7 1 49 1 -35 1 17 1 -24 1 47 1 -6 1 -1"/>
<path stroke="#e377c2" d="M99 0l1 36 1 -3 1 16 1 10 1 1 1 -3 1 18 1 5 1 12 1 -12 1 -8 1 0 1 50 1 14 1 20 1 21 1 -25 1 23 1 6 1 -11 1 -56 1 29 1 -7 1 2 1 -14 1 -12 1 -12 1 -11 1 32 1 -4 1 -7 1 13 1 26 1 9 1 -15 1 18 1 -46 1 37 1 11 1 50 1 -41 1 -3 1 -1 1 -43 1 32 1 -34 1 43 1 -1 1 32 1 43 1 -24 1 17 1 11 1 -40 1 -26 1 -8 1 9 1 6 1 -25 1 2 1 -15 1 10 1 39 1 12 1 16 1 32 1 -31 1 -3 1 42 1 -19 1 -17 1 44 1 28 1 -54 1 42 1 -28 1 10 1 -45 1 -15 1 -26 1 20 1 -24 1 17 1 -26 1 -41 1 35 1 23 1 -4 1 -1 1 -33 1 10 1 -5 1 14 1 6 1 32 1 -23 1 34 1 20 1 -17 1 -43 1 -36 1 27 1 53 1 23 1 -3 1 -1 1 -12 1 -53 1 -57 1 -5 1 16 1 -14 1 39 1 -40 1 -4 1 15 1 32 1 7 1 43 1 -72 1 -8 1 15 1 -25 1 -3 1 21 1 40 1 29 1 -47 1 -3 1 -25 1 27 1 10 1 -4 1 -1 1 -70 1 2 1 -24 1 -50 1 -16 1 50 1 23 1 17 1 38 1 -5 1 -52 1 -44 1 23 1 -24 1 5 1 -40 1 -30 1 37 1 5 1 -12 1 -19 1 -9 1 40 1 9 1 -7 1 33 1 -21 1 -46 1 -26 1 9 1 13 1 -6 1 25 1 14 1 23 1 15 1 40 1 13 1 -4 1 8 1 -34 1 -15 1 -8 1 -60 1 -22 1 -3 1 -1 1 10 1 -32 1 18 1 6 1 -28 1 100 1 -43 1 -39 1 -3 1 9 1 -44 1 -25 1 25 1 8 1 -9 1 26 1 -6 1 -38 1 -2"/>
<path stroke="#7f7f7f" d="M99 0l1 -10 1 -1 1 3 1 4 1 31 1 -12 1 1 1 18 1 26 1 18 1 -24 1 6 1 16 1 14 1 10 1 16 1 30 1 -17 1 26 1 11 1 -46 1 -2 1 -16 1 24 1 -35 1 -26 1 -3 1 29 1 19 1 41 1 -7 1 -13 1 20 1 -17 1 -32 1 -2 1 17 1 4 1 -34 1 6 1 35 1 -25 1 26 1 -57 1 12 1 -29 1 12 1 0 1 26 1 1 1 16 1 28 1 -4 1 7 1 -7 1 -12 1 32 1 -6 1 32 1 44 1 29 1 -21 1 -15 1 -33 1 -13 1 5 1 -10 1 23 1 -15 1 -26 1 -26 1 6 1 15 1 -18 1 6 1 12 1 -10 1 40 1 20 1 3 1 -4 1 -16 1 -67 1 1 1 34 1 14 1 -1 1 -41 1 -4 1 17 1 -20 1 -4 1 -8 1 -6 1 -31 1 -8 1 63 1 24 1 -36 1 -14 1 21 1 -4 1 -6 1 -4 1 6 1 13 1 -16 1 -2 1 -11 1 -25 1 -23 1 -39 1 -10 1 -6 1 30 1 -2 1 9 1 -11 1 18 1 -28 1 -12 1 -26 1 36 1 24 1 -8 1 12 1 -13 1 -26 1 11 1 -1 1 -7 1 -33 1 27 1 -32 1 23 1 -35 1 -40 1 8 1 2 1 -38 1 -9 1 -2 1 27 1 16 1 -16 1 14 1 0 1 39 1 24 1 16 1 -3 1 17 1 26 1 -4 1 -20 1 0 1 -3 1 -11 1 -16 1 -3 1 -28 1 -29 1 -3 1 1 1 -1 1 26 1 -30 1 5 1 -13 1 4 1 3 1 20 1 -9 1 15 1 6 1 -17 1 36 1 27 1 -31 1 -9 1 12 1 28 1 8 1 -11 1 3 1 5 1 -6 1 41 1 30 1 -1 1 -13 1 -30 1 3 1 6 1 5 1 -25 1 0 1 -30 1 10 1 19"/>
<path stroke="#bcbd22" d="M99 0l1 7 1 8 1 3 1 1 1 -9 1 -10 1 15 1 7 1 21 1 -13 1 2 1 -28 1 5 1 -9 1 25 1 -4 1 -16 1 4 1 5 1 -11 1 -14 1 -9 1 7 1 -10 1 -16 1 -3 1 23 1 -5 1 17 1 8 1 -19 1 -2 1 -25 1 8 1 -14 1 -1 1 0 1 1 1 0 1 -46 1 14 1 -7 1 12 1 -5 1 -15 1 -7 1 -1 1 -20 1 -12 1 -4 1 14 1 7 1 -4 1 0 1 4 1 -3 1 8 1 -16 1 17 1 -6 1 4 1 11 1 0 1 11 1 3 1 5 1 16 1 -1 1 6 1 3 1 2 1 4 1 -4 1 -5 1 14 1 3 1 -14 1 4 1 -2 1 -5 1 -8 1 4 1 1 1 -13 1 1 1 -24 1 3 1 12 1 22 1 29 1 11 1 1 1 24 1 1 1 3 1 5 1 -14 1 2 1 14 1 0 1 -4 1 -27 1 -18 1 16 1 5 1 16 1 -4 1 -10 1 4 1 -8 1 -6 1 15 1 14 1 -9 1 7 1 8 1 8 1 7 1 10 1 -10 1 -23 1 -4 1 4 1 18 1 -12 1 -3 1 8 1 -24 1 -22 1 24 1 -11 1 -3 1 3 1 16 1 -5 1 -6 1 7 1 1 1 -21 1 -14 1 4 1 6 1 6 1 -1 1 -4 1 -10 1 -5 1 12 1 6 1 15 1 11 1 -3 1 -2 1 -17 1 22 1 -15 1 18 1 3 1 10 1 8 1 -10 1 -5 1 -2 1 -14 1 15 1 16 1 24 1 3 1 -37 1 -5 1 4 1 -22 1 8 1 16 1 -2 1 4 1 -4 1 21 1 -7 1 -21 1 -3 1 9 1 -11 1 -1 1 1 1 -3 1 -4 1 2 1 -29 1 -10 1 -13 1 -11 1 -14 1 11 1 2 1 17 1 -5 1 -5 1 3 1 -25"/>
<path stroke="#17becf" d="M99 0l1 34 1 -1 1 7 1 18 1 -4 1 -6 1 5 1 -11 1 -27 1 18 1 -20 1 3 1 13 1 7 1 3 1 -32 1 18 1 33 1 -19 1 -17 1 10 1 -15 1 30 1 26 1 10 1 -14 1 19 1 -29 1 -31 1 -31 1 -28 1 -37 1 -30 1 3 1 2 1 -1 1 2 1 -3 1 5 1 -10 1 43 1 -28 1 -5 1 1 1 -3 1 -5 1 7 1 8 1 14 1 6 1 40 1 31 1 -17 1 -6 1 15 1 -25 1 -39 1 14 1 -20 1 -23 1 -72 1 19 1 17 1 44 1 -6 1 20 1 -1 1 -49 1 13 1 -30 1 -32 1 26 1 42 1 28 1 15 1 7 1 -30 1 -12 1 49 1 12 1 35 1 77 1 -37 1 3 1 34 1 20 1 24 1 -15 1 20 1 19 1 -1 1 -34 1 -21 1 -15 1 17 1 -17 1 8 1 -29 1 26 1 -32 1 -7 1 -49 1 -10 1 -39 1 -19 1 -5 1 35 1 4 1 -22 1 21 1 -43 1 -14 1 -56 1 22 1 7 1 26 1 31 1 -47 1 71 1 4 1 21 1 24 1 -17 1 -41 1 33 1 -14 1 46 1 1 1 -69 1 66 1 15 1 5 1 -36 1 5 1 -25 1 -3 1 -39 1 21 1 -28 1 30 1 -14 1 -26 1 -36 1 49 1 51 1 -21 1 -3 1 34 1 1 1 0 1 -12 1 25 1 33 1 33 1 23 1 15 1 -7 1 -1 1 -11 1 32 1 -40 1 -5 1 0 1 -36 1 7 1 7 1 26 1 7 1 2 1 -35 1 32 1 -28 1 -5 1 -5 1 3 1 -6 1 -14 1 4 1 48 1 2 1 -21 1 39 1 32 1 45 1 8 1 -21 1 -30 1 20 1 65 1 -50 1 24 1 -3 1 14 1 -34 1 40 1 73 1 -38 1 -8 1 -51 1 -33"/>
<path stroke="#1f77b4" d="M99 0l1 4 1 23 1 32 1 -6 1 -14 1 -10 1 50 1 18 1 -5 1 -9 1 -24 1 24 1 12 1 -37 1 3 1 12 1 2 1 -16 1 -21 1 32 1 7 1 13 1 37 1 41 1 -2 1 31 1 41 1 -21 1 9 1 16 1 -35 1 -11 1 -15 1 -2 1 -6 1 6 1 -3 1 -20 1 0 1 -22 1 -35 1 -27 1 -18 1 -21 1 -50 1 56 1 -40 1 4 1 0 1 30 1 8 1 -38 1 -45 1 44 1 31 1 -29 1 -56 1 -19 1 -1 1 -3 1 -23 1 66 1 -9 1 -12 1 42 1 -5 1 29 1 -35 1 12 1 45 1 12 1 -28 1 3 1 2 1 22 1 -9 1 15 1 24 1 -1 1 8 1 -24 1 -4 1 40 1 4 1 -36 1 80 1 -42 1 35 1 20 1 -40 1 2 1 -4 1 17 1 -28 1 12 1 -20 1 -31 1 -22 1 -8 1 -27 1 -48 1 -9 1 -29 1 -14 1 -22 1 -23 1 28 1 5 1 1 1 -16 1 25 1 -14 1 16 1 -35 1 -5 1 -21 1 45 1 -9 1 46 1 28 1 24 1 -45 1 -79 1 5 1 -60 1 12 1 -2 1 -19 1 -15 1 -28 1 11 1 35 1 -4 1 -52 1 38 1 31 1 4 1 15 1 38 1 -6 1 -56 1 -38 1 -21 1 6 1 51 1 -37 1 27 1 -17 1 -2 1 -45 1 -4 1 -13 1 25 1 5 1 7 1 56 1 -7 1 4 1 -44 1 11 1 5 1 -48 1 -2 1 25 1 -2 1 30 1 -30 1 -2 1 38 1 7 1 40 1 -22 1 -21 1 -12 1 40 1 22 1 5 1 13 1 -22 1 10 1 -1 1 -10 1 77 1 8 1 -30 1 -18 1 50 1 -13 1 -41 1 -14 1 5 1 -42 1 -7 1 3 1 43 1 34 1 19 1 -40 1 -14 1 82"/>
<path stroke="#ff7f0e" d="M99 0l1 4 1 1 1 20 1 -20 1 -7 1 12 1 1 1 32 1 -17 1 3 1 8 1 36 1 -19 1 6 1 -3 1 21 1 -15 1 8 1 1 1 23 1 32 1 28 1 21 1 15 1 -4 1 -14 1 -2 1 20 1 -5 1 18 1 -12 1 17 1 38 1 -5 1 -4 1 -26 1 79 1 -13 1 33 1 -50 1 3 1 7 1 -19 1 -2 1 -21 1 -38 1 29 1 14 1 -25 1 -22 1 -18 1 5 1 3 1 30 1 -13 1 8 1 -9 1 -7 1 -14 1 -12 1 -17 1 -7 1 -26 1 8 1 -11 1 -3 1 3 1 41 1 16 1 -38 1 -41 1 -4 1 -5 1 -20 1 -14 1 8 1 10 1 -20 1 19 1 34 1 20 1 4 1 -4 1 -17 1 9 1 5 1 27 1 3 1 -2 1 13 1 11 1 -38 1 10 1 -76 1 0 1 -18 1 -3 1 11 1 3 1 -11 1 -6 1 8 1 30 1 26 1 13 1 -31 1 31 1 31 1 47 1 10 1 3 1 5 1 2 1 10 1 -21 1 -23 1 16 1 8 1 5 1 -34 1 -16 1 9 1 6 1 -27 1 17 1 7 1 22 1 8 1 11 1 -21 1 0 1 12 1 -21 1 -6 1 -8 1 2 1 -2 1 13 1 -48 1 5 1 15 1 14 1 -27 1 29 1 1 1 24 1 -20 1 6 1 -17 1 14 1 2 1 -34 1 -12 1 -29 1 -4 1 17 1 -8 1 23 1 1 1 70 1 -1 1 -8 1 -13 1 -4 1 69 1 33 1 -1 1 -34 1 -43 1 -11 1 -22 1 -12 1 3 1 22 1 -37 1 -37 1 -47 1 -48 1 13 1 -2 1 -19 1 -2 1 22 1 24 1 -16 1 -64 1 17 1 16 1 -34 1 -7 1 9 1 -32 1 -33 1 -19 1 16 1 38 1 30 1 -1 1 -33 1 6"/>
<path stroke="#2ca02c" d="M99 0l1 18 1 9 1 -14 1 -4 1 -4 1 -39 1 -22 1 -18 1 -12 1 -24 1 -13 1 -27 1 -6 1 29 1 13 1 16 1 -26 1 28 1 2 1 5 1 -18 1 -17 1 51 1 -33 1 3 1 -4 1 -19 1 -33 1 -11 1 5 1 -6 1 -7 1 18 1 -20 1 25 1 26 1 20 1 28 1 -15 1 29 1 -25 1 -6 1 7 1 70 1 -14 1 -6 1 -13 1 -4 1 33 1 8 1 10 1 9 1 2 1 -12 1 -6 1 -41 1 8 1 10 1 27 1 -18 1 -8 1 2 1 24 1 28 1 11 1 -13 1 -54 1 22 1 -1 1 7 1 -36 1 1 1 -6 1 -16 1 -57 1 11 1 41 1 -31 1 -5 1 5 1 -21 1 32 1 -26 1 -16 1 9 1 -15 1 37 1 -19 1 4 1 -18 1 32 1 -66 1 16 1 -17 1 7 1 36 1 33 1 9 1 -32 1 20 1 1 1 -21 1 42 1 -35 1 42 1 9 1 -22 1 -19 1 -18 1 -31 1 18 1 10 1 -38 1 -2 1 -15 1 -2 1 -9 1 -9 1 -8 1 -18 1 18 1 -19 1 -49 1 11 1 42 1 26 1 1 1 36 1 -41 1 -7 1 23 1 -2 1 22 1 32 1 5 1 -32 1 29 1 18 1 19 1 39 1 -24 1 9 1 6 1 4 1 7 1 31 1 -13 1 7 1 -45 1 12 1 -26 1 10 1 7 1 -8 1 -20 1 -36 1 -25 1 31 1 -28 1 19 1 -18 1 1 1 24 1 14 1 28 1 -7 1 28 1 10 1 27 1 37 1 -15 1 -24 1 -11 1 13 1 -16 1 27 1 10 1 5 1 -16 1 -38 1 -9 1 -16 1 -20 1 -30 1 32 1 11 1 -20 1 13 1 4 1 -1 1 -6 1 -62 1 0 1 -22 1 49 1 -6 1 10 1 12 1 35 1 -6"/>
<path stroke="#d62728" d="M99 0l1 15 1 -9 1 11 1 -18 1 1 1 21 1 8 1 6 1 -13 1 12 1 -9 1 -25 1 -19 1 -3 1 11 1 11 1 4 1 -6 1 -29 1 14 1 -17 1 33 1 51 1 32 1 -31 1 6 1 9 1 -52 1 -17 1 -24 1 -52 1 -20 1 -8 1 4 1 -24 1 42 1 -30 1 7 1 28 1 -1 1 17 1 -21 1 7 1 -24 1 -30 1 -10 1 6 1 3 1 18 1 -4 1 21 1 -26 1 24 1 -43 1 -28 1 -11 1 -22 1 50 1 9 1 10 1 -1 1 6 1 2 1 0 1 -9 1 23 1 6 1 -6 1 18 1 -2 1 5 1 17 1 -22 1 -37 1 13 1 14 1 50 1 -14 1 29 1 -46 1 14 1 5 1 -24 1 -14 1 19 1 -29 1 46 1 68 1 7 1 3 1 10 1 -18 1 6 1 -10 1 25 1 18 1 24 1 15 1 -7 1 0 1 -24 1 0 1 38 1 43 1 -12 1 -28 1 -25 1 5 1 3 1 -5 1 -44 1 -11 1 -17 1 16 1 1 1 -6 1 -7 1 -14 1 -11 1 15 1 16 1 48 1 51 1 -32 1 -16 1 8 1 65 1 -28 1 22 1 -3 1 32 1 5 1 -24 1 -28 1 12 1 -41 1 -9 1 -5 1 42 1 9 1 5 1 47 1 -17 1 -18 1 -11 1 23 1 -11 1 -3 1 -29 1 -18 1 -7 1 -25 1 8 1 11 1 -6 1 -15 1 23 1 -8 1 15 1 3 1 36 1 -21 1 -11 1 -13 1 18 1 -25 1 -19 1 19 1 -22 1 2 1 -16 1 37 1 -90 1 -1 1 -4 1 27 1 29 1 -11 1 8 1 -6 1 3 1 15 1 27 1 5 1 -59 1 20 1 -24 1 -2 1 9 1 17 1 4 1 -19 1 7 1 27 1 6 1 -40 1 -17 1 -9 1 13 1 -18"/>
<path stroke="#7a3a30" d="M0 -0.8H99"/>
<path stroke="#cc1515" d="M0 0H99"/>
<path stroke="#cc1515" d="M0 0H99"/>
<path stroke="#cc1515" d="M0 0H99"/></g></g>
<g class="ln" clip-path="url(#c2)"><g transform="translate(768.20 296.70) scale(1.2803 0.5000)" fill="none" stroke-width="2.00" stroke-linejoin="round" stroke-linecap="butt"><path stroke="#1f77b4" d="M199 0l1 46 1 -21 1 47 1 -5 1 -14 1 32 1 3 1 -27 1 -27 1 2 1 27 1 22 1 39 1 -19 1 -13 1 30 1 -44 1 17 1 21 1 11 1 -9 1 -15 1 6 1 7 1 13 1 11 1 -8 1 28 1 -9 1 18 1 -43 1 9 1 -34 1 -2 1 -15 1 14 1 28 1 31 1 -11 1 38 1 41 1 -11 1 27 1 -18 1 -18 1 -16 1 18 1 -1 1 3 1 -10 1 32 1 6 1 -4 1 -22 1 48 1 2 1 -20 1 5 1 -3 1 -7 1 -13 1 -1 1 -3 1 12 1 4 1 -6 1 -27 1 25 1 -6 1 40 1 -20 1 26 1 -17 1 1 1 3 1 -46 1 31 1 16 1 -48 1 20 1 5 1 -21 1 48 1 -17 1 14 1 -14 1 4 1 7 1 24 1 -11 1 0 1 34 1 -32 1 28 1 2 1 11 1 -12 1 19 1 -4 1 -6"/>
<path stroke="#ff7f0e" d="M199 0l1 -40 1 31 1 -7 1 19 1 -28 1 14 1 4 1 12 1 22 1 -27 1 15 1 2 1 -40 1 25 1 -23 1 -5 1 9 1 26 1 -11 1 -5 1 0 1 17 1 -3 1 16 1 29 1 -12 1 7 1 -76 1 17 1 14 1 27 1 -44 1 34 1 -17 1 1 1 1 1 29 1 -43 1 -11 1 28 1 -34 1 5 1 -15 1 6 1 -9 1 -14 1 9 1 0 1 17 1 -26 1 7 1 14 1 -19 1 -15 1 28 1 -31 1 -4 1 22 1 5 1 -20 1 20 1 11 1 -8 1 -55 1 11 1 -11 1 30 1 -8 1 -12 1 15 1 16 1 8 1 4 1 8 1 11 1 11 1 17 1 2 1 -28 1 8 1 3 1 -2 1 -15 1 10 1 7 1 -16 1 -6 1 -26 1 10 1 -14 1 27 1 -34 1 34 1 -16 1 44 1 -25 1 -8 1 -18 1 -26 1 22"/>
<path stroke="#2ca02c" d="M199 0l1 -10 1 27 1 22 1 -27 1 22 1 51 1 -44 1 -3 1 15 1 0 1 16 1 17 1 2 1 -9 1 -1 1 -3 1 23 1 -4 1 6 1 -13 1 -19 1 9 1 -47 1 -3 1 -43 1 37 1 -11 1 15 1 -13 1 5 1 -7 1 -16 1 8 1 3 1 19 1 12 1 -32 1 10 1 -22 1 22 1 -18 1 -18 1 -2 1 18 1 7 1 -11 1 -13 1 43 1 -8 1 22 1 -5 1 13 1 -38 1 4 1 16 1 -18 1 23 1 -3 1 -9 1 -3 1 9 1 -3 1 -5 1 -16 1 27 1 -9 1 4 1 -23 1 -14 1 0 1 18 1 -7 1 -24 1 11 1 -23 1 -2 1 -13 1 4 1 11 1 -20 1 1 1 -4 1 -13 1 17 1 -1 1 12 1 -18 1 19 1 12 1 28 1 -4 1 9 1 -39 1 21 1 -8 1 5 1 -8 1 -29 1 21 1 -27"/>
<path stroke="#d62728" d="M199 0l1 48 1 25 1 -19 1 8 1 11 1 12 1 -1 1 30 1 -17 1 1 1 -19 1 20 1 6 1 5 1 1 1 -12 1 -18 1 1 1 10 1 3 1 -28 1 35 1 -9 1 6 1 17 1 -34 1 -4 1 16 1 -19 1 2 1 39 1 -32 1 -16 1 12 1 2 1 -9 1 2 1 17 1 -6 1 9 1 14 1 -5 1 -18 1 7 1 34 1 -7 1 -18 1 5 1 -5 1 -18 1 -8 1 5 1 -8 1 0 1 17 1 42 1 -8 1 -40 1 -34 1 22 1 -31 1 22 1 0 1 9 1 17 1 -28 1 -12 1 22 1 17 1 22 1 -43 1 66 1 -24 1 3 1 25 1 15 1 1 1 -22 1 -24 1 33 1 -27 1 6 1 -15 1 2 1 14 1 -20 1 -36 1 32 1 7 1 24 1 12 1 -17 1 9 1 7 1 -13 1 -9 1 26 1 -15 1 -4 1 20"/>
<path stroke="#9467bd" d="M199 0l1 -26 1 -39 1 1 1 24 1 23 1 44 1 42 1 -24 1 12 1 11 1 17 1 -8 1 13 1 -10 1 0 1 3 1 -9 1 -17 1 -1 1 -4 1 2 1 -20 1 4 1 -23 1 31 1 -33 1 6 1 -9 1 13 1 -47 1 26 1 10 1 17 1 -16 1 6 1 -17 1 -33 1 14 1 -25 1 1 1 24 1 1 1 17 1 -7 1 20 1 -7 1 1 1 -9 1 26 1 19 1 1 1 7 1 -19 1 12 1 -2 1 5 1 -7 1 3 1 -8 1 -20 1 -3 1 -23 1 10 1 -8 1 8 1 -49 1 -1 1 19 1 0 1 -10 1 -6 1 -16 1 2 1 5 1 2 1 -8 1 -30 1 13 1 -13 1 3 1 0 1 -19 1 -8 1 -9 1 23 1 -8 1 12 1 -14 1 5 1 -7 1 20 1 1 1 -3 1 -12 1 -5 1 24 1 -19 1 54 1 -11 1 -6"/>
<path stroke="#8c564b" d="M199 0l1 -42 1 12 1 -14 1 45 1 24 1 -34 1 7 1 -20 1 -5 1 -5 1 28 1 -22 1 -23 1 -8 1 -3 1 -27 1 -1 1 -1 1 2 1 2 1 -23 1 -15 1 -19 1 1 1 -33 1 35 1 7 1 -8 1 39 1 21 1 -12 1 -1 1 -35 1 10 1 -29 1 1 1 -31 1 19 1 23 1 3 1 -6 1 -15 1 3 1 6 1 1 1 -28 1 -2 1 -13 1 -18 1 -7 1 10 1 22 1 -3 1 16 1 5 1 -23 1 8 1 -51 1 19 1 24 1 7 1 4 1 -20 1 13 1 16 1 3 1 -19 1 -4 1 -23 1 -8 1 46 1 -16 1 3 1 7 1 -1 1 -2 1 -15 1 -9 1 -10 1 -14 1 -20 1 17 1 8 1 -10 1 15 1 4 1 -8 1 -25 1 5 1 -8 1 34 1 -33 1 47 1 -8 1 -7 1 5 1 -14 1 -3 1 -1 1 -13"/>
<path stroke="#e377c2" d="M199 0l1 -25 1 -19 1 25 1 -7 1 -5 1 -27 1 -10 1 8 1 -5 1 -31 1 7 1 -42 1 21 1 -38 1 27 1 -19 1 21 1 18 1 -18 1 -13 1 42 1 -17 1 -4 1 4 1 39 1 -19 1 -4 1 16 1 -29 1 25 1 9 1 4 1 13 1 -7 1 10 1 -11 1 -14 1 -3 1 -14 1 -3 1 19 1 -5 1 15 1 11 1 -32 1 42 1 -8 1 7 1 17 1 37 1 -42 1 -1 1 -22 1 31 1 9 1 -23 1 -38 1 19 1 -24 1 -11 1 15 1 -15 1 12 1 -5 1 -13 1 3 1 34 1 -6 1 3 1 -16 1 -12 1 4 1 17 1 -15 1 -20 1 25 1 19 1 -18 1 -6 1 -9 1 3 1 -5 1 -21 1 17 1 -6 1 34 1 7 1 -6 1 -6 1 -4 1 -1 1 43 1 22 1 -16 1 -7 1 -1 1 10 1 -12 1 -18 1 -1"/>
<path stroke="#7f7f7f" d="M199 0l1 -34 1 51 1 23 1 -16 1 20 1 -14 1 -10 1 -9 1 -17 1 6 1 1 1 3 1 -3 1 12 1 22 1 0 1 -25 1 13 1 31 1 -11 1 43 1 -9 1 20 1 -17 1 16 1 -20 1 -9 1 14 1 -30 1 -3 1 23 1 10 1 18 1 1 1 0 1 -1 1 -27 1 -17 1 16 1 0 1 4 1 -6 1 -27 1 43 1 -14 1 -32 1 18 1 -26 1 4 1 27 1 9 1 30 1 -34 1 2 1 28 1 -27 1 2 1 -1 1 -13 1 -24 1 14 1 -10 1 19 1 -9 1 -11 1 -31 1 -15 1 18 1 -31 1 13 1 -18 1 17 1 22 1 -33 1 2 1 -29 1 35 1 -8 1 39 1 -14 1 2 1 -15 1 25 1 -25 1 24 1 23 1 -31 1 -16 1 13 1 -8 1 -23 1 13 1 8 1 -10 1 1 1 5 1 0 1 18 1 22 1 -7"/>
<path stroke="#bcbd22" d="M199 0l1 31 1 63 1 -22 1 13 1 14 1 -29 1 9 1 46 1 16 1 7 1 18 1 -13 1 26 1 -27 1 29 1 -47 1 18 1 -23 1 8 1 -5 1 1 1 3 1 -46 1 21 1 0 1 -34 1 -33 1 9 1 9 1 -6 1 2 1 -5 1 -12 1 29 1 -26 1 14 1 12 1 5 1 -2 1 20 1 -15 1 28 1 -24 1 -30 1 8 1 -21 1 4 1 -22 1 6 1 -6 1 -20 1 -21 1 13 1 -24 1 24 1 8 1 -38 1 6 1 -14 1 13 1 28 1 12 1 12 1 10 1 -5 1 15 1 9 1 12 1 -16 1 0 1 -39 1 -4 1 24 1 -25 1 -20 1 -17 1 5 1 20 1 -7 1 -13 1 61 1 0 1 12 1 -13 1 -12 1 11 1 -17 1 4 1 2 1 -14 1 25 1 -14 1 8 1 6 1 -3 1 25 1 17 1 -12 1 12 1 -24"/>
<path stroke="#17becf" d="M199 0l1 3 1 0 1 50 1 -22 1 8 1 40 1 -15 1 -27 1 6 1 -19 1 -1 1 33 1 -16 1 -1 1 5 1 0 1 -47 1 -12 1 -6 1 46 1 -7 1 4 1 -15 1 1 1 -6 1 26 1 -12 1 -13 1 10 1 5 1 -3 1 18 1 -5 1 -27 1 26 1 16 1 -19 1 35 1 -35 1 -12 1 13 1 -23 1 5 1 -1 1 -35 1 -29 1 7 1 41 1 -32 1 21 1 -2 1 10 1 -13 1 18 1 -20 1 -19 1 25 1 -14 1 -23 1 -5 1 -5 1 -16 1 -4 1 22 1 6 1 9 1 1 1 -19 1 2 1 1 1 9 1 15 1 3 1 16 1 -19 1 -8 1 11 1 27 1 0 1 2 1 11 1 17 1 10 1 -26 1 -20 1 23 1 -37 1 -5 1 30 1 5 1 20 1 -44 1 -1 1 -6 1 12 1 -5 1 15 1 1 1 -26 1 42"/>
<path stroke="#1f77b4" d="M199 0l1 29 1 44 1 -17 1 -23 1 -60 1 -42 1 8 1 3 1 -12 1 22 1 -25 1 32 1 1 1 -19 1 36 1 -29 1 20 1 22 1 2 1 -8 1 10 1 4 1 9 1 10 1 30 1 -9 1 -15 1 2 1 15 1 -23 1 -2 1 -16 1 13 1 -9 1 -3 1 -2 1 -20 1 1 1 41 1 -35 1 18 1 30 1 -49 1 -13 1 15 1 -26 1 -23 1 32 1 9 1 8 1 -4 1 16 1 22 1 5 1 0 1 29 1 -15 1 -17 1 34 1 -8 1 -9 1 10 1 7 1 -2 1 -14 1 -9 1 -16 1 4 1 11 1 5 1 -17 1 36 1 0 1 17 1 24 1 22 1 9 1 18 1 6 1 -18 1 12 1 4 1 7 1 -7 1 1 1 -18 1 6 1 -6 1 -8 1 -11 1 1 1 -40 1 30 1 5 1 -13 1 2 1 7 1 44 1 -51 1 41"/>
<path stroke="#ff7f0e" d="M199 0l1 -26 1 20 1 25 1 -6 1 -9 1 2 1 22 1 27 1 -6 1 14 1 -10 1 3 1 -9 1 3 1 22 1 31 1 8 1 -24 1 -20 1 13 1 -7 1 0 1 15 1 -17 1 35 1 2 1 -5 1 -20 1 -14 1 -19 1 26 1 5 1 4 1 24 1 -31 1 26 1 16 1 -17 1 6 1 0 1 6 1 35 1 26 1 4 1 -12 1 21 1 -1 1 15 1 -2 1 29 1 -32 1 -14 1 2 1 -15 1 6 1 -1 1 -16 1 40 1 -5 1 12 1 2 1 -3 1 26 1 -25 1 21 1 15 1 -27 1 -40 1 -21 1 -29 1 60 1 -14 1 -49 1 4 1 -24 1 4 1 -5 1 1 1 -21 1 16 1 -30 1 -13 1 -11 1 37 1 -30 1 10 1 -29 1 5 1 12 1 39 1 -4 1 -9 1 -4 1 -7 1 -4 1 -2 1 1 1 -10 1 24 1 8"/>
<path stroke="#2ca02c" d="M199 0l1 38 1 66 1 8 1 2 1 -64 1 13 1 8 1 -24 1 16 1 1 1 15 1 8 1 -13 1 24 1 12 1 10 1 24 1 -41 1 -26 1 16 1 -9 1 16 1 -20 1 1 1 -31 1 -1 1 11 1 -19 1 1 1 0 1 19 1 -4 1 12 1 4 1 11 1 -18 1 14 1 17 1 -19 1 10 1 20 1 10 1 36 1 7 1 -40 1 1 1 -18 1 39 1 -14 1 3 1 -11 1 0 1 19 1 -9 1 -5 1 23 1 -22 1 44 1 -48 1 3 1 24 1 -11 1 1 1 16 1 -10 1 3 1 13 1 -10 1 -2 1 24 1 5 1 -10 1 7 1 2 1 -5 1 -33 1 12 1 -5 1 -45 1 38 1 -15 1 50 1 13 1 -15 1 -21 1 30 1 3 1 -3 1 24 1 -32 1 10 1 -27 1 -2 1 2 1 -11 1 -13 1 31 1 -19 1 14 1 -12"/>
<path stroke="#d62728" d="M199 0l1 18 1 -2 1 -12 1 -25 1 50 1 -12 1 19 1 17 1 -3 1 -25 1 -22 1 -2 1 2 1 19 1 0 1 25 1 -35 1 15 1 6 1 15 1 -17 1 -7 1 -7 1 -1 1 7 1 -32 1 20 1 -17 1 15 1 -12 1 15 1 0 1 -28 1 62 1 -59 1 15 1 29 1 -19 1 39 1 10 1 26 1 17 1 -28 1 18 1 -1 1 -26 1 23 1 43 1 -16 1 -15 1 -9 1 1 1 -8 1 13 1 7 1 -10 1 4 1 8 1 26 1 -8 1 -9 1 19 1 -8 1 34 1 18 1 -4 1 0 1 -12 1 22 1 10 1 -50 1 -4 1 -6 1 2 1 20 1 9 1 -35 1 -10 1 18 1 2 1 2 1 23 1 33 1 -8 1 -12 1 -16 1 21 1 -2 1 -13 1 -22 1 16 1 -7 1 -4 1 0 1 -33 1 12 1 12 1 2 1 -18 1 32"/>
<path stroke="#9467bd" d="M199 0l1 -31 1 28 1 -29 1 -20 1 18 1 22 1 -2 1 -15 1 -8 1 31 1 -12 1 11 1 5 1 1 1 -34 1 -17 1 27 1 10 1 16 1 -9 1 -24 1 16 1 -24 1 -12 1 29 1 -3 1 0 1 12 1 17 1 -10 1 1 1 5 1 -13 1 25 1 5 1 1 1 2 1 28 1 -24 1 14 1 0 1 9 1 -7 1 16 1 -34 1 20 1 -6 1 -22 1 7 1 5 1 64 1 1 1 -30 1 27 1 10 1 -10 1 17 1 10 1 -19 1 11 1 25 1 1 1 -26 1 15 1 30 1 -26 1 20 1 -33 1 6 1 -19 1 14 1 -7 1 -24 1 14 1 -11 1 30 1 -9 1 18 1 -23 1 36 1 -21 1 -28 1 63 1 0 1 -38 1 20 1 10 1 -36 1 6 1 16 1 -9 1 -17 1 9 1 -16 1 -17 1 6 1 35 1 12 1 7 1 6"/>
<path stroke="#8c564b" d="M199 0l1 -6 1 -31 1 -24 1 -5 1 3 1 -17 1 3 1 4 1 20 1 -26 1 -14 1 -3 1 23 1 37 1 -3 1 5 1 -36 1 4 1 43 1 -27 1 20 1 -5 1 0 1 -14 1 -1 1 -25 1 14 1 8 1 -14 1 21 1 19 1 -38 1 26 1 13 1 -35 1 36 1 -7 1 -42 1 19 1 -6 1 47 1 -35 1 10 1 18 1 -31 1 14 1 8 1 17 1 -49 1 47 1 14 1 14 1 16 1 -20 1 2 1 0 1 0 1 -8 1 6 1 -6 1 4 1 14 1 39 1 -51 1 18 1 15 1 2 1 -1 1 -32 1 17 1 -1 1 8 1 -19 1 6 1 -17 1 25 1 -7 1 10 1 -34 1 -26 1 21 1 -7 1 -27 1 19 1 -36 1 -29 1 -6 1 -5 1 10 1 5 1 -25 1 0 1 -3 1 24 1 -28 1 17 1 20 1 -16 1 30 1 -26"/>
<path stroke="#e377c2" d="M199 0l1 25 1 -3 1 -13 1 16 1 -31 1 36 1 -21 1 9 1 -7 1 1 1 17 1 4 1 -2 1 18 1 -16 1 -14 1 33 1 -18 1 9 1 -42 1 23 1 -31 1 -24 1 11 1 -13 1 13 1 -14 1 -15 1 25 1 -17 1 23 1 16 1 -27 1 21 1 5 1 21 1 35 1 -33 1 4 1 8 1 -44 1 -28 1 4 1 22 1 -43 1 1 1 14 1 10 1 -10 1 -25 1 10 1 11 1 -2 1 -10 1 1 1 -11 1 -9 1 -17 1 -4 1 -15 1 -19 1 19 1 -10 1 -66 1 54 1 -10 1 34 1 -21 1 -12 1 -13 1 -36 1 4 1 14 1 16 1 18 1 -47 1 26 1 -10 1 12 1 12 1 6 1 -13 1 -10 1 2 1 -4 1 -24 1 36 1 -30 1 12 1 29 1 -23 1 31 1 1 1 13 1 -35 1 36 1 -21 1 -28 1 3 1 -11"/>
<path stroke="#7f7f7f" d="M199 0l1 -77 1 12 1 -17 1 -20 1 -35 1 -34 1 21 1 -11 1 -21 1 -26 1 44 1 -4 1 34 1 -31 1 -26 1 -22 1 -20 1 20 1 27 1 -7 1 -40 1 -22 1 20 1 -30 1 18 1 37 1 -54 1 9 1 2 1 18 1 -57 1 -3 1 23 1 -20 1 -24 1 23 1 -11 1 26 1 -8 1 -15 1 -2 1 8 1 14 1 -30 1 7 1 -42 1 27 1 -2 1 -33 1 18 1 32 1 -44 1 16 1 -10 1 -2 1 -10 1 -15 1 -2 1 19 1 -2 1 48 1 -35 1 -2 1 -28 1 -3 1 0 1 0 1 34 1 5 1 -39 1 -7 1 13 1 -23 1 34 1 7 1 -73 1 30 1 -12 1 3 1 19 1 12 1 15 1 11 1 -16 1 -8 1 2 1 16 1 -19 1 -22 1 13 1 -3 1 21 1 -21 1 -8 1 28 1 -3 1 3 1 3 1 3 1 21"/>
<path stroke="#bcbd22" d="M199 0l1 -7 1 -32 1 14 1 -17 1 -5 1 24 1 -33 1 9 1 12 1 -38 1 -27 1 2 1 2 1 23 1 -7 1 -7 1 -22 1 19 1 -15 1 3 1 -31 1 -17 1 -3 1 -21 1 9 1 -33 1 40 1 -4 1 -28 1 12 1 5 1 1 1 1 1 19 1 17 1 3 1 6 1 23 1 -28 1 22 1 -4 1 27 1 -32 1 2 1 -21 1 37 1 4 1 18 1 13 1 -49 1 3 1 0 1 -3 1 22 1 19 1 -25 1 29 1 -23 1 -22 1 16 1 -31 1 -15 1 33 1 -13 1 12 1 -4 1 -7 1 -7 1 25 1 -18 1 6 1 17 1 -9 1 20 1 -23 1 -46 1 12 1 -3 1 3 1 -17 1 28 1 8 1 6 1 14 1 30 1 -39 1 18 1 -6 1 -14 1 12 1 0 1 -46 1 -25 1 26 1 -28 1 -30 1 25 1 -16 1 -4 1 9"/>
<path stroke="#17becf" d="M199 0l1 41 1 71 1 -41 1 15 1 25 1 -5 1 6 1 28 1 -26 1 -25 1 -12 1 -30 1 -2 1 47 1 15 1 -16 1 0 1 19 1 -15 1 10 1 13 1 -12 1 -12 1 16 1 25 1 37 1 -20 1 -10 1 16 1 -9 1 -27 1 -9 1 -4 1 24 1 9 1 -26 1 37 1 14 1 31 1 5 1 8 1 -31 1 1 1 -41 1 21 1 -26 1 3 1 -1 1 -21 1 17 1 1 1 3 1 22 1 -24 1 -11 1 -15 1 22 1 -9 1 -7 1 22 1 -17 1 -2 1 -18 1 42 1 35 1 -12 1 -38 1 1 1 4 1 -31 1 -2 1 -17 1 -7 1 34 1 -20 1 -14 1 22 1 -21 1 -3 1 -35 1 9 1 -12 1 13 1 7 1 3 1 5 1 4 1 -16 1 14 1 5 1 -1 1 -1 1 -17 1 8 1 3 1 6 1 0 1 -8 1 16 1 -7"/>
<path stroke="#1f77b4" d="M199 0l1 -12 1 -26 1 -27 1 29 1 0 1 31 1 2 1 0 1 3 1 -11 1 -2 1 33 1 -8 1 1 1 -19 1 18 1 -1 1 -14 1 -35 1 2 1 18 1 -36 1 35 1 0 1 -11 1 38 1 -10 1 -3 1 -4 1 9 1 -3 1 -22 1 -3 1 39 1 10 1 1 1 0 1 10 1 -11 1 14 1 38 1 -23 1 -6 1 13 1 -17 1 -4 1 4 1 -33 1 5 1 12 1 -13 1 -19 1 48 1 22 1 0 1 -1 1 -18 1 41 1 -12 1 -24 1 0 1 0 1 15 1 4 1 22 1 8 1 -4 1 -27 1 -25 1 19 1 -5 1 28 1 -14 1 -18 1 6 1 -9 1 55 1 -27 1 -21 1 -10 1 11 1 13 1 -26 1 -9 1 16 1 -28 1 12 1 20 1 26 1 8 1 27 1 -3 1 -8 1 4 1 1 1 -29 1 -2 1 -11 1 37 1 -18"/>
<path stroke="#ff7f0e" d="M199 0l1 -66 1 -7 1 -10 1 29 1 0 1 6 1 34 1 -4 1 -6 1 -9 1 24 1 -11 1 -19 1 11 1 -20 1 1 1 -4 1 9 1 -8 1 14 1 -18 1 -11 1 7 1 -16 1 11 1 -4 1 8 1 -1 1 -2 1 -1 1 13 1 -9 1 10 1 11 1 -15 1 18 1 23 1 -25 1 -12 1 3 1 -34 1 34 1 28 1 -17 1 9 1 -4 1 -16 1 17 1 -21 1 0 1 -2 1 1 1 -12 1 -1 1 17 1 1 1 20 1 -10 1 37 1 -23 1 -20 1 15 1 -12 1 -9 1 38 1 -22 1 -23 1 13 1 -13 1 25 1 -25 1 -19 1 12 1 0 1 38 1 13 1 -15 1 29 1 18 1 -29 1 1 1 -9 1 18 1 10 1 -30 1 -9 1 -19 1 -7 1 4 1 5 1 -14 1 8 1 6 1 -20 1 7 1 12 1 35 1 -37 1 26 1 -4"/>
<path stroke="#2ca02c" d="M199 0l1 78 1 34 1 7 1 -13 1 13 1 15 1 -4 1 -8 1 2 1 10 1 -4 1 24 1 32 1 -19 1 -21 1 -21 1 22 1 -31 1 -20 1 17 1 -13 1 18 1 12 1 -1 1 -8 1 25 1 -1 1 -4 1 -9 1 3 1 -4 1 -32 1 11 1 -17 1 15 1 -44 1 19 1 -4 1 17 1 20 1 -14 1 -20 1 -8 1 -28 1 1 1 10 1 9 1 9 1 6 1 4 1 -2 1 -23 1 -26 1 18 1 3 1 -2 1 -2 1 15 1 1 1 -14 1 21 1 6 1 6 1 -5 1 14 1 -25 1 -6 1 -1 1 7 1 -32 1 -1 1 9 1 19 1 -27 1 6 1 26 1 22 1 13 1 -15 1 -22 1 9 1 42 1 -40 1 -24 1 52 1 -30 1 -20 1 -6 1 -31 1 1 1 -9 1 7 1 -12 1 35 1 -18 1 15 1 19 1 -4 1 -15 1 7"/>
<path stroke="#d62728" d="M199 0l1 -40 1 -5 1 -22 1 5 1 15 1 -22 1 -10 1 10 1 -15 1 -35 1 18 1 8 1 -54 1 -6 1 7 1 -16 1 -13 1 22 1 6 1 0 1 7 1 -4 1 -31 1 3 1 -8 1 -15 1 -8 1 2 1 -5 1 -24 1 0 1 -6 1 -7 1 -28 1 23 1 4 1 -8 1 33 1 -8 1 -3 1 -13 1 1 1 -20 1 23 1 32 1 -21 1 2 1 -28 1 -6 1 -12 1 5 1 -2 1 14 1 1 1 -7 1 7 1 -7 1 6 1 36 1 -6 1 25 1 -25 1 28 1 -30 1 -23 1 1 1 26 1 4 1 -6 1 17 1 -27 1 29 1 -8 1 35 1 -13 1 23 1 -32 1 -4 1 5 1 22 1 4 1 12 1 -35 1 -17 1 37 1 0 1 -12 1 18 1 41 1 -11 1 8 1 -7 1 -10 1 15 1 -25 1 -12 1 17 1 -24 1 6 1 11"/>
<path stroke="#9467bd" d="M199 0l1 85 1 -33 1 -31 1 -1 1 -11 1 -1 1 -50 1 31 1 3 1 -33 1 -6 1 15 1 -9 1 20 1 -42 1 1 1 -5 1 -11 1 7 1 -1 1 -2 1 20 1 25 1 -6 1 29 1 -15 1 8 1 3 1 -12 1 22 1 29 1 -25 1 5 1 -53 1 7 1 17 1 -8 1 11 1 -1 1 -19 1 -31 1 4 1 -1 1 18 1 30 1 -18 1 -2 1 14 1 12 1 -33 1 20 1 -7 1 1 1 11 1 4 1 18 1 -2 1 22 1 -29 1 -12 1 32 1 -2 1 9 1 -12 1 14 1 15 1 -14 1 9 1 -7 1 -16 1 43 1 -33 1 -10 1 3 1 -29 1 9 1 -20 1 -3 1 7 1 -27 1 -20 1 57 1 -13 1 0 1 19 1 18 1 -52 1 39 1 -20 1 2 1 10 1 -3 1 33 1 -4 1 0 1 -3 1 3 1 7 1 -20 1 -14"/>
<path stroke="#8c564b" d="M199 0l1 -56 1 -13 1 16 1 -42 1 -21 1 -10 1 -50 1 17 1 -4 1 0 1 -20 1 33 1 -35 1 14 1 1 1 -12 1 15 1 8 1 -29 1 -37 1 -17 1 -33 1 16 1 1 1 19 1 6 1 12 1 1 1 14 1 -33 1 12 1 25 1 -10 1 21 1 4 1 11 1 -3 1 -1 1 34 1 -9 1 -25 1 28 1 -7 1 15 1 -22 1 11 1 2 1 -2 1 -9 1 15 1 1 1 -14 1 1 1 2 1 13 1 -6 1 -40 1 25 1 -23 1 49 1 -17 1 -11 1 19 1 -24 1 -17 1 -6 1 -4 1 22 1 -3 1 -3 1 -2 1 37 1 -37 1 -13 1 9 1 -14 1 -4 1 32 1 -4 1 17 1 -37 1 33 1 -31 1 3 1 0 1 -15 1 36 1 -11 1 10 1 3 1 -11 1 10 1 27 1 -32 1 38 1 -7 1 -13 1 -30 1 33 1 26"/>
<path stroke="#e377c2" d="M199 0l1 12 1 -35 1 -16 1 -74 1 9 1 -32 1 4 1 -9 1 25 1 36 1 -10 1 21 1 11 1 7 1 1 1 34 1 -17 1 -6 1 -13 1 24 1 -7 1 23 1 -11 1 -11 1 4 1 0 1 -7 1 -19 1 14 1 -15 1 -28 1 12 1 -8 1 6 1 1 1 1 1 -7 1 12 1 -7 1 4 1 -15 1 -2 1 -8 1 1 1 -14 1 24 1 -21 1 30 1 20 1 -21 1 -8 1 8 1 30 1 -12 1 -17 1 1 1 -7 1 5 1 8 1 25 1 1 1 12 1 -14 1 10 1 5 1 -9 1 6 1 -10 1 36 1 14 1 -21 1 -26 1 53 1 13 1 -3 1 38 1 12 1 -12 1 -31 1 39 1 -7 1 30 1 1 1 -2 1 -14 1 17 1 9 1 -16 1 1 1 -5 1 -2 1 -5 1 -9 1 10 1 -16 1 -6 1 -20 1 -7 1 -5 1 2"/>
<path stroke="#7f7f7f" d="M199 0l1 6 1 60 1 -3 1 0 1 -46 1 -21 1 34 1 -6 1 -11 1 13 1 -11 1 -8 1 14 1 3 1 -10 1 -3 1 -12 1 -14 1 31 1 -58 1 26 1 -12 1 -12 1 21 1 5 1 -4 1 -30 1 2 1 19 1 -1 1 8 1 1 1 9 1 6 1 -15 1 36 1 9 1 -13 1 -23 1 -16 1 19 1 10 1 -12 1 33 1 -2 1 -6 1 -6 1 1 1 9 1 -21 1 20 1 -43 1 -33 1 22 1 -15 1 11 1 -23 1 14 1 -21 1 13 1 11 1 9 1 -7 1 -30 1 20 1 22 1 -3 1 -22 1 27 1 -6 1 -9 1 -46 1 39 1 -16 1 22 1 3 1 -18 1 8 1 13 1 1 1 5 1 -24 1 6 1 -7 1 -1 1 8 1 20 1 -10 1 -10 1 -9 1 -42 1 18 1 1 1 12 1 -42 1 14 1 -15 1 -7 1 -12 1 20"/>
<path stroke="#bcbd22" d="M199 0l1 0 1 2 1 78 1 -65 1 33 1 -29 1 -39 1 4 1 -2 1 -14 1 1 1 -16 1 27 1 3 1 21 1 -14 1 24 1 -1 1 -9 1 2 1 3 1 -10 1 -18 1 35 1 -32 1 -22 1 0 1 -11 1 -20 1 13 1 40 1 -8 1 15 1 0 1 13 1 -11 1 -16 1 10 1 -9 1 6 1 -4 1 27 1 30 1 -1 1 -6 1 6 1 -10 1 21 1 -14 1 3 1 10 1 -15 1 6 1 22 1 14 1 -15 1 6 1 -5 1 -11 1 -20 1 45 1 -26 1 9 1 14 1 -31 1 25 1 4 1 -14 1 -32 1 22 1 7 1 -7 1 -9 1 37 1 -8 1 -23 1 0 1 -1 1 -6 1 25 1 6 1 -26 1 -14 1 38 1 -7 1 -20 1 -10 1 17 1 -24 1 -6 1 -34 1 1 1 19 1 16 1 -18 1 -39 1 -2 1 9 1 5 1 -10"/>
<path stroke="#17becf" d="M199 0l1 15 1 39 1 -35 1 47 1 -18 1 7 1 1 1 -1 1 -7 1 -5 1 -24 1 15 1 -23 1 5 1 9 1 16 1 -9 1 -20 1 3 1 0 1 -4 1 20 1 -26 1 24 1 -5 1 22 1 -32 1 2 1 -7 1 -7 1 -20 1 2 1 14 1 -23 1 -18 1 0 1 -13 1 39 1 -25 1 2 1 1 1 -18 1 27 1 -5 1 10 1 4 1 1 1 -27 1 29 1 -15 1 -13 1 34 1 16 1 -21 1 16 1 -6 1 6 1 4 1 -19 1 17 1 -20 1 24 1 -20 1 14 1 -33 1 19 1 -4 1 23 1 -13 1 9 1 10 1 -22 1 19 1 16 1 -36 1 9 1 -15 1 4 1 3 1 13 1 -18 1 6 1 -18 1 32 1 -43 1 20 1 18 1 -51 1 -4 1 2 1 -7 1 22 1 6 1 -29 1 31 1 -23 1 20 1 -7 1 -17 1 25"/>
<path stroke="#1f77b4" d="M199 0l1 -23 1 -24 1 -5 1 17 1 -15 1 45 1 -50 1 -33 1 -6 1 -9 1 15 1 -14 1 11 1 -7 1 14 1 -22 1 11 1 10 1 4 1 0 1 -22 1 -7 1 -46 1 27 1 13 1 7 1 14 1 -15 1 9 1 -16 1 14 1 40 1 -6 1 -22 1 32 1 22 1 7 1 11 1 2 1 -1 1 -17 1 7 1 0 1 -29 1 39 1 -1 1 -7 1 -35 1 -13 1 -5 1 7 1 14 1 -27 1 18 1 -11 1 2 1 -38 1 19 1 -5 1 -6 1 -17 1 14 1 -15 1 15 1 -12 1 8 1 -4 1 5 1 12 1 -9 1 -7 1 5 1 10 1 -21 1 8 1 1 1 -14 1 5 1 -24 1 1 1 11 1 -14 1 15 1 2 1 17 1 -4 1 13 1 -10 1 -69 1 32 1 2 1 -18 1 -59 1 34 1 -28 1 1 1 3 1 -27 1 2 1 46"/>
<path stroke="#ff7f0e" d="M199 0l1 47 1 -3 1 2 1 5 1 2 1 21 1 1 1 38 1 25 1 19 1 6 1 12 1 -1 1 -29 1 49 1 -41 1 16 1 11 1 -20 1 -25 1 -22 1 34 1 1 1 -3 1 3 1 -36 1 -34 1 7 1 -2 1 -25 1 -2 1 -17 1 21 1 14 1 -21 1 6 1 1 1 -13 1 17 1 -9 1 6 1 6 1 -14 1 20 1 7 1 -17 1 -12 1 -17 1 10 1 5 1 -60 1 -2 1 18 1 -4 1 21 1 -2 1 -18 1 17 1 -15 1 31 1 -10 1 8 1 -18 1 12 1 -3 1 6 1 7 1 -40 1 -13 1 32 1 -10 1 -13 1 17 1 -23 1 12 1 -9 1 -28 1 14 1 24 1 26 1 5 1 -3 1 -6 1 32 1 1 1 -5 1 -6 1 -13 1 6 1 11 1 6 1 -43 1 30 1 -16 1 -13 1 20 1 -6 1 -8 1 11 1 -1"/>
<path stroke="#2ca02c" d="M199 0l1 5 1 47 1 -30 1 -31 1 -14 1 -4 1 -15 1 -15 1 -33 1 30 1 -4 1 4 1 2 1 -4 1 17 1 13 1 -11 1 -3 1 30 1 -4 1 -9 1 -48 1 21 1 -26 1 0 1 -17 1 -11 1 0 1 -8 1 13 1 12 1 -40 1 19 1 22 1 -6 1 -18 1 25 1 -21 1 5 1 1 1 5 1 -20 1 5 1 7 1 18 1 -7 1 -12 1 -27 1 15 1 -29 1 4 1 18 1 -35 1 11 1 8 1 34 1 -6 1 -23 1 6 1 22 1 -24 1 -5 1 -19 1 15 1 -7 1 -6 1 -1 1 21 1 28 1 -16 1 37 1 -11 1 20 1 -10 1 -21 1 20 1 0 1 -27 1 13 1 4 1 3 1 -3 1 18 1 15 1 46 1 -1 1 2 1 1 1 -3 1 -6 1 -10 1 -22 1 25 1 -1 1 4 1 1 1 16 1 -25 1 0 1 -17"/>
<path stroke="#d62728" d="M199 0l1 28 1 19 1 2 1 6 1 23 1 3 1 2 1 11 1 -24 1 -7 1 11 1 15 1 -14 1 19 1 14 1 -18 1 -13 1 -1 1 4 1 8 1 20 1 -5 1 -28 1 20 1 14 1 -4 1 15 1 -20 1 10 1 -28 1 26 1 12 1 -39 1 11 1 37 1 53 1 -8 1 -4 1 -5 1 24 1 30 1 -23 1 21 1 -24 1 20 1 -16 1 6 1 -22 1 28 1 -24 1 4 1 -41 1 -1 1 3 1 28 1 -32 1 9 1 -15 1 -10 1 33 1 -1 1 6 1 6 1 10 1 -4 1 -35 1 -8 1 0 1 -19 1 21 1 -16 1 -16 1 23 1 -25 1 30 1 0 1 -5 1 -27 1 -10 1 -20 1 13 1 20 1 3 1 -1 1 6 1 41 1 -44 1 44 1 5 1 -21 1 43 1 -24 1 1 1 -1 1 34 1 -8 1 19 1 -15 1 -39 1 24"/>
<path stroke="#9467bd" d="M199 0l1 -12 1 28 1 17 1 3 1 0 1 -9 1 -10 1 -3 1 -3 1 -2 1 -36 1 0 1 40 1 -20 1 20 1 -6 1 14 1 0 1 -57 1 16 1 10 1 3 1 -15 1 45 1 -2 1 -39 1 2 1 -14 1 19 1 30 1 -34 1 11 1 22 1 13 1 -22 1 1 1 26 1 8 1 -7 1 -7 1 -2 1 11 1 4 1 21 1 8 1 7 1 -38 1 14 1 -6 1 -22 1 21 1 38 1 -29 1 5 1 -25 1 11 1 6 1 -1 1 -21 1 21 1 8 1 16 1 -27 1 12 1 13 1 15 1 -9 1 -4 1 17 1 7 1 -9 1 32 1 10 1 -15 1 20 1 18 1 -12 1 -9 1 -12 1 -13 1 9 1 15 1 3 1 22 1 8 1 6 1 11 1 12 1 21 1 -11 1 13 1 14 1 6 1 -17 1 -14 1 -5 1 1 1 -17 1 7 1 -35"/>
<path stroke="#8c564b" d="M199 0l1 34 1 -64 1 32 1 27 1 -40 1 -16 1 1 1 14 1 -23 1 9 1 4 1 -18 1 30 1 -14 1 -9 1 -9 1 10 1 23 1 -19 1 25 1 -21 1 1 1 -9 1 -34 1 28 1 -24 1 -18 1 26 1 22 1 -11 1 7 1 -16 1 6 1 8 1 4 1 -4 1 12 1 -35 1 -6 1 23 1 -14 1 16 1 4 1 -5 1 7 1 7 1 7 1 12 1 -21 1 26 1 -7 1 -5 1 7 1 8 1 29 1 -15 1 -2 1 -18 1 9 1 16 1 -20 1 6 1 26 1 14 1 -17 1 -14 1 -5 1 -26 1 38 1 -30 1 17 1 -4 1 12 1 -2 1 3 1 -6 1 -20 1 -28 1 33 1 13 1 5 1 -19 1 -1 1 -8 1 1 1 -8 1 -3 1 36 1 -33 1 -14 1 -33 1 -23 1 -24 1 6 1 -31 1 1 1 29 1 21 1 -30 1 3"/>
<path stroke="#e377c2" d="M199 0l1 3 1 -24 1 -35 1 43 1 28 1 -14 1 23 1 -9 1 -11 1 9 1 -22 1 -5 1 -6 1 31 1 -8 1 1 1 -15 1 -12 1 -27 1 23 1 -15 1 -15 1 12 1 25 1 -27 1 -13 1 1 1 -15 1 8 1 20 1 14 1 36 1 -21 1 12 1 -3 1 -19 1 -6 1 7 1 1 1 -11 1 26 1 5 1 -44 1 4 1 -11 1 -3 1 -17 1 24 1 -16 1 -8 1 -14 1 -23 1 1 1 12 1 2 1 9 1 7 1 -6 1 -24 1 38 1 -10 1 -7 1 24 1 -15 1 3 1 28 1 -11 1 -19 1 -6 1 13 1 -4 1 -13 1 21 1 -13 1 22 1 -8 1 24 1 -37 1 -7 1 28 1 -13 1 16 1 -23 1 -12 1 2 1 17 1 -13 1 1 1 11 1 0 1 -23 1 12 1 25 1 -5 1 -20 1 28 1 -6 1 -4 1 -15 1 -48"/>
<path stroke="#7f7f7f" d="M199 0l1 -82 1 -11 1 14 1 5 1 23 1 -50 1 5 1 27 1 -43 1 8 1 2 1 26 1 8 1 -19 1 -15 1 3 1 11 1 31 1 -26 1 15 1 -19 1 -29 1 -1 1 9 1 -17 1 -3 1 14 1 -7 1 -40 1 21 1 2 1 30 1 -9 1 -11 1 -17 1 -14 1 22 1 -4 1 -5 1 -10 1 -13 1 -13 1 1 1 -6 1 -12 1 -12 1 19 1 -12 1 22 1 -23 1 -5 1 -16 1 2 1 38 1 -33 1 28 1 -19 1 14 1 -4 1 -25 1 -14 1 -12 1 -39 1 23 1 -10 1 -11 1 9 1 -21 1 9 1 -6 1 -7 1 33 1 -28 1 5 1 13 1 9 1 -26 1 26 1 3 1 -5 1 -38 1 19 1 -30 1 12 1 10 1 13 1 -52 1 -18 1 25 1 -7 1 -10 1 3 1 -9 1 -21 1 6 1 5 1 0 1 9 1 -42 1 7"/>
<path stroke="#bcbd22" d="M199 0l1 -7 1 -42 1 -9 1 9 1 -18 1 23 1 -29 1 -21 1 27 1 13 1 -14 1 -7 1 -16 1 -4 1 15 1 -13 1 -20 1 26 1 -63 1 24 1 11 1 -21 1 4 1 -39 1 10 1 32 1 -15 1 -1 1 14 1 -16 1 -19 1 -2 1 23 1 1 1 40 1 -44 1 4 1 2 1 -5 1 -12 1 17 1 -22 1 -40 1 2 1 16 1 9 1 -19 1 -22 1 6 1 17 1 -15 1 0 1 -15 1 -5 1 -3 1 -26 1 -9 1 6 1 28 1 -43 1 15 1 -25 1 8 1 -21 1 -19 1 10 1 -29 1 29 1 -2 1 11 1 11 1 -27 1 -12 1 11 1 -38 1 -7 1 -4 1 1 1 4 1 -9 1 30 1 21 1 9 1 -18 1 -26 1 -24 1 -20 1 21 1 -7 1 2 1 12 1 -7 1 -34 1 6 1 37 1 -15 1 -3 1 -4 1 -20 1 48"/>
<path stroke="#17becf" d="M199 0l1 -11 1 18 1 -32 1 -36 1 -9 1 14 1 -54 1 -8 1 -1 1 19 1 -8 1 24 1 -32 1 0 1 35 1 -9 1 0 1 -26 1 -2 1 0 1 -23 1 16 1 -14 1 8 1 15 1 -4 1 -2 1 2 1 9 1 -15 1 13 1 1 1 -23 1 24 1 -32 1 17 1 -1 1 6 1 -8 1 -16 1 37 1 12 1 -4 1 -7 1 -6 1 -27 1 0 1 6 1 6 1 39 1 -21 1 15 1 21 1 -12 1 38 1 19 1 -13 1 24 1 -3 1 32 1 -37 1 27 1 19 1 -31 1 -8 1 -17 1 15 1 22 1 -2 1 2 1 2 1 0 1 9 1 27 1 -27 1 -2 1 -12 1 -26 1 -4 1 -17 1 11 1 -14 1 6 1 -4 1 20 1 -22 1 1 1 -13 1 4 1 3 1 18 1 0 1 -11 1 -12 1 9 1 -1 1 11 1 9 1 7 1 -14"/>
<path stroke="#1f77b4" d="M199 0l1 1 1 -4 1 -2 1 -19 1 20 1 -43 1 22 1 0 1 14 1 -16 1 20 1 -24 1 15 1 19 1 23 1 13 1 -11 1 2 1 -12 1 -5 1 -4 1 10 1 8 1 2 1 -14 1 -41 1 10 1 3 1 -22 1 -18 1 5 1 24 1 -28 1 -1 1 -1 1 -6 1 -34 1 26 1 -29 1 0 1 -20 1 -10 1 -23 1 0 1 -4 1 -23 1 26 1 -5 1 -24 1 -2 1 -8 1 19 1 5 1 -14 1 38 1 16 1 0 1 -27 1 -12 1 -17 1 25 1 -18 1 -13 1 29 1 -52 1 -17 1 7 1 -15 1 3 1 7 1 -23 1 21 1 8 1 -3 1 -18 1 35 1 -15 1 -2 1 -10 1 14 1 -16 1 -3 1 52 1 -3 1 21 1 13 1 -13 1 -5 1 1 1 -33 1 -7 1 35 1 -19 1 -2 1 27 1 -16 1 2 1 2 1 10 1 -23"/>
<path stroke="#ff7f0e" d="M199 0l1 18 1 14 1 15 1 -17 1 -23 1 16 1 8 1 2 1 7 1 7 1 -16 1 13 1 14 1 2 1 16 1 -33 1 29 1 -10 1 2 1 10 1 -20 1 -5 1 41 1 -27 1 5 1 26 1 -37 1 29 1 -4 1 18 1 -11 1 2 1 -19 1 -22 1 32 1 18 1 -11 1 -5 1 -1 1 12 1 9 1 -2 1 -23 1 -38 1 34 1 11 1 17 1 -14 1 7 1 10 1 4 1 5 1 -13 1 -5 1 -1 1 8 1 -16 1 -11 1 -4 1 -22 1 28 1 -5 1 11 1 11 1 -3 1 -1 1 -20 1 31 1 -11 1 -4 1 18 1 21 1 -29 1 10 1 3 1 -3 1 20 1 -33 1 21 1 2 1 -16 1 31 1 1 1 -23 1 8 1 0 1 -13 1 20 1 4 1 2 1 8 1 4 1 2 1 0 1 2 1 -1 1 0 1 -14 1 17 1 -11"/>
<path stroke="#2ca02c" d="M199 0l1 -16 1 -14 1 -7 1 -20 1 18 1 -22 1 32 1 32 1 -7 1 -6 1 -30 1 -2 1 11 1 -25 1 5 1 -5 1 2 1 40 1 -13 1 -22 1 -12 1 2 1 58 1 -52 1 -2 1 17 1 -11 1 7 1 -4 1 -18 1 3 1 -30 1 21 1 19 1 1 1 9 1 7 1 -5 1 -18 1 -2 1 10 1 1 1 -2 1 3 1 16 1 2 1 -18 1 4 1 4 1 -23 1 26 1 -4 1 -22 1 -12 1 -6 1 9 1 5 1 20 1 -11 1 27 1 -27 1 7 1 -17 1 34 1 -18 1 -32 1 13 1 -2 1 -37 1 4 1 16 1 -33 1 -24 1 -19 1 10 1 -4 1 -19 1 -16 1 -14 1 -6 1 -44 1 2 1 -15 1 13 1 -13 1 2 1 -27 1 -5 1 12 1 -12 1 -8 1 -3 1 6 1 -7 1 0 1 -45 1 30 1 -24 1 25 1 -7"/>
<path stroke="#d62728" d="M199 0l1 -10 1 -37 1 -8 1 -46 1 56 1 30 1 0 1 9 1 -3 1 -7 1 -32 1 34 1 -3 1 1 1 12 1 31 1 -13 1 -21 1 -23 1 12 1 3 1 10 1 -34 1 17 1 27 1 0 1 -33 1 32 1 -55 1 5 1 -10 1 -7 1 -50 1 30 1 -13 1 0 1 41 1 -37 1 -24 1 5 1 -14 1 -3 1 1 1 -14 1 -19 1 3 1 -23 1 49 1 -34 1 9 1 -5 1 -7 1 11 1 13 1 -28 1 -10 1 8 1 -6 1 -3 1 -20 1 -7 1 -8 1 20 1 1 1 24 1 -5 1 -39 1 42 1 -34 1 -4 1 -34 1 -13 1 21 1 -4 1 8 1 -20 1 -1 1 12 1 29 1 -2 1 -8 1 -8 1 11 1 2 1 -15 1 -6 1 -9 1 -25 1 11 1 16 1 -12 1 -33 1 38 1 -47 1 -13 1 20 1 -14 1 34 1 -4 1 -36"/>
<path stroke="#9467bd" d="M199 0l1 -33 1 -50 1 -28 1 -19 1 7 1 5 1 54 1 -24 1 10 1 -49 1 31 1 16 1 -29 1 20 1 -25 1 3 1 -2 1 -17 1 -12 1 -7 1 29 1 -2 1 31 1 -5 1 -9 1 19 1 -4 1 -7 1 -5 1 -3 1 4 1 -5 1 15 1 4 1 18 1 11 1 -18 1 -1 1 -30 1 15 1 -16 1 -1 1 -2 1 -24 1 -8 1 -5 1 -7 1 22 1 -18 1 -11 1 -3 1 -9 1 -1 1 11 1 12 1 -9 1 -14 1 -18 1 -16 1 7 1 -5 1 20 1 4 1 -14 1 4 1 -36 1 8 1 -9 1 -11 1 5 1 -18 1 2 1 -40 1 26 1 -6 1 -1 1 1 1 -3 1 17 1 9 1 52 1 -22 1 -7 1 -21 1 15 1 11 1 -43 1 17 1 -10 1 -26 1 -42 1 17 1 19 1 35 1 -23 1 16 1 -3 1 -17 1 -30 1 -6"/>
<path stroke="#8c564b" d="M199 0l1 -6 1 3 1 -24 1 -46 1 12 1 3 1 43 1 17 1 -13 1 -14 1 -19 1 -23 1 -1 1 -9 1 34 1 15 1 -30 1 -9 1 -6 1 -11 1 23 1 -4 1 44 1 -14 1 -7 1 -10 1 19 1 10 1 1 1 18 1 25 1 -3 1 0 1 17 1 1 1 -2 1 -15 1 11 1 -23 1 12 1 13 1 -18 1 9 1 -31 1 65 1 9 1 -6 1 -17 1 -9 1 -2 1 19 1 8 1 0 1 -5 1 5 1 14 1 16 1 24 1 -32 1 27 1 13 1 18 1 0 1 -10 1 15 1 5 1 2 1 12 1 -8 1 -13 1 1 1 -3 1 -11 1 12 1 20 1 -7 1 -1 1 -2 1 -7 1 5 1 -28 1 35 1 -17 1 -14 1 11 1 4 1 -7 1 -15 1 0 1 -13 1 -9 1 16 1 -24 1 23 1 -12 1 3 1 -10 1 5 1 18 1 -15"/>
<path stroke="#e377c2" d="M199 0l1 9 1 4 1 -7 1 -19 1 24 1 -20 1 31 1 14 1 -23 1 41 1 -22 1 -4 1 30 1 -13 1 2 1 -42 1 24 1 13 1 -7 1 17 1 33 1 -23 1 -7 1 23 1 5 1 -26 1 15 1 6 1 -17 1 9 1 -29 1 16 1 2 1 -14 1 -2 1 34 1 -15 1 -17 1 6 1 5 1 -3 1 19 1 -29 1 5 1 -4 1 19 1 -17 1 -30 1 25 1 -5 1 32 1 -3 1 -17 1 -16 1 0 1 8 1 -35 1 23 1 -17 1 53 1 -41 1 7 1 -15 1 -1 1 -6 1 -11 1 -30 1 54 1 -5 1 10 1 -13 1 -7 1 17 1 -32 1 6 1 12 1 -12 1 -2 1 -19 1 19 1 -21 1 16 1 4 1 -5 1 -12 1 0 1 -3 1 -9 1 -13 1 -5 1 1 1 -3 1 10 1 -16 1 -21 1 22 1 -51 1 19 1 29 1 2"/>
<path stroke="#7f7f7f" d="M199 0l1 43 1 -17 1 -9 1 -17 1 -35 1 23 1 4 1 -41 1 -1 1 -21 1 36 1 -29 1 42 1 -1 1 -4 1 10 1 27 1 -24 1 10 1 -2 1 31 1 4 1 13 1 -7 1 -24 1 21 1 -22 1 1 1 21 1 10 1 -7 1 9 1 -15 1 47 1 -36 1 -4 1 19 1 -22 1 13 1 -17 1 -29 1 25 1 -27 1 3 1 16 1 -32 1 -19 1 17 1 -32 1 -14 1 25 1 -1 1 21 1 -6 1 3 1 53 1 -38 1 -11 1 -18 1 -1 1 14 1 -11 1 25 1 -30 1 22 1 36 1 -21 1 10 1 11 1 4 1 30 1 11 1 0 1 -5 1 38 1 7 1 2 1 0 1 -6 1 -14 1 -2 1 -8 1 -37 1 -7 1 7 1 -1 1 21 1 8 1 -26 1 4 1 17 1 3 1 -27 1 15 1 -31 1 3 1 -29 1 1 1 16 1 -8"/>
<path stroke="#bcbd22" d="M199 0l1 -2 1 36 1 -2 1 17 1 -14 1 -18 1 2 1 -5 1 18 1 1 1 1 1 25 1 -31 1 45 1 -16 1 9 1 -9 1 -25 1 -1 1 5 1 0 1 -16 1 -5 1 -31 1 75 1 -9 1 8 1 5 1 -27 1 0 1 -12 1 15 1 -30 1 -6 1 -35 1 43 1 13 1 -10 1 -3 1 -5 1 -10 1 -13 1 11 1 -10 1 17 1 -22 1 4 1 4 1 -12 1 36 1 -13 1 -26 1 15 1 8 1 -37 1 -30 1 41 1 -7 1 -5 1 -16 1 19 1 -23 1 -5 1 0 1 18 1 -18 1 11 1 -15 1 -24 1 -13 1 -25 1 -2 1 -11 1 -15 1 -13 1 7 1 -5 1 -9 1 -12 1 -6 1 8 1 -16 1 3 1 -13 1 28 1 -18 1 16 1 8 1 6 1 -3 1 -3 1 15 1 -8 1 -17 1 -3 1 2 1 -12 1 -33 1 5 1 -4"/>
<path stroke="#17becf" d="M199 0l1 30 1 0 1 -24 1 14 1 -24 1 -14 1 42 1 17 1 15 1 4 1 12 1 13 1 -40 1 11 1 -3 1 0 1 -5 1 -6 1 -6 1 17 1 0 1 -7 1 -14 1 -22 1 -1 1 8 1 22 1 -33 1 -21 1 12 1 6 1 -12 1 6 1 10 1 -28 1 -2 1 -14 1 -9 1 -4 1 20 1 -23 1 -23 1 38 1 -34 1 -53 1 -1 1 -10 1 -18 1 19 1 -33 1 20 1 9 1 4 1 9 1 -6 1 -21 1 35 1 -30 1 -2 1 22 1 2 1 -43 1 18 1 -18 1 1 1 -9 1 -20 1 6 1 9 1 21 1 -42 1 4 1 17 1 -16 1 28 1 13 1 39 1 -26 1 -15 1 18 1 -15 1 13 1 -15 1 -10 1 -37 1 21 1 1 1 8 1 -11 1 3 1 -9 1 16 1 10 1 23 1 -41 1 0 1 33 1 -28 1 23 1 7"/>
<path stroke="#1f77b4" d="M199 0l1 -16 1 24 1 -24 1 -3 1 -22 1 11 1 39 1 -35 1 10 1 2 1 13 1 -3 1 38 1 -6 1 3 1 20 1 -28 1 -16 1 -3 1 18 1 4 1 -25 1 12 1 -3 1 36 1 -11 1 21 1 -20 1 -20 1 -5 1 11 1 10 1 -13 1 8 1 -15 1 1 1 -2 1 3 1 -8 1 -25 1 21 1 -19 1 -24 1 33 1 -35 1 -15 1 28 1 13 1 3 1 25 1 -35 1 4 1 -10 1 3 1 31 1 -30 1 -9 1 -7 1 -27 1 27 1 3 1 -3 1 17 1 -24 1 -1 1 -35 1 8 1 -41 1 10 1 48 1 -43 1 12 1 -33 1 30 1 -31 1 -24 1 3 1 15 1 16 1 -42 1 35 1 -17 1 -8 1 26 1 -18 1 9 1 -15 1 -34 1 -13 1 -15 1 -7 1 45 1 -19 1 -3 1 -11 1 15 1 -14 1 -14 1 -31 1 -18"/>
<path stroke="#ff7f0e" d="M199 0l1 -8 1 -23 1 -5 1 36 1 -20 1 9 1 35 1 4 1 11 1 3 1 -35 1 35 1 5 1 2 1 17 1 -4 1 -6 1 -18 1 -11 1 37 1 14 1 -8 1 5 1 18 1 -41 1 -8 1 36 1 -7 1 -22 1 40 1 -13 1 7 1 -22 1 22 1 -12 1 -30 1 34 1 -34 1 10 1 7 1 12 1 -13 1 36 1 13 1 -40 1 -6 1 18 1 -36 1 17 1 23 1 -20 1 -28 1 9 1 54 1 -26 1 13 1 20 1 31 1 -55 1 -6 1 0 1 29 1 -26 1 -7 1 6 1 -45 1 32 1 -22 1 28 1 -14 1 -17 1 24 1 24 1 -17 1 2 1 -8 1 -18 1 43 1 5 1 -4 1 52 1 -20 1 2 1 -24 1 38 1 5 1 5 1 -1 1 1 1 19 1 -55 1 23 1 -18 1 0 1 6 1 -2 1 -33 1 21 1 36 1 -3"/>
<path stroke="#2ca02c" d="M199 0l1 0 1 20 1 -38 1 44 1 49 1 -40 1 20 1 -11 1 4 1 -14 1 11 1 -21 1 25 1 -32 1 18 1 -5 1 17 1 7 1 -24 1 4 1 20 1 -22 1 6 1 -17 1 -29 1 -6 1 -10 1 14 1 20 1 -1 1 -11 1 -6 1 -11 1 28 1 -29 1 5 1 15 1 -31 1 8 1 21 1 15 1 -39 1 2 1 11 1 -21 1 11 1 -35 1 3 1 -19 1 9 1 -26 1 20 1 -1 1 -10 1 -2 1 -7 1 -6 1 1 1 14 1 -10 1 9 1 5 1 -9 1 2 1 23 1 -4 1 22 1 20 1 7 1 2 1 -1 1 -13 1 -6 1 -11 1 -1 1 15 1 -9 1 -7 1 8 1 -8 1 -2 1 -22 1 -10 1 10 1 -35 1 13 1 -31 1 12 1 2 1 -21 1 -3 1 6 1 34 1 -27 1 12 1 32 1 5 1 -26 1 49 1 19"/>
<path stroke="#d62728" d="M199 0l1 -43 1 65 1 0 1 -15 1 1 1 1 1 -23 1 5 1 14 1 -36 1 51 1 -37 1 -6 1 4 1 6 1 -27 1 -6 1 4 1 -14 1 -8 1 9 1 -2 1 10 1 -10 1 11 1 -7 1 -7 1 27 1 -11 1 -8 1 -8 1 7 1 3 1 10 1 -30 1 -33 1 20 1 -10 1 -6 1 21 1 -30 1 17 1 13 1 7 1 -21 1 6 1 -25 1 1 1 -15 1 -31 1 -10 1 7 1 -19 1 -2 1 8 1 -23 1 0 1 -18 1 -10 1 21 1 0 1 12 1 19 1 -23 1 -24 1 -3 1 -25 1 5 1 14 1 -18 1 11 1 26 1 -19 1 4 1 20 1 -32 1 22 1 0 1 19 1 8 1 -16 1 9 1 5 1 19 1 10 1 -21 1 25 1 -18 1 -10 1 7 1 18 1 -21 1 -8 1 3 1 -3 1 1 1 32 1 -18 1 -12 1 -5"/>
<path stroke="#9467bd" d="M199 0l1 3 1 2 1 33 1 -8 1 -14 1 3 1 -8 1 12 1 -11 1 -9 1 -22 1 -2 1 7 1 12 1 -3 1 14 1 25 1 -7 1 4 1 39 1 7 1 -68 1 28 1 -11 1 6 1 -14 1 -7 1 25 1 22 1 -38 1 -16 1 27 1 -16 1 9 1 15 1 -24 1 20 1 -13 1 7 1 -3 1 24 1 1 1 -19 1 1 1 20 1 17 1 -5 1 -15 1 -16 1 19 1 13 1 -16 1 6 1 -28 1 32 1 -5 1 -30 1 37 1 -10 1 -17 1 -10 1 2 1 -8 1 6 1 -30 1 0 1 -20 1 6 1 13 1 -33 1 25 1 44 1 19 1 -21 1 -1 1 -18 1 -19 1 21 1 -9 1 -7 1 -44 1 29 1 -22 1 -13 1 13 1 38 1 -36 1 22 1 -31 1 28 1 -6 1 -4 1 14 1 -25 1 11 1 17 1 -5 1 -17 1 11 1 7"/>
<path stroke="#8c564b" d="M199 0l1 15 1 -8 1 -21 1 -30 1 31 1 11 1 39 1 -27 1 41 1 28 1 -10 1 11 1 10 1 -7 1 6 1 -8 1 4 1 -22 1 6 1 -9 1 -1 1 -14 1 17 1 -10 1 14 1 -7 1 1 1 -15 1 31 1 -17 1 -16 1 -17 1 -14 1 29 1 -23 1 15 1 -2 1 -12 1 8 1 -12 1 3 1 6 1 -18 1 29 1 -10 1 -6 1 6 1 13 1 15 1 3 1 40 1 -8 1 -15 1 -1 1 15 1 -12 1 5 1 -10 1 -15 1 -21 1 9 1 0 1 27 1 7 1 -43 1 20 1 6 1 -1 1 -24 1 -37 1 26 1 -14 1 -9 1 23 1 20 1 -19 1 11 1 -18 1 -14 1 5 1 13 1 -33 1 -16 1 24 1 -15 1 16 1 46 1 -7 1 -7 1 -2 1 21 1 -30 1 -24 1 18 1 -26 1 -22 1 18 1 21 1 30 1 10"/>
<path stroke="#e377c2" d="M199 0l1 -16 1 32 1 -55 1 -5 1 2 1 16 1 15 1 3 1 5 1 -5 1 -27 1 21 1 22 1 -37 1 20 1 -7 1 23 1 -17 1 13 1 1 1 -16 1 11 1 -61 1 12 1 22 1 1 1 4 1 -6 1 33 1 14 1 -4 1 -10 1 11 1 -25 1 9 1 -3 1 27 1 -18 1 15 1 -17 1 -25 1 -30 1 22 1 -21 1 5 1 13 1 -9 1 16 1 13 1 -40 1 7 1 8 1 8 1 0 1 -31 1 2 1 -22 1 21 1 -45 1 22 1 -1 1 8 1 19 1 -26 1 16 1 21 1 1 1 -16 1 10 1 4 1 7 1 -22 1 8 1 39 1 -3 1 -14 1 14 1 7 1 12 1 -16 1 -31 1 18 1 -14 1 -16 1 36 1 -4 1 30 1 -5 1 -13 1 -11 1 -9 1 18 1 10 1 -34 1 18 1 21 1 -11 1 35 1 -20 1 2"/>
<path stroke="#7f7f7f" d="M199 0l1 18 1 4 1 -26 1 19 1 -24 1 -8 1 8 1 29 1 3 1 -3 1 -36 1 17 1 23 1 -21 1 16 1 5 1 -22 1 5 1 44 1 -26 1 -17 1 -2 1 24 1 -8 1 22 1 6 1 -41 1 0 1 7 1 -13 1 -28 1 -20 1 24 1 3 1 -13 1 14 1 -6 1 -30 1 -17 1 13 1 -48 1 33 1 14 1 7 1 10 1 -24 1 -36 1 -8 1 -7 1 -22 1 22 1 -33 1 27 1 -4 1 1 1 0 1 -30 1 13 1 13 1 1 1 3 1 19 1 -18 1 -11 1 7 1 10 1 -4 1 10 1 -27 1 -33 1 -10 1 18 1 25 1 -26 1 -4 1 -47 1 3 1 -5 1 -5 1 7 1 9 1 -3 1 2 1 -27 1 12 1 -7 1 33 1 -8 1 16 1 10 1 4 1 18 1 25 1 -3 1 7 1 12 1 -27 1 -1 1 -6 1 8"/>
<path stroke="#bcbd22" d="M199 0l1 12 1 -25 1 8 1 -12 1 6 1 22 1 -4 1 -1 1 42 1 -8 1 -3 1 6 1 -3 1 2 1 4 1 -12 1 32 1 -15 1 2 1 -19 1 -3 1 4 1 -35 1 -17 1 -12 1 21 1 -20 1 45 1 -17 1 -28 1 10 1 -12 1 6 1 -24 1 -11 1 15 1 7 1 -32 1 19 1 1 1 0 1 5 1 -2 1 -15 1 13 1 -10 1 -30 1 -7 1 5 1 31 1 -20 1 -26 1 -2 1 -6 1 5 1 -6 1 -17 1 16 1 7 1 -26 1 4 1 1 1 -4 1 -3 1 15 1 -22 1 -24 1 12 1 20 1 1 1 -17 1 2 1 26 1 0 1 10 1 20 1 -34 1 2 1 8 1 -29 1 22 1 -15 1 -11 1 27 1 -12 1 3 1 39 1 -12 1 1 1 -23 1 3 1 15 1 -18 1 37 1 -21 1 23 1 -20 1 9 1 23 1 -14"/>
<path stroke="#17becf" d="M199 0l1 7 1 22 1 -56 1 -10 1 5 1 6 1 -24 1 -22 1 3 1 11 1 -9 1 -17 1 -20 1 6 1 3 1 15 1 21 1 -27 1 3 1 25 1 -18 1 33 1 -19 1 0 1 14 1 -42 1 17 1 3 1 -3 1 -11 1 -13 1 14 1 -27 1 33 1 1 1 -5 1 10 1 19 1 -12 1 16 1 -22 1 -10 1 6 1 -29 1 34 1 -22 1 4 1 -23 1 8 1 -1 1 24 1 -1 1 -15 1 -28 1 5 1 14 1 11 1 22 1 11 1 -2 1 -14 1 2 1 12 1 -9 1 20 1 -21 1 27 1 -16 1 38 1 -30 1 -15 1 1 1 10 1 8 1 -12 1 12 1 -9 1 -16 1 41 1 -51 1 15 1 7 1 25 1 2 1 -7 1 5 1 -3 1 31 1 8 1 -16 1 28 1 9 1 6 1 13 1 11 1 -26 1 0 1 26 1 -3 1 21"/>
<path stroke="#1f77b4" d="M199 0l1 -19 1 2 1 -10 1 -30 1 20 1 -13 1 -21 1 5 1 1 1 -21 1 1 1 15 1 -2 1 31 1 -8 1 -19 1 5 1 23 1 -7 1 -18 1 18 1 10 1 -6 1 2 1 -3 1 -3 1 10 1 -6 1 15 1 -8 1 -2 1 -15 1 0 1 6 1 7 1 -19 1 -9 1 -25 1 4 1 9 1 8 1 -21 1 12 1 6 1 -20 1 -14 1 -18 1 19 1 7 1 -19 1 20 1 -44 1 -22 1 22 1 5 1 11 1 12 1 -4 1 -46 1 36 1 2 1 -18 1 37 1 19 1 27 1 -58 1 34 1 -12 1 5 1 -18 1 4 1 29 1 6 1 0 1 14 1 26 1 9 1 -9 1 2 1 0 1 32 1 8 1 -1 1 -7 1 -7 1 0 1 12 1 -19 1 49 1 -47 1 19 1 15 1 -16 1 6 1 -14 1 -5 1 13 1 0 1 -10 1 -5"/>
<path stroke="#ff7f0e" d="M199 0l1 -8 1 -32 1 52 1 26 1 -29 1 -3 1 -5 1 24 1 -27 1 6 1 11 1 28 1 -27 1 -9 1 -30 1 26 1 26 1 -4 1 16 1 -2 1 6 1 -15 1 25 1 9 1 -15 1 10 1 -13 1 29 1 17 1 10 1 -6 1 -31 1 64 1 -23 1 -11 1 39 1 24 1 -5 1 -12 1 23 1 -3 1 13 1 4 1 13 1 -10 1 -10 1 -5 1 -6 1 -23 1 8 1 16 1 15 1 4 1 7 1 10 1 0 1 -2 1 0 1 2 1 14 1 -8 1 -6 1 15 1 -20 1 1 1 12 1 -12 1 -10 1 -9 1 -17 1 53 1 -32 1 -1 1 -16 1 -6 1 -8 1 4 1 -13 1 12 1 -17 1 28 1 -10 1 9 1 -42 1 -5 1 26 1 -37 1 37 1 -16 1 24 1 -8 1 21 1 5 1 -4 1 1 1 -19 1 -35 1 15 1 36 1 2"/>
<path stroke="#2ca02c" d="M199 0l1 -28 1 -21 1 -7 1 26 1 -36 1 4 1 -42 1 44 1 -26 1 -7 1 32 1 3 1 -11 1 -1 1 -21 1 23 1 0 1 2 1 18 1 8 1 4 1 3 1 6 1 -9 1 -14 1 27 1 -35 1 12 1 15 1 -8 1 8 1 7 1 21 1 -32 1 57 1 -25 1 -4 1 15 1 -12 1 -15 1 -4 1 -14 1 9 1 3 1 -6 1 -15 1 0 1 -11 1 -34 1 41 1 -14 1 17 1 3 1 -8 1 0 1 11 1 -25 1 -5 1 -9 1 -19 1 4 1 -2 1 -2 1 -33 1 -13 1 19 1 -6 1 8 1 3 1 -23 1 -21 1 31 1 -11 1 -23 1 3 1 20 1 -21 1 32 1 -4 1 -10 1 9 1 2 1 12 1 -3 1 -18 1 13 1 -14 1 -20 1 3 1 32 1 -18 1 -5 1 7 1 0 1 -28 1 2 1 -21 1 15 1 -21 1 25"/>
<path stroke="#d62728" d="M199 0l1 11 1 -20 1 6 1 29 1 11 1 2 1 8 1 -7 1 5 1 6 1 -2 1 -14 1 24 1 0 1 7 1 -20 1 -17 1 23 1 -24 1 -1 1 4 1 10 1 9 1 -17 1 14 1 -4 1 -9 1 -6 1 10 1 0 1 3 1 24 1 -57 1 25 1 -2 1 0 1 3 1 15 1 -10 1 0 1 -10 1 -9 1 19 1 10 1 -14 1 -4 1 -16 1 -19 1 28 1 -6 1 9 1 -22 1 0 1 -9 1 -2 1 18 1 12 1 34 1 4 1 -13 1 -5 1 -9 1 -8 1 11 1 -3 1 7 1 6 1 2 1 -21 1 18 1 -28 1 27 1 13 1 -15 1 14 1 24 1 -27 1 24 1 17 1 -39 1 3 1 32 1 -22 1 7 1 6 1 -4 1 21 1 6 1 -19 1 -11 1 -1 1 -14 1 23 1 2 1 -22 1 12 1 4 1 3 1 -5 1 14"/>
<path stroke="#9467bd" d="M199 0l1 32 1 -49 1 14 1 -38 1 13 1 5 1 -31 1 28 1 6 1 -17 1 24 1 -13 1 15 1 -27 1 0 1 17 1 -15 1 -2 1 30 1 38 1 7 1 -22 1 -24 1 -13 1 33 1 -1 1 -22 1 19 1 -15 1 14 1 -23 1 0 1 26 1 0 1 -22 1 -25 1 33 1 -25 1 -26 1 -8 1 19 1 28 1 -39 1 20 1 -20 1 -13 1 19 1 12 1 -8 1 -1 1 -17 1 6 1 -8 1 13 1 -23 1 -22 1 26 1 -10 1 -15 1 -5 1 10 1 26 1 12 1 7 1 2 1 0 1 8 1 -19 1 37 1 -12 1 21 1 -26 1 0 1 -35 1 1 1 8 1 15 1 -11 1 -30 1 -5 1 -9 1 20 1 -12 1 5 1 7 1 9 1 -13 1 5 1 22 1 -15 1 20 1 -32 1 -1 1 9 1 3 1 13 1 -7 1 -48 1 11 1 -7"/>
<path stroke="#8c564b" d="M199 0l1 7 1 -48 1 30 1 -2 1 -25 1 26 1 -9 1 4 1 1 1 18 1 14 1 22 1 -30 1 8 1 23 1 -6 1 -12 1 -27 1 51 1 -46 1 -9 1 17 1 -8 1 4 1 0 1 -34 1 -13 1 24 1 11 1 -25 1 -29 1 13 1 4 1 -3 1 13 1 21 1 -14 1 39 1 -3 1 -14 1 30 1 4 1 4 1 -16 1 1 1 1 1 -11 1 3 1 7 1 -50 1 -4 1 20 1 2 1 20 1 37 1 -10 1 9 1 7 1 -25 1 21 1 -34 1 26 1 14 1 7 1 -10 1 20 1 -26 1 -30 1 25 1 -1 1 17 1 3 1 -5 1 -17 1 9 1 -5 1 0 1 6 1 1 1 -19 1 -9 1 -21 1 45 1 -26 1 4 1 -13 1 24 1 -26 1 -24 1 -3 1 -30 1 -10 1 38 1 8 1 -3 1 10 1 27 1 -19 1 9 1 -3"/>
<path stroke="#e377c2" d="M199 0l1 44 1 -10 1 18 1 5 1 1 1 -38 1 -3 1 37 1 23 1 -40 1 -8 1 -27 1 17 1 16 1 33 1 29 1 -17 1 -23 1 -22 1 -10 1 23 1 9 1 -1 1 -24 1 16 1 -13 1 -55 1 8 1 -34 1 8 1 7 1 6 1 21 1 -32 1 8 1 -14 1 44 1 -12 1 11 1 10 1 -16 1 -23 1 39 1 -22 1 -10 1 15 1 -25 1 -39 1 30 1 -18 1 27 1 -4 1 32 1 -8 1 27 1 -21 1 -5 1 -10 1 -33 1 -24 1 15 1 27 1 17 1 -46 1 0 1 -1 1 16 1 -15 1 -12 1 51 1 7 1 -20 1 -7 1 16 1 -69 1 39 1 13 1 -9 1 -13 1 4 1 -8 1 2 1 27 1 -29 1 2 1 31 1 -30 1 -16 1 29 1 -21 1 14 1 -2 1 6 1 -1 1 -23 1 -12 1 2 1 6 1 -5 1 4"/>
<path stroke="#7f7f7f" d="M199 0l1 26 1 -6 1 -14 1 39 1 -4 1 -23 1 15 1 -5 1 18 1 -15 1 -1 1 9 1 50 1 -14 1 29 1 21 1 -3 1 34 1 -12 1 -22 1 10 1 -30 1 47 1 11 1 9 1 24 1 -37 1 26 1 -3 1 -10 1 -12 1 -12 1 -3 1 -34 1 22 1 -27 1 -15 1 -28 1 26 1 0 1 9 1 -15 1 -32 1 17 1 10 1 19 1 0 1 6 1 -18 1 -3 1 -17 1 3 1 -1 1 32 1 -10 1 -9 1 15 1 -40 1 30 1 0 1 7 1 26 1 -15 1 -10 1 11 1 -30 1 -11 1 10 1 42 1 14 1 -27 1 25 1 -4 1 53 1 3 1 -44 1 -5 1 17 1 -36 1 46 1 -14 1 -22 1 24 1 -16 1 12 1 0 1 5 1 15 1 7 1 -1 1 18 1 2 1 -6 1 -6 1 -15 1 30 1 -15 1 27 1 -13 1 -1"/>
<path stroke="#bcbd22" d="M199 0l1 39 1 -37 1 -62 1 17 1 33 1 24 1 -10 1 41 1 -22 1 18 1 -8 1 -29 1 10 1 -52 1 5 1 -20 1 -3 1 12 1 14 1 -30 1 -1 1 14 1 2 1 39 1 -20 1 8 1 -15 1 17 1 0 1 -4 1 15 1 -21 1 -12 1 5 1 -42 1 4 1 -1 1 -6 1 30 1 2 1 -33 1 13 1 7 1 4 1 0 1 10 1 -6 1 2 1 36 1 2 1 -39 1 6 1 6 1 -16 1 24 1 0 1 29 1 -20 1 39 1 4 1 -17 1 -16 1 16 1 25 1 0 1 12 1 9 1 14 1 1 1 -9 1 -31 1 -17 1 17 1 -14 1 25 1 -3 1 38 1 -6 1 32 1 -26 1 12 1 1 1 -22 1 4 1 2 1 1 1 -35 1 -1 1 -23 1 24 1 -10 1 -10 1 -11 1 6 1 3 1 -18 1 -15 1 2 1 -22 1 -37"/>
<path stroke="#17becf" d="M199 0l1 -2 1 28 1 -10 1 -42 1 4 1 -13 1 27 1 -7 1 -15 1 3 1 15 1 3 1 -28 1 -28 1 57 1 -20 1 -20 1 1 1 15 1 9 1 -2 1 -58 1 11 1 36 1 28 1 -4 1 -17 1 15 1 9 1 -7 1 -9 1 25 1 -11 1 11 1 10 1 -11 1 8 1 -2 1 18 1 -1 1 -23 1 33 1 11 1 -36 1 16 1 -13 1 -49 1 -17 1 -6 1 -1 1 22 1 -21 1 17 1 -14 1 22 1 -18 1 -5 1 -4 1 35 1 -3 1 -6 1 -11 1 29 1 -1 1 6 1 -27 1 -16 1 -13 1 32 1 7 1 -30 1 24 1 -34 1 8 1 16 1 28 1 4 1 37 1 -34 1 -5 1 -2 1 -12 1 27 1 24 1 13 1 -40 1 9 1 -4 1 -6 1 -3 1 -33 1 30 1 -14 1 34 1 -16 1 34 1 -36 1 -1 1 -10 1 13"/>
<path stroke="#1f77b4" d="M199 0l1 55 1 -14 1 -63 1 -10 1 -7 1 33 1 -14 1 -48 1 13 1 -5 1 -9 1 31 1 -9 1 0 1 -22 1 35 1 21 1 -8 1 -26 1 13 1 -10 1 -9 1 36 1 5 1 19 1 -24 1 0 1 8 1 -5 1 -3 1 -11 1 -5 1 17 1 -29 1 4 1 11 1 -19 1 15 1 -27 1 19 1 17 1 17 1 0 1 -30 1 17 1 -8 1 -2 1 8 1 -38 1 -8 1 26 1 -10 1 8 1 29 1 -34 1 4 1 53 1 -41 1 34 1 14 1 9 1 -11 1 69 1 -15 1 24 1 -48 1 43 1 -47 1 24 1 17 1 -25 1 -22 1 -14 1 -10 1 38 1 -19 1 -14 1 4 1 -34 1 -4 1 36 1 0 1 -7 1 -33 1 -2 1 -23 1 41 1 -9 1 30 1 7 1 -7 1 11 1 5 1 1 1 3 1 19 1 -6 1 30 1 -22 1 21"/>
<path stroke="#ff7f0e" d="M199 0l1 29 1 -36 1 -22 1 -4 1 -16 1 -6 1 11 1 8 1 26 1 -7 1 -24 1 8 1 37 1 -29 1 14 1 0 1 2 1 0 1 16 1 16 1 -11 1 -24 1 17 1 0 1 36 1 12 1 -11 1 5 1 11 1 -11 1 -1 1 20 1 -23 1 16 1 26 1 -3 1 -22 1 1 1 -10 1 20 1 -24 1 -46 1 22 1 -19 1 20 1 -21 1 31 1 -2 1 -3 1 -20 1 29 1 25 1 -18 1 -3 1 21 1 -9 1 26 1 -34 1 9 1 21 1 -14 1 4 1 -13 1 2 1 -11 1 17 1 4 1 1 1 -6 1 -9 1 9 1 -1 1 -11 1 0 1 -16 1 -18 1 -14 1 -5 1 -24 1 18 1 -3 1 -20 1 -14 1 2 1 7 1 18 1 -35 1 16 1 4 1 20 1 -47 1 37 1 14 1 -9 1 -20 1 -6 1 -30 1 10 1 -15 1 14"/>
<path stroke="#2ca02c" d="M199 0l1 -23 1 19 1 -22 1 54 1 9 1 54 1 -5 1 5 1 22 1 -18 1 30 1 -20 1 5 1 16 1 6 1 2 1 3 1 -12 1 -3 1 18 1 -5 1 -33 1 -26 1 4 1 11 1 -4 1 17 1 -32 1 -20 1 -10 1 -18 1 -16 1 7 1 12 1 -12 1 -3 1 -10 1 -16 1 -22 1 -3 1 -29 1 41 1 -33 1 28 1 20 1 -48 1 21 1 22 1 18 1 -10 1 9 1 -16 1 -12 1 -7 1 -9 1 3 1 -10 1 34 1 -13 1 18 1 22 1 -9 1 -27 1 -8 1 15 1 -33 1 3 1 -7 1 -2 1 15 1 8 1 22 1 2 1 26 1 -14 1 -9 1 6 1 -11 1 -35 1 -6 1 27 1 -18 1 18 1 2 1 -30 1 -17 1 10 1 11 1 -8 1 -29 1 6 1 -1 1 -9 1 -6 1 2 1 -36 1 12 1 -15 1 -3 1 6"/>
<path stroke="#d62728" d="M199 0l1 -41 1 18 1 -15 1 13 1 12 1 -36 1 -22 1 -17 1 9 1 -6 1 -7 1 11 1 -17 1 6 1 -1 1 -2 1 23 1 5 1 -30 1 12 1 29 1 -1 1 -14 1 40 1 -22 1 -34 1 -1 1 21 1 -10 1 -18 1 -29 1 39 1 -71 1 41 1 5 1 1 1 -1 1 1 1 0 1 -6 1 12 1 -10 1 25 1 -17 1 5 1 15 1 -9 1 -11 1 32 1 -26 1 4 1 3 1 -13 1 18 1 1 1 -17 1 -2 1 8 1 -15 1 -3 1 8 1 -45 1 27 1 -12 1 7 1 -35 1 20 1 -7 1 -28 1 24 1 -11 1 30 1 -4 1 2 1 -1 1 -1 1 34 1 -5 1 -15 1 1 1 -18 1 3 1 10 1 12 1 12 1 8 1 0 1 5 1 24 1 1 1 19 1 0 1 -11 1 -7 1 -10 1 -14 1 12 1 -31 1 -12 1 -13"/>
<path stroke="#9467bd" d="M199 0l1 -19 1 45 1 -4 1 -33 1 9 1 -22 1 7 1 16 1 -2 1 -6 1 -9 1 19 1 -21 1 -25 1 -7 1 26 1 -16 1 -7 1 10 1 -4 1 -4 1 -10 1 -11 1 36 1 -47 1 17 1 -16 1 -11 1 15 1 -2 1 -46 1 28 1 -26 1 -19 1 13 1 -7 1 -6 1 -1 1 6 1 32 1 -4 1 -18 1 3 1 1 1 -1 1 -6 1 24 1 17 1 0 1 3 1 -23 1 -22 1 -23 1 -5 1 28 1 -10 1 -40 1 -3 1 -1 1 -25 1 20 1 -29 1 -23 1 6 1 -9 1 14 1 -10 1 -6 1 -23 1 8 1 1 1 -8 1 8 1 -15 1 11 1 -31 1 -27 1 40 1 -30 1 9 1 -9 1 -51 1 8 1 19 1 -32 1 -19 1 15 1 -14 1 -9 1 7 1 4 1 6 1 11 1 -15 1 -11 1 -19 1 11 1 -34 1 23 1 1"/>
<path stroke="#8c564b" d="M199 0l1 -50 1 19 1 -17 1 20 1 -20 1 -39 1 15 1 -28 1 1 1 4 1 -27 1 27 1 -1 1 -14 1 -7 1 19 1 -18 1 10 1 -9 1 -7 1 14 1 -5 1 -1 1 -4 1 16 1 27 1 -74 1 -4 1 24 1 -14 1 8 1 -11 1 7 1 -19 1 15 1 24 1 -9 1 5 1 15 1 25 1 2 1 17 1 -23 1 -8 1 -22 1 46 1 6 1 5 1 15 1 -31 1 3 1 -9 1 -24 1 6 1 33 1 -19 1 -12 1 -25 1 16 1 4 1 0 1 -4 1 -17 1 -15 1 33 1 -22 1 -5 1 -5 1 -13 1 5 1 -4 1 20 1 10 1 -14 1 5 1 23 1 18 1 -16 1 15 1 -52 1 34 1 6 1 -25 1 9 1 -15 1 -5 1 -8 1 -4 1 22 1 -25 1 -3 1 -25 1 12 1 4 1 24 1 -29 1 -33 1 -12 1 -4 1 -8"/>
<path stroke="#e377c2" d="M199 0l1 8 1 29 1 46 1 -4 1 -16 1 -3 1 9 1 7 1 51 1 -35 1 4 1 -15 1 15 1 -15 1 -5 1 -45 1 25 1 16 1 -9 1 8 1 -19 1 -7 1 -7 1 -27 1 29 1 -20 1 22 1 -13 1 28 1 -18 1 -23 1 12 1 0 1 0 1 -26 1 20 1 -13 1 15 1 -14 1 -1 1 9 1 -2 1 -13 1 -16 1 7 1 -2 1 17 1 -29 1 -19 1 9 1 -26 1 6 1 -6 1 18 1 9 1 -20 1 7 1 -21 1 26 1 10 1 -3 1 20 1 -8 1 -12 1 1 1 -19 1 -16 1 -13 1 10 1 9 1 -15 1 30 1 -7 1 -20 1 -7 1 0 1 -7 1 -6 1 21 1 -50 1 33 1 -24 1 5 1 -10 1 -22 1 -4 1 -3 1 -30 1 -3 1 -28 1 -1 1 11 1 1 1 4 1 -12 1 -15 1 6 1 16 1 4 1 -5"/>
<path stroke="#7f7f7f" d="M199 0l1 -22 1 67 1 -14 1 38 1 -21 1 30 1 -3 1 -9 1 -10 1 41 1 -38 1 -18 1 14 1 -8 1 4 1 -20 1 36 1 -13 1 20 1 20 1 -4 1 14 1 -28 1 2 1 12 1 -30 1 13 1 4 1 4 1 -9 1 1 1 6 1 -3 1 38 1 -70 1 19 1 4 1 -25 1 26 1 -17 1 45 1 -4 1 0 1 39 1 4 1 23 1 -12 1 16 1 -16 1 -7 1 -3 1 20 1 4 1 -7 1 -29 1 23 1 -5 1 -20 1 14 1 -31 1 -17 1 2 1 9 1 -24 1 45 1 0 1 -32 1 21 1 -1 1 -6 1 -39 1 33 1 10 1 -2 1 -16 1 6 1 -12 1 18 1 -50 1 -13 1 -5 1 10 1 -3 1 -24 1 14 1 -24 1 42 1 -7 1 -29 1 29 1 -8 1 -22 1 2 1 -5 1 -28 1 -1 1 6 1 -23 1 -6 1 7"/>
<path stroke="#bcbd22" d="M199 0l1 -27 1 -12 1 -50 1 -4 1 -1 1 -4 1 -2 1 -9 1 -21 1 15 1 37 1 3 1 21 1 -30 1 3 1 -15 1 -11 1 -9 1 9 1 -13 1 -30 1 -14 1 13 1 -25 1 30 1 14 1 -5 1 -14 1 -11 1 51 1 -9 1 -35 1 6 1 -4 1 2 1 6 1 -19 1 6 1 -2 1 7 1 -13 1 -42 1 31 1 3 1 -29 1 12 1 2 1 -14 1 16 1 -3 1 11 1 -1 1 11 1 5 1 22 1 14 1 -8 1 -3 1 26 1 -14 1 -38 1 5 1 21 1 -21 1 -2 1 -1 1 16 1 -20 1 2 1 -1 1 12 1 -39 1 18 1 -7 1 -28 1 32 1 -10 1 -6 1 -9 1 -14 1 -11 1 -5 1 -27 1 -2 1 -31 1 15 1 -10 1 -6 1 -3 1 20 1 -22 1 0 1 -12 1 24 1 -12 1 3 1 22 1 -40 1 8 1 -4"/>
<path stroke="#17becf" d="M199 0l1 -3 1 7 1 -51 1 26 1 -22 1 57 1 -34 1 63 1 -27 1 23 1 -42 1 6 1 -10 1 14 1 -3 1 24 1 5 1 26 1 3 1 -1 1 -21 1 1 1 0 1 -5 1 26 1 -48 1 16 1 37 1 -4 1 -8 1 -9 1 8 1 -8 1 -29 1 23 1 -11 1 31 1 3 1 26 1 -12 1 -14 1 38 1 -23 1 -36 1 -14 1 -1 1 -7 1 -12 1 23 1 -10 1 4 1 9 1 -8 1 8 1 -38 1 -7 1 2 1 11 1 -20 1 -4 1 2 1 -5 1 -9 1 8 1 -20 1 14 1 -4 1 35 1 -6 1 -42 1 10 1 -33 1 21 1 -26 1 15 1 -18 1 -13 1 21 1 -55 1 40 1 -32 1 28 1 -24 1 18 1 22 1 -10 1 -16 1 -25 1 -10 1 -15 1 -10 1 -29 1 13 1 24 1 -4 1 35 1 -13 1 10 1 2 1 12"/>
<path stroke="#1f77b4" d="M199 0l1 7 1 -9 1 48 1 7 1 3 1 -8 1 2 1 -25 1 17 1 -19 1 27 1 -13 1 -31 1 27 1 -7 1 -7 1 0 1 11 1 16 1 5 1 3 1 -2 1 9 1 21 1 17 1 12 1 18 1 -25 1 20 1 22 1 -55 1 -20 1 17 1 -9 1 21 1 -24 1 29 1 -2 1 5 1 -11 1 -12 1 20 1 10 1 -10 1 25 1 -38 1 -4 1 7 1 14 1 5 1 4 1 -15 1 11 1 -18 1 29 1 -1 1 5 1 -7 1 -6 1 -56 1 -43 1 24 1 -10 1 -3 1 -21 1 -4 1 1 1 10 1 -8 1 19 1 -9 1 -6 1 3 1 8 1 34 1 -25 1 5 1 -22 1 -17 1 -17 1 22 1 -41 1 41 1 -6 1 -2 1 10 1 -38 1 23 1 1 1 0 1 -29 1 22 1 0 1 25 1 23 1 -7 1 6 1 -27 1 8 1 11"/>
<path stroke="#ff7f0e" d="M199 0l1 -46 1 -4 1 -18 1 3 1 -8 1 -10 1 2 1 -19 1 -13 1 -5 1 9 1 -21 1 2 1 6 1 -19 1 -11 1 -9 1 -22 1 8 1 15 1 -4 1 7 1 -7 1 -5 1 0 1 12 1 30 1 -14 1 6 1 15 1 0 1 0 1 -27 1 -3 1 15 1 8 1 -18 1 11 1 2 1 32 1 -12 1 10 1 5 1 -16 1 3 1 21 1 -26 1 14 1 4 1 -6 1 -12 1 4 1 -3 1 -20 1 31 1 -14 1 -16 1 -21 1 1 1 8 1 14 1 2 1 14 1 21 1 -22 1 -20 1 -7 1 10 1 -8 1 1 1 6 1 33 1 -13 1 1 1 -3 1 -26 1 20 1 5 1 -46 1 -2 1 21 1 -13 1 28 1 -12 1 15 1 12 1 -21 1 -2 1 -22 1 -2 1 -2 1 -8 1 7 1 -17 1 -5 1 -17 1 -31 1 2 1 -19 1 -5"/>
<path stroke="#2ca02c" d="M199 0l1 13 1 13 1 -17 1 -41 1 -29 1 34 1 19 1 6 1 1 1 -22 1 33 1 3 1 -26 1 2 1 9 1 -23 1 31 1 -19 1 -7 1 6 1 36 1 -1 1 -6 1 22 1 21 1 -8 1 -7 1 -48 1 35 1 3 1 -18 1 22 1 -19 1 12 1 12 1 -44 1 15 1 -8 1 12 1 7 1 9 1 10 1 21 1 3 1 -27 1 24 1 -5 1 12 1 -41 1 -3 1 22 1 -27 1 25 1 -1 1 -13 1 -36 1 49 1 -1 1 3 1 -31 1 33 1 -13 1 -3 1 31 1 23 1 -14 1 14 1 -16 1 -14 1 17 1 -41 1 11 1 -12 1 13 1 27 1 -12 1 -2 1 -24 1 -10 1 -4 1 -2 1 -10 1 14 1 10 1 24 1 -21 1 23 1 -15 1 1 1 23 1 -36 1 34 1 35 1 -25 1 6 1 -1 1 -5 1 -18 1 2 1 -5"/>
<path stroke="#d62728" d="M199 0l1 -9 1 30 1 10 1 -4 1 16 1 12 1 -25 1 1 1 -15 1 -45 1 1 1 8 1 -57 1 19 1 18 1 -17 1 -17 1 29 1 -12 1 15 1 24 1 1 1 -46 1 27 1 9 1 -15 1 15 1 -26 1 -20 1 -25 1 -7 1 5 1 30 1 24 1 -14 1 -6 1 11 1 35 1 -31 1 5 1 -20 1 13 1 -13 1 2 1 3 1 47 1 -2 1 -41 1 54 1 14 1 3 1 -34 1 -11 1 20 1 -35 1 20 1 3 1 17 1 -34 1 29 1 -14 1 -28 1 -7 1 25 1 -1 1 -27 1 12 1 -12 1 -9 1 15 1 -12 1 18 1 27 1 -9 1 11 1 -53 1 2 1 -37 1 -22 1 3 1 40 1 9 1 16 1 -15 1 -11 1 -4 1 -29 1 -3 1 5 1 13 1 -31 1 -64 1 35 1 19 1 -2 1 7 1 17 1 -18 1 13 1 10"/>
<path stroke="#9467bd" d="M199 0l1 27 1 -5 1 10 1 36 1 -25 1 -39 1 10 1 -25 1 1 1 2 1 37 1 -36 1 -3 1 12 1 20 1 -12 1 6 1 17 1 -7 1 -16 1 10 1 -19 1 -33 1 12 1 -12 1 24 1 -11 1 -3 1 -7 1 11 1 -18 1 33 1 -41 1 -12 1 52 1 -9 1 -10 1 -10 1 0 1 0 1 -6 1 1 1 -30 1 22 1 -3 1 -21 1 30 1 -32 1 17 1 -1 1 15 1 -37 1 7 1 -27 1 19 1 -33 1 17 1 21 1 -15 1 13 1 19 1 2 1 -11 1 -43 1 -10 1 32 1 -29 1 27 1 8 1 -15 1 23 1 0 1 4 1 -18 1 -14 1 13 1 -3 1 12 1 7 1 -27 1 -20 1 21 1 -1 1 6 1 -2 1 12 1 -11 1 -2 1 -18 1 3 1 -9 1 -14 1 20 1 3 1 9 1 -19 1 3 1 25 1 -13 1 -13"/>
<path stroke="#8c564b" d="M199 0l1 -40 1 -13 1 -5 1 7 1 -22 1 -21 1 23 1 21 1 -28 1 2 1 9 1 6 1 -7 1 -50 1 3 1 14 1 -27 1 34 1 -18 1 7 1 -13 1 -3 1 16 1 -9 1 -19 1 37 1 -20 1 7 1 -15 1 -20 1 18 1 -14 1 -2 1 21 1 -23 1 14 1 -5 1 25 1 -16 1 26 1 -37 1 0 1 14 1 -9 1 4 1 -9 1 -6 1 -29 1 18 1 -52 1 22 1 18 1 -6 1 -23 1 -19 1 -11 1 34 1 -34 1 28 1 -20 1 -13 1 28 1 3 1 -31 1 22 1 5 1 -10 1 23 1 -19 1 21 1 -17 1 -15 1 28 1 -22 1 -2 1 -14 1 -25 1 32 1 -9 1 -5 1 17 1 22 1 -5 1 4 1 6 1 12 1 -21 1 20 1 -28 1 -13 1 -26 1 4 1 5 1 -15 1 -21 1 6 1 7 1 6 1 -9 1 2"/>
<path stroke="#e377c2" d="M199 0l1 32 1 25 1 10 1 3 1 -43 1 -7 1 -39 1 38 1 10 1 14 1 5 1 -37 1 29 1 -20 1 31 1 -26 1 14 1 -22 1 10 1 6 1 0 1 0 1 11 1 27 1 -11 1 -17 1 1 1 -29 1 -4 1 -18 1 4 1 -31 1 12 1 34 1 -25 1 -15 1 -5 1 -11 1 -16 1 -11 1 8 1 34 1 -30 1 -1 1 4 1 -23 1 -9 1 5 1 -5 1 -8 1 -2 1 -43 1 -51 1 22 1 6 1 22 1 -6 1 15 1 -29 1 -2 1 -19 1 -3 1 -46 1 31 1 -41 1 3 1 -5 1 -2 1 -9 1 7 1 1 1 -31 1 16 1 -2 1 44 1 -8 1 14 1 -26 1 -16 1 27 1 -7 1 9 1 -15 1 -35 1 13 1 -11 1 29 1 -21 1 5 1 21 1 -18 1 -11 1 8 1 -14 1 11 1 -8 1 -20 1 30 1 -15 1 22"/>
<path stroke="#7f7f7f" d="M199 0l1 57 1 -46 1 8 1 -40 1 5 1 28 1 -13 1 10 1 -13 1 26 1 13 1 -5 1 0 1 5 1 -32 1 15 1 19 1 -18 1 4 1 31 1 -6 1 7 1 -42 1 16 1 1 1 -2 1 -29 1 35 1 -13 1 17 1 20 1 -20 1 4 1 -19 1 13 1 -14 1 -5 1 -32 1 29 1 -27 1 -29 1 28 1 -26 1 34 1 -20 1 13 1 -2 1 22 1 -1 1 -2 1 3 1 9 1 17 1 -14 1 25 1 2 1 -9 1 43 1 -3 1 -8 1 30 1 -36 1 15 1 6 1 0 1 18 1 33 1 -3 1 -24 1 8 1 -26 1 54 1 -6 1 10 1 -17 1 0 1 -22 1 33 1 -54 1 14 1 20 1 -5 1 -4 1 6 1 -9 1 -44 1 19 1 13 1 -3 1 45 1 -14 1 -16 1 19 1 -55 1 32 1 2 1 4 1 25 1 -29 1 -27"/>
<path stroke="#bcbd22" d="M199 0l1 -10 1 -10 1 -9 1 59 1 6 1 11 1 -31 1 -14 1 3 1 25 1 14 1 -2 1 8 1 -14 1 24 1 4 1 -22 1 6 1 14 1 -26 1 -5 1 8 1 -7 1 -33 1 0 1 2 1 20 1 -10 1 14 1 -29 1 16 1 0 1 -13 1 22 1 20 1 -21 1 7 1 -6 1 -9 1 10 1 -11 1 34 1 -5 1 -19 1 12 1 -26 1 21 1 -11 1 7 1 -20 1 -17 1 11 1 9 1 -5 1 28 1 7 1 0 1 9 1 -32 1 28 1 3 1 -15 1 -22 1 -17 1 7 1 11 1 29 1 -30 1 9 1 11 1 -36 1 18 1 -11 1 14 1 12 1 35 1 -36 1 22 1 -16 1 -14 1 -13 1 3 1 -11 1 -9 1 13 1 4 1 5 1 22 1 -14 1 21 1 -15 1 -7 1 -16 1 -14 1 10 1 37 1 12 1 -27 1 30 1 12"/>
<path stroke="#17becf" d="M199 0l1 -5 1 -39 1 44 1 -16 1 0 1 -4 1 16 1 0 1 2 1 -18 1 6 1 13 1 19 1 3 1 -6 1 17 1 2 1 -15 1 34 1 1 1 8 1 -6 1 44 1 -16 1 11 1 5 1 25 1 7 1 -14 1 -12 1 47 1 -21 1 8 1 24 1 3 1 -3 1 -23 1 -12 1 13 1 -16 1 -25 1 25 1 16 1 3 1 7 1 -25 1 34 1 -27 1 34 1 -11 1 19 1 2 1 -16 1 22 1 -30 1 13 1 -29 1 -8 1 -9 1 83 1 -37 1 12 1 6 1 -39 1 -8 1 -4 1 20 1 4 1 1 1 32 1 6 1 -9 1 1 1 -31 1 -10 1 -2 1 27 1 -4 1 -8 1 -13 1 26 1 -40 1 6 1 20 1 -26 1 17 1 3 1 -13 1 -7 1 3 1 -12 1 -4 1 4 1 -18 1 0 1 0 1 -26 1 -12 1 19 1 3"/>
<path stroke="#1f77b4" d="M199 0l1 -15 1 -5 1 -30 1 6 1 -5 1 9 1 -50 1 19 1 31 1 -18 1 -14 1 30 1 20 1 -22 1 -16 1 0 1 -2 1 10 1 24 1 -16 1 -27 1 8 1 -4 1 27 1 4 1 -6 1 -6 1 7 1 -14 1 14 1 31 1 -2 1 -4 1 -20 1 21 1 9 1 15 1 1 1 -9 1 -19 1 7 1 7 1 -6 1 -25 1 9 1 -4 1 -26 1 15 1 -17 1 -9 1 -5 1 12 1 -29 1 -5 1 9 1 -3 1 15 1 -3 1 -16 1 0 1 13 1 -42 1 28 1 6 1 -3 1 15 1 -12 1 12 1 7 1 -17 1 -2 1 -15 1 32 1 3 1 -18 1 4 1 5 1 -3 1 -21 1 -8 1 5 1 32 1 -26 1 -2 1 3 1 11 1 23 1 22 1 9 1 -1 1 26 1 -28 1 8 1 -1 1 8 1 -26 1 -3 1 42 1 23 1 -36"/>
<path stroke="#ff7f0e" d="M199 0l1 -1 1 20 1 50 1 -3 1 14 1 10 1 12 1 0 1 24 1 -17 1 19 1 6 1 -21 1 25 1 -37 1 -15 1 -23 1 29 1 0 1 2 1 -5 1 -10 1 28 1 -10 1 11 1 23 1 16 1 -21 1 -1 1 6 1 8 1 11 1 -21 1 22 1 15 1 -16 1 15 1 29 1 -17 1 -11 1 6 1 2 1 -9 1 -21 1 -18 1 18 1 -15 1 31 1 21 1 -16 1 2 1 -17 1 33 1 13 1 -30 1 12 1 15 1 7 1 -10 1 18 1 -15 1 -26 1 -35 1 69 1 -19 1 -8 1 -23 1 15 1 14 1 -30 1 33 1 6 1 3 1 2 1 15 1 -22 1 -17 1 9 1 -5 1 -12 1 4 1 -3 1 30 1 7 1 -28 1 20 1 2 1 -31 1 35 1 21 1 -24 1 -18 1 1 1 14 1 -17 1 7 1 -18 1 -1 1 -12 1 -7"/>
<path stroke="#2ca02c" d="M199 0l1 -54 1 14 1 -17 1 -1 1 -2 1 -10 1 4 1 37 1 -8 1 -7 1 -3 1 -14 1 -5 1 -13 1 0 1 8 1 -24 1 -3 1 -9 1 -4 1 0 1 -14 1 -15 1 16 1 -18 1 2 1 -12 1 8 1 -4 1 -51 1 -14 1 -21 1 19 1 6 1 2 1 -20 1 9 1 14 1 -30 1 14 1 -11 1 9 1 21 1 -39 1 19 1 -21 1 2 1 -52 1 0 1 25 1 7 1 5 1 -4 1 -17 1 2 1 -10 1 -19 1 -4 1 -7 1 -3 1 -40 1 -2 1 -10 1 8 1 25 1 -16 1 -6 1 14 1 -25 1 20 1 -18 1 4 1 1 1 14 1 5 1 -5 1 25 1 -27 1 -8 1 -26 1 -4 1 31 1 8 1 -1 1 7 1 -24 1 -30 1 34 1 -2 1 23 1 -2 1 15 1 -10 1 7 1 20 1 -13 1 -1 1 0 1 -3 1 -17"/>
<path stroke="#d62728" d="M199 0l1 -16 1 -3 1 6 1 -20 1 0 1 -27 1 -8 1 -6 1 -13 1 24 1 -35 1 -2 1 19 1 -15 1 7 1 -23 1 -33 1 18 1 3 1 6 1 8 1 -11 1 7 1 -2 1 -5 1 -9 1 8 1 -11 1 -33 1 -4 1 9 1 21 1 -12 1 25 1 -1 1 -35 1 -20 1 -11 1 6 1 -26 1 3 1 24 1 -4 1 0 1 -28 1 35 1 -19 1 -21 1 16 1 -1 1 -20 1 -28 1 -17 1 -24 1 19 1 10 1 0 1 -22 1 11 1 7 1 -9 1 3 1 6 1 -14 1 -2 1 35 1 -39 1 -1 1 -3 1 47 1 0 1 10 1 -6 1 14 1 13 1 -2 1 -18 1 6 1 5 1 27 1 3 1 -8 1 14 1 -26 1 4 1 -4 1 38 1 -21 1 -15 1 -23 1 30 1 -12 1 -13 1 34 1 15 1 -48 1 7 1 10 1 13 1 23"/>
<path stroke="#9467bd" d="M199 0l1 36 1 -2 1 -2 1 -11 1 18 1 -28 1 30 1 14 1 -6 1 42 1 16 1 20 1 24 1 28 1 23 1 1 1 -9 1 11 1 -22 1 5 1 1 1 -13 1 17 1 15 1 -17 1 15 1 30 1 0 1 16 1 -19 1 52 1 -76 1 52 1 -64 1 -32 1 22 1 -23 1 -13 1 -7 1 4 1 26 1 23 1 -56 1 29 1 -12 1 -22 1 10 1 23 1 24 1 -4 1 5 1 21 1 -27 1 -11 1 1 1 -6 1 8 1 -5 1 -11 1 -2 1 -27 1 30 1 0 1 -15 1 26 1 28 1 -18 1 0 1 -3 1 -20 1 3 1 18 1 -2 1 -14 1 -17 1 15 1 -31 1 21 1 -17 1 1 1 6 1 -6 1 -7 1 13 1 -6 1 -1 1 -1 1 -2 1 -38 1 -1 1 2 1 -37 1 -18 1 -3 1 -23 1 12 1 -22 1 33 1 -8 1 19"/>
<path stroke="#8c564b" d="M199 0l1 -41 1 2 1 53 1 40 1 -12 1 16 1 -10 1 -19 1 16 1 -20 1 -10 1 -1 1 21 1 0 1 -34 1 18 1 -15 1 -27 1 8 1 7 1 -37 1 4 1 34 1 -17 1 11 1 -12 1 -13 1 5 1 -34 1 -5 1 11 1 -23 1 16 1 -11 1 14 1 -9 1 -35 1 -7 1 -27 1 15 1 -47 1 13 1 30 1 -24 1 11 1 25 1 -6 1 -28 1 3 1 -6 1 -12 1 10 1 3 1 24 1 16 1 0 1 -19 1 -5 1 11 1 5 1 -17 1 4 1 21 1 -19 1 34 1 -15 1 8 1 29 1 -7 1 27 1 -19 1 1 1 7 1 -20 1 10 1 -4 1 3 1 -5 1 10 1 0 1 -8 1 -15 1 10 1 23 1 2 1 1 1 9 1 -1 1 27 1 -29 1 39 1 -42 1 -9 1 18 1 -11 1 19 1 15 1 -6 1 12 1 -6"/>
<path stroke="#e377c2" d="M199 0l1 -8 1 15 1 12 1 -24 1 3 1 -32 1 14 1 19 1 21 1 -11 1 -11 1 -29 1 12 1 -20 1 -3 1 24 1 19 1 20 1 -18 1 -26 1 31 1 -5 1 -13 1 13 1 -20 1 6 1 11 1 1 1 6 1 -17 1 31 1 5 1 27 1 -18 1 15 1 18 1 -13 1 -6 1 33 1 -2 1 19 1 -3 1 4 1 20 1 13 1 6 1 -22 1 -7 1 -21 1 23 1 6 1 -6 1 29 1 -26 1 27 1 -43 1 2 1 27 1 -8 1 32 1 -24 1 -6 1 -15 1 -29 1 0 1 -15 1 31 1 -22 1 -14 1 -1 1 37 1 11 1 6 1 29 1 -12 1 15 1 -2 1 -9 1 -7 1 -15 1 -43 1 17 1 -6 1 8 1 -18 1 5 1 -13 1 11 1 -11 1 19 1 -15 1 18 1 -8 1 -2 1 -27 1 9 1 13 1 -28 1 32 1 -22"/>
<path stroke="#7f7f7f" d="M199 0l1 15 1 8 1 41 1 20 1 2 1 21 1 -33 1 -6 1 10 1 13 1 -18 1 49 1 -12 1 2 1 11 1 -15 1 -25 1 -5 1 17 1 12 1 -5 1 17 1 -17 1 16 1 -31 1 -22 1 9 1 -5 1 -51 1 18 1 20 1 10 1 -24 1 -29 1 -7 1 15 1 -21 1 -11 1 -5 1 -6 1 37 1 -8 1 8 1 -14 1 -25 1 -1 1 6 1 -28 1 -13 1 8 1 -17 1 -16 1 22 1 -1 1 8 1 4 1 -5 1 -10 1 47 1 -14 1 -11 1 27 1 -13 1 12 1 12 1 30 1 19 1 -8 1 -5 1 22 1 -16 1 -4 1 20 1 -22 1 10 1 -24 1 -12 1 19 1 -2 1 8 1 2 1 -11 1 4 1 -26 1 -3 1 26 1 7 1 -21 1 -1 1 11 1 22 1 22 1 14 1 -5 1 1 1 1 1 1 1 39 1 -10 1 -4"/>
<path stroke="#bcbd22" d="M199 0l1 6 1 -29 1 58 1 -45 1 4 1 -15 1 -18 1 -24 1 16 1 -9 1 31 1 5 1 -20 1 -18 1 2 1 3 1 12 1 25 1 -37 1 9 1 -8 1 19 1 -11 1 6 1 27 1 -28 1 12 1 22 1 -10 1 3 1 48 1 -18 1 11 1 -6 1 13 1 -10 1 -6 1 -4 1 10 1 -24 1 23 1 -23 1 -23 1 19 1 2 1 5 1 -13 1 0 1 3 1 -5 1 14 1 5 1 -20 1 -9 1 -16 1 13 1 -27 1 37 1 -24 1 24 1 10 1 -8 1 -31 1 24 1 -15 1 0 1 -17 1 47 1 -12 1 -26 1 -40 1 15 1 16 1 27 1 2 1 8 1 -16 1 28 1 13 1 -7 1 -25 1 2 1 -6 1 9 1 -18 1 25 1 -5 1 2 1 6 1 -5 1 -23 1 -18 1 -5 1 34 1 15 1 -2 1 14 1 18 1 -59 1 55"/>
<path stroke="#17becf" d="M199 0l1 -1 1 25 1 -20 1 37 1 -7 1 37 1 -32 1 -55 1 -36 1 -6 1 -17 1 -1 1 13 1 -9 1 -26 1 29 1 -30 1 0 1 -5 1 4 1 -8 1 -14 1 39 1 11 1 -9 1 2 1 -6 1 -20 1 -20 1 7 1 -32 1 3 1 -14 1 1 1 13 1 10 1 2 1 -6 1 15 1 13 1 -40 1 2 1 2 1 -8 1 -6 1 13 1 -34 1 24 1 -23 1 15 1 29 1 -5 1 -16 1 20 1 3 1 -6 1 9 1 28 1 3 1 -17 1 -28 1 -2 1 2 1 19 1 -2 1 -11 1 -20 1 16 1 -7 1 13 1 9 1 -4 1 -1 1 -15 1 -35 1 24 1 -3 1 -38 1 19 1 9 1 -9 1 7 1 -13 1 1 1 8 1 -8 1 7 1 23 1 -26 1 20 1 -15 1 -20 1 -23 1 34 1 -31 1 1 1 -8 1 -3 1 -29 1 13"/>
<path stroke="#1f77b4" d="M199 0l1 -10 1 -34 1 -15 1 54 1 -27 1 -5 1 -4 1 9 1 -25 1 19 1 -23 1 -35 1 48 1 16 1 -22 1 5 1 36 1 19 1 -33 1 45 1 -11 1 -3 1 1 1 -3 1 -13 1 38 1 -28 1 9 1 -39 1 1 1 -13 1 18 1 -13 1 7 1 -5 1 -24 1 39 1 -14 1 -5 1 9 1 33 1 -6 1 -15 1 -44 1 -30 1 26 1 -40 1 39 1 -26 1 27 1 7 1 -17 1 -8 1 -15 1 9 1 -21 1 36 1 4 1 -33 1 4 1 36 1 -14 1 10 1 -4 1 1 1 2 1 -23 1 22 1 -31 1 1 1 3 1 -39 1 -2 1 2 1 -5 1 -13 1 12 1 2 1 22 1 -17 1 8 1 -17 1 5 1 -21 1 -20 1 20 1 -21 1 10 1 -23 1 -37 1 -6 1 29 1 -33 1 -25 1 -5 1 17 1 3 1 5 1 -17 1 -1"/>
<path stroke="#ff7f0e" d="M199 0l1 87 1 -28 1 16 1 -25 1 -4 1 -45 1 -5 1 6 1 -22 1 -12 1 -13 1 -1 1 2 1 -1 1 -7 1 39 1 -46 1 -3 1 -53 1 -16 1 44 1 -27 1 9 1 3 1 36 1 15 1 -13 1 19 1 12 1 -28 1 14 1 8 1 -13 1 5 1 25 1 -17 1 8 1 3 1 11 1 -15 1 -13 1 -14 1 7 1 -18 1 1 1 3 1 4 1 -25 1 32 1 -24 1 15 1 -9 1 25 1 -29 1 -22 1 -2 1 31 1 -8 1 7 1 7 1 -9 1 14 1 0 1 26 1 -42 1 37 1 5 1 -14 1 25 1 34 1 -40 1 -7 1 19 1 -7 1 22 1 23 1 -15 1 -12 1 27 1 15 1 -6 1 8 1 -8 1 -24 1 35 1 -22 1 11 1 -33 1 -2 1 -3 1 1 1 3 1 28 1 -28 1 -20 1 -16 1 -32 1 22 1 -3 1 4"/>
<path stroke="#2ca02c" d="M199 0l1 -1 1 -14 1 26 1 24 1 -10 1 22 1 9 1 -10 1 -19 1 28 1 22 1 -13 1 -7 1 14 1 9 1 -13 1 17 1 -27 1 -6 1 25 1 -31 1 16 1 -34 1 19 1 0 1 -40 1 -2 1 -4 1 16 1 2 1 19 1 15 1 -41 1 -9 1 2 1 15 1 2 1 -8 1 23 1 5 1 -9 1 -11 1 11 1 -14 1 60 1 -37 1 -2 1 -3 1 11 1 6 1 -9 1 -30 1 0 1 -5 1 4 1 9 1 -10 1 11 1 -3 1 -10 1 4 1 9 1 -34 1 -1 1 -24 1 19 1 13 1 24 1 14 1 -27 1 -49 1 35 1 28 1 2 1 23 1 10 1 6 1 -2 1 7 1 0 1 -28 1 30 1 2 1 27 1 -38 1 16 1 -5 1 -10 1 16 1 -11 1 -25 1 13 1 -4 1 0 1 -25 1 -1 1 -20 1 20 1 -12 1 27"/>
<path stroke="#d62728" d="M199 0l1 48 1 11 1 6 1 -12 1 25 1 11 1 6 1 13 1 41 1 -30 1 11 1 -37 1 28 1 0 1 22 1 -39 1 -13 1 22 1 2 1 -13 1 -14 1 4 1 -11 1 3 1 -8 1 20 1 -7 1 4 1 5 1 -13 1 9 1 -10 1 -7 1 -20 1 33 1 -13 1 -21 1 -33 1 5 1 39 1 18 1 -13 1 13 1 -14 1 16 1 3 1 -8 1 39 1 -6 1 3 1 7 1 7 1 8 1 7 1 -30 1 6 1 -7 1 -10 1 11 1 10 1 -24 1 4 1 -11 1 15 1 -16 1 29 1 -35 1 -21 1 8 1 -16 1 -12 1 29 1 5 1 7 1 -7 1 -7 1 6 1 2 1 -2 1 0 1 1 1 -19 1 -6 1 -11 1 8 1 9 1 -10 1 3 1 13 1 40 1 -11 1 -24 1 3 1 18 1 -13 1 33 1 -33 1 4 1 -14 1 -10"/>
<path stroke="#8a4a20" d="M0 -0.8H199"/>
<path stroke="#bf1a0c" d="M0 0H199"/>
<path stroke="#bf1a0c" d="M0 0H199"/>
<path stroke="#bf1a0c" d="M0 0H199"/></g></g>
<!-- axes boxes -->
<g fill="none" stroke="#000" stroke-width="2.2">
<rect x="117" y="62" width="421.5" height="420.7"/>
<rect x="749" y="62" width="421" height="420.7"/>
</g>
<!-- ticks -->
<g stroke="#7c7c7c" stroke-width="1.3">
<path d="M136.3 483.8V495.5M264.4 483.8V495.5M392.5 483.8V495.5M520.6 483.8V495.5"/>
<path d="M104.2 133H116M104.2 272.3H116M104.2 411.7H116"/>
<path d="M768.2 483.8V495.5M896.2 483.8V495.5M1024.2 483.8V495.5M1152.3 483.8V495.5"/>
<path d="M736.1 103.9H748M736.1 200.3H748M736.1 296.7H748M736.1 393.2H748"/>
</g>
<g font-size="30" fill="#000" text-rendering="geometricPrecision" opacity="0.999">
<text transform="matrix(1.0209 0.0000 0.0000 1.0206 76.753 143.844)" stroke="none">2</text>
<text transform="matrix(1.0092 0.0000 0.0000 1.0276 76.812 282.732)" stroke="none">0</text>
<text transform="matrix(1.0280 0.0000 0.0000 1.0237 76.703 420.839)" stroke="none">2</text>
<text transform="matrix(1.0331 0.0000 0.0000 1.0205 127.178 526.691)" stroke="none">0</text>
<text transform="matrix(0.9980 0.0000 0.0000 1.0242 255.497 526.526)" stroke="none">00</text>
<text transform="matrix(1.0066 0.0000 0.0000 1.0166 366.610 526.681)" stroke="none">200</text>
<text transform="matrix(0.9917 0.0000 0.0000 1.0116 495.074 526.993)" stroke="none">300</text>
<text transform="matrix(1.0292 0.0000 0.0000 1.0191 759.108 526.681)" stroke="none">0</text>
<text transform="matrix(0.9904 0.0000 0.0000 1.0188 887.810 526.541)" stroke="none">00</text>
<text transform="matrix(1.0127 0.0000 0.0000 1.0152 998.095 526.681)" stroke="none">200</text>
<text transform="matrix(0.9940 0.0000 0.0000 1.0148 1126.674 526.995)" stroke="none">300</text>
<text transform="matrix(0.9792 0.0000 0.0000 0.9897 274.103 569.380)">Iteration</text>
<text transform="matrix(0.9787 0.0000 0.0000 0.9820 905.915 569.368)">Iteration</text>
<text transform="matrix(0.9818 0.0000 0.0000 1.0219 220.183 32.623)">Flux-bias offsets</text>
<text transform="matrix(0.9781 0.0000 0.0000 1.0110 894.147 27.446)">Couplings</text>
<text transform="matrix(1.0177 0.0000 0.0000 1.0218 651.394 112.638)" stroke="none">0.</text>
<text transform="matrix(0.9872 0.0000 0.0000 1.0160 692.998 112.312)" stroke="none">96</text>
<text transform="matrix(1.0187 0.0000 0.0000 1.0252 651.371 209.162)" stroke="none">0.</text>
<text transform="matrix(0.9956 0.0000 0.0000 1.0214 692.634 209.470)" stroke="none">98</text>
<text transform="matrix(0.9938 0.0000 0.0000 1.0216 651.279 305.717)" stroke="none">0.200</text>
<text transform="matrix(0.9958 0.0000 0.0000 1.0291 651.465 402.571)" stroke="none">0.202</text>
<text transform="matrix(0.9673 0.0000 0.0000 1.0086 151.097 47.648)" stroke="none">0</text>
<text transform="matrix(0.7350 0.0000 0.0000 0.7349 186.043 36.866)" stroke="none">5</text>
<text transform="matrix(0.0000 -0.7177 0.7101 0.0000 32.337 295.134)" font-style="italic" stroke="none">i</text>
<text transform="matrix(0.0000 -0.8475 1.0259 0.0000 27.206 279.426)" stroke="none">(</text>
<text transform="matrix(0.0000 -0.5910 0.6982 0.0000 31.363 248.087)" stroke="none">0</text>
<text transform="matrix(0.0000 -0.8511 1.0295 0.0000 27.589 235.286)" stroke="none">)</text>
<text transform="matrix(0.0000 -0.8362 0.6822 0.0000 608.380 268.236)" font-style="italic" stroke="none">i</text>
</g>
<g fill="#000">
<rect x="56.10" y="412.51" width="18.30" height="1.50" rx="0.75"/>
<rect x="630.96" y="104.62" width="18.00" height="1.45" rx="0.72"/>
<rect x="630.96" y="201.33" width="18.00" height="1.45" rx="0.72"/>
<rect x="630.96" y="297.92" width="18.00" height="1.45" rx="0.72"/>
<rect x="630.96" y="394.32" width="18.00" height="1.45" rx="0.72"/>
<rect x="169.80" y="31.40" width="13.60" height="1.30" rx="0.65"/>
<circle cx="130.25" cy="40.75" r="1.65"/>
<path d="M250.66 526.83V506.03Q250.40 505.63 249.70 505.73C248.80 506.03 248.00 507.93 246.70 509.13C245.40 509.93 244.10 510.23 243.00 510.33Q242.70 511.23 243.00 512.13L247.86 511.68V526.83ZM881.93 526.80V506.05Q881.67 505.65 880.97 505.75C880.07 506.05 879.27 507.95 877.97 509.15C876.67 509.95 875.37 510.25 874.27 510.35Q873.97 511.25 874.27 512.15L879.13 511.70V526.80ZM145.69 47.57V26.77Q145.43 26.37 144.73 26.47C143.83 26.77 143.03 28.67 141.73 29.87C140.43 30.67 139.13 30.97 138.03 31.07Q137.73 31.97 138.03 32.87L142.89 32.42V47.57ZM687.30 112.60V91.60Q687.04 91.20 686.34 91.30C685.44 91.60 684.64 93.50 683.34 94.70C682.04 95.50 680.74 95.80 679.64 95.90Q679.34 96.80 679.64 97.70L684.50 97.25V112.60ZM687.30 209.30V188.30Q687.04 187.90 686.34 188.00C685.44 188.30 684.64 190.20 683.34 191.40C682.04 192.20 680.74 192.50 679.64 192.60Q679.34 193.50 679.64 194.40L684.50 193.95V209.30Z"/>
<ellipse cx="16.45" cy="260.40" rx="5.25" ry="8.05" fill="none" stroke="#000" stroke-width="2.2"/>
<rect x="5.2" y="259.15" width="22.1" height="2.4"/>
<ellipse cx="16.45" cy="307.40" rx="5.25" ry="8.05" fill="none" stroke="#000" stroke-width="2.2"/>
<rect x="5.2" y="306.15" width="22.1" height="2.4"/>
<path d="M582.0 268.9L598.0 273.0C602.5 274.2 604.2 277.5 602.6 280.0C601.5 281.6 599.3 282.1 597.6 281.0" fill="none" stroke="#000" stroke-width="2.6"/>
</g>
</svg>
</body></html>
